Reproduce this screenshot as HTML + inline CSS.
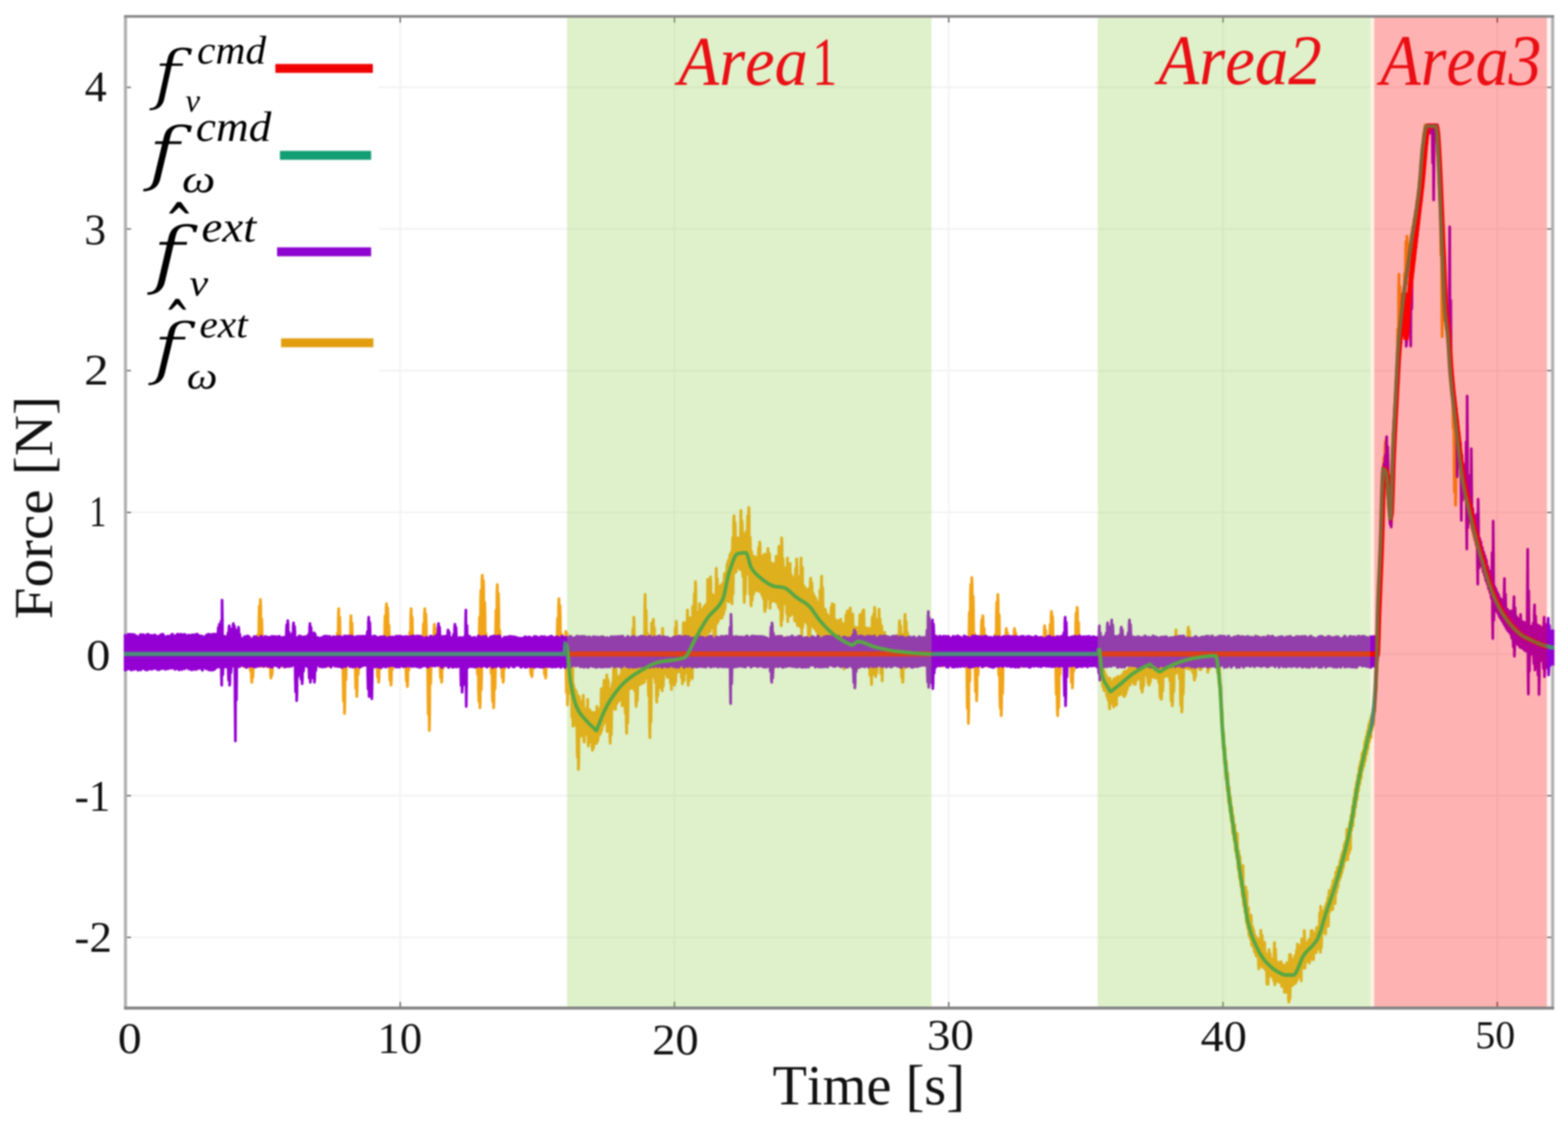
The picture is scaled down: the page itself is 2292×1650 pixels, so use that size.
<!DOCTYPE html>
<html lang="en">
<head>
<meta charset="utf-8">
<title>Force vs Time</title>
<style>
html,body{margin:0;padding:0;background:#fff;}
body{width:2292px;height:1650px;overflow:hidden;}
svg{display:block;filter:blur(0.8px);}
</style>
</head>
<body>
<svg width="2292" height="1650" viewBox="0 0 2292 1650">
<rect width="2292" height="1650" fill="#fff"/>
<path d="M585.0,24.0 V1473.2 M985.9,24.0 V1473.2 M1386.8,24.0 V1473.2 M1787.7,24.0 V1473.2 M2188.6,24.0 V1473.2 M183.4,1369.9 H2269.6 M183.4,1162.8 H2269.6 M183.4,955.8 H2269.6 M183.4,748.8 H2269.6 M183.4,541.7 H2269.6 M183.4,334.6 H2269.6 M183.4,127.6 H2269.6" stroke="#f3f3f3" stroke-width="2.5" fill="none"/>
<rect x="188" y="40" width="366" height="560" fill="#fff"/>
<rect x="2003" y="25.5" width="5.8" height="1447.7" fill="#FCF3E2"/>
<rect x="2261.2" y="25.5" width="6.4" height="1447.7" fill="#FFF4F4"/>
<path d="M585.0,1473.2 v-9 M585.0,24.0 v9 M985.9,1473.2 v-9 M985.9,24.0 v9 M1386.8,1473.2 v-9 M1386.8,24.0 v9 M1787.7,1473.2 v-9 M1787.7,24.0 v9 M2188.6,1473.2 v-9 M2188.6,24.0 v9 M183.4,1369.9 h8 M2269.6,1369.9 h-8 M183.4,1162.8 h8 M2269.6,1162.8 h-8 M183.4,955.8 h8 M2269.6,955.8 h-8 M183.4,748.8 h8 M2269.6,748.8 h-8 M183.4,541.7 h8 M2269.6,541.7 h-8 M183.4,334.6 h8 M2269.6,334.6 h-8 M183.4,127.6 h8 M2269.6,127.6 h-8" stroke="#555" stroke-width="1.8" fill="none"/>
<clipPath id="c"><rect x="180.9" y="24.0" width="2091.2" height="1449.2"/></clipPath>
<path d="M183.4,22.0 V1475.2 M2269.6,22.0 V1475.2" stroke="#b0b0b0" stroke-width="4.5" fill="none"/>
<defs>
<path id="po" d="M181.1,940.5 181.6,972.0 182.1,972.0 182.6,940.5 183.1,942.7 183.6,971.4 184.1,971.4 184.6,942.7 185.1,939.4 185.6,971.6 186.1,971.6 186.6,939.4 187.1,937.9 187.6,970.2 188.1,970.2 188.6,937.9 189.1,941.0 189.6,973.9 190.1,973.9 190.6,941.0 191.1,941.9 191.6,970.3 192.1,970.3 192.6,941.9 193.1,941.4 193.6,974.3 194.1,974.3 194.6,941.4 195.1,941.2 195.6,973.6 196.1,973.6 196.6,941.2 197.1,937.2 197.6,970.5 198.1,970.5 198.6,937.2 199.1,941.0 199.6,970.1 200.1,970.1 200.6,941.0 201.1,938.5 201.6,973.4 202.1,973.4 202.6,938.5 203.1,942.1 203.6,974.1 204.1,974.1 204.6,942.1 205.1,942.3 205.6,969.9 206.1,969.9 206.6,942.3 207.1,941.4 207.6,973.4 208.1,973.4 208.6,941.4 209.1,941.2 209.6,973.9 210.1,973.9 210.6,941.2 211.1,938.8 211.6,969.9 212.1,969.9 212.6,938.8 213.1,939.4 213.6,972.4 214.1,972.4 214.6,939.4 215.1,941.9 215.6,971.8 216.1,971.8 216.6,941.9 217.1,940.7 217.6,970.9 218.1,970.9 218.6,940.7 219.1,942.0 219.6,969.2 220.1,969.2 220.6,942.0 221.1,938.2 221.6,972.4 222.1,972.4 222.6,938.2 223.1,941.6 223.6,970.6 224.1,970.6 224.6,941.6 225.1,942.2 225.6,974.3 226.1,974.3 226.6,942.2 227.1,941.1 227.6,971.8 228.1,971.8 228.6,941.1 229.1,942.8 229.6,972.2 230.1,972.2 230.6,942.8 231.1,942.2 231.6,973.9 232.1,973.9 232.6,942.2 233.1,938.8 233.6,972.9 234.1,972.9 234.6,938.8 235.1,940.6 235.6,973.2 236.1,973.2 236.6,940.6 237.1,941.0 237.6,972.2 238.1,972.2 238.6,941.0 239.1,940.6 239.6,972.0 240.1,972.0 240.6,940.6 241.1,941.4 241.6,973.6 242.1,973.6 242.6,941.4 243.1,941.3 243.6,971.3 244.1,971.3 244.6,941.3 245.1,940.7 245.6,969.2 246.1,969.2 246.6,940.7 247.1,940.3 247.6,973.2 248.1,973.2 248.6,940.3 249.1,939.9 249.6,971.5 250.1,971.5 250.6,939.9 251.1,942.3 251.6,970.7 252.1,970.7 252.6,942.3 253.1,940.4 253.6,969.2 254.1,969.2 254.6,940.4 255.1,937.8 255.6,970.2 256.1,970.2 256.6,937.8 257.1,940.8 257.6,969.4 258.1,969.4 258.6,940.8 259.1,942.1 259.6,971.2 260.1,971.2 260.6,942.1 261.1,941.1 261.6,969.0 262.1,969.0 262.6,941.1 263.1,941.0 263.6,974.2 264.1,974.2 264.6,941.0 265.1,938.9 265.6,970.1 266.1,970.1 266.6,938.9 267.1,939.1 267.6,969.3 268.1,969.3 268.6,939.1 269.1,939.5 269.6,970.3 270.1,970.3 270.6,939.5 271.1,942.7 271.6,971.0 272.1,971.0 272.6,942.7 273.1,938.4 273.6,971.5 274.1,971.5 274.6,938.4 275.1,939.1 275.6,969.1 276.1,969.1 276.6,939.1 277.1,939.6 277.6,972.5 278.1,972.5 278.6,939.6 279.1,940.0 279.6,970.6 280.1,970.6 280.6,940.0 281.1,941.9 281.6,970.9 282.1,970.9 282.6,941.9 283.1,940.0 283.6,970.7 284.1,970.7 284.6,940.0 285.1,938.3 285.6,970.7 286.1,970.7 286.6,938.3 287.1,941.9 287.6,970.1 288.1,970.1 288.6,941.9 289.1,939.9 289.6,973.4 290.1,973.4 290.6,939.9 291.1,942.5 291.6,969.8 292.1,969.8 292.6,942.5 293.1,940.3 293.6,973.5 294.1,973.5 294.6,940.3 295.1,938.1 295.6,970.1 296.1,970.1 296.6,938.1 297.1,938.5 297.6,973.0 298.1,973.0 298.6,938.5 299.1,942.6 299.6,973.5 300.1,973.5 300.6,942.6 301.1,939.1 301.6,973.9 302.1,973.9 302.6,939.1 303.1,940.7 303.6,973.7 304.1,973.7 304.6,940.7 305.1,941.0 305.6,971.7 306.1,971.7 306.6,941.0 307.1,939.9 307.6,970.5 308.1,970.5 308.6,939.9 309.1,937.2 309.6,970.6 310.1,970.6 310.6,937.2 311.1,937.9 311.6,970.9 312.1,970.9 312.6,937.9 313.1,941.1 313.6,973.7 314.1,973.7 314.6,941.1 315.1,941.1 315.6,971.1 316.1,971.1 316.6,941.1 317.1,938.5 317.6,970.9 318.1,970.9 318.6,938.5 319.1,937.8 319.6,972.1 320.1,972.1 320.6,937.8 321.1,942.4 321.6,970.6 322.1,970.6 322.6,942.4 323.1,938.0 323.6,969.0 324.1,969.0 324.6,938.0 325.1,941.9 325.6,972.2 326.1,972.2 326.6,941.9 327.1,938.3 327.6,970.6 328.1,970.6 328.6,938.3 329.1,937.2 329.6,971.7 330.1,971.7 330.6,937.2 331.1,937.4 331.6,969.4 332.1,969.4 332.6,937.4 333.1,938.9 333.6,973.8 334.1,973.8 334.6,938.9 335.1,938.9 335.6,969.1 336.1,969.1 336.6,938.9 337.1,938.1 337.6,971.9 338.1,971.9 338.6,938.1 339.1,940.3 339.6,972.8 340.1,972.8 340.6,940.3 341.1,940.3 341.6,974.2 342.1,974.2 342.6,940.3 343.1,939.8 343.6,969.0 344.1,969.0 344.6,939.8 345.1,939.9 345.6,970.3 346.1,970.3 346.6,939.9 347.1,939.0 347.6,970.3 348.1,970.3 348.6,939.0 349.1,938.6 349.6,970.8 350.1,970.8 350.6,938.6 351.1,942.5 351.6,971.7 352.1,971.7 352.6,942.5 353.1,941.5 353.6,972.6 354.1,972.6 354.6,941.5 355.1,939.2 355.6,973.9 356.1,973.9 356.6,939.2 357.1,938.8 357.6,971.0 358.1,971.0 358.6,938.8 359.1,941.3 359.6,970.5 360.1,970.5 360.6,941.3 361.1,940.8 361.6,974.0 362.1,974.0 362.6,940.8 363.1,941.3 363.6,974.3 364.1,974.3 364.6,941.3 365.1,939.4 365.6,973.6 366.1,980.3 366.6,939.4 367.1,939.2 367.6,990.1 368.1,997.2 368.6,939.2 369.1,940.1 369.6,990.2 370.1,977.3 370.6,940.1 371.1,941.0 371.6,973.9 372.1,973.9 372.6,941.0 373.1,941.2 373.6,972.7 374.1,972.7 374.6,941.2 375.1,940.6 375.6,972.3 376.1,972.3 376.6,940.6 377.1,927.4 377.6,972.4 378.1,972.4 378.6,904.0 379.1,885.6 379.6,973.7 380.1,973.7 380.6,876.1 381.1,886.2 381.6,969.8 382.1,969.8 382.6,904.7 383.1,925.7 383.6,974.1 384.1,974.1 384.6,938.6 385.1,937.8 385.6,969.9 386.1,969.9 386.6,937.8 387.1,942.3 387.6,968.8 388.1,968.8 388.6,942.3 389.1,939.4 389.6,974.2 390.1,974.2 390.6,939.4 391.1,938.4 391.6,972.1 392.1,972.1 392.6,938.4 393.1,941.3 393.6,968.9 394.1,975.2 394.6,941.3 395.1,940.5 395.6,985.9 396.1,991.0 396.6,940.5 397.1,938.0 397.6,986.5 398.1,978.2 398.6,938.0 399.1,937.9 399.6,970.9 400.1,970.9 400.6,937.9 401.1,939.4 401.6,969.0 402.1,969.0 402.6,939.4 403.1,941.9 403.6,971.8 404.1,971.8 404.6,941.9 405.1,938.4 405.6,972.4 406.1,972.4 406.6,938.4 407.1,937.3 407.6,971.0 408.1,971.0 408.6,937.3 409.1,941.8 409.6,971.6 410.1,971.6 410.6,941.8 411.1,938.0 411.6,974.0 412.1,974.0 412.6,938.0 413.1,937.5 413.6,970.5 414.1,970.5 414.6,937.5 415.1,942.1 415.6,974.1 416.1,974.1 416.6,942.1 417.1,937.2 417.6,969.1 418.1,969.1 418.6,937.2 419.1,938.2 419.6,970.4 420.1,970.4 420.6,938.2 421.1,939.3 421.6,974.4 422.1,974.4 422.6,939.3 423.1,941.7 423.6,970.7 424.1,970.7 424.6,941.7 425.1,940.3 425.6,971.8 426.1,971.8 426.6,940.3 427.1,940.2 427.6,971.5 428.1,971.5 428.6,940.2 429.1,939.6 429.6,971.4 430.1,971.4 430.6,939.6 431.1,940.7 431.6,973.6 432.1,973.6 432.6,940.7 433.1,939.4 433.6,971.0 434.1,971.0 434.6,939.4 435.1,937.6 435.6,969.9 436.1,969.9 436.6,937.6 437.1,941.2 437.6,972.6 438.1,972.6 438.6,941.2 439.1,940.8 439.6,971.3 440.1,971.3 440.6,940.8 441.1,939.5 441.6,972.4 442.1,972.4 442.6,939.5 443.1,940.8 443.6,973.7 444.1,973.7 444.6,940.8 445.1,942.0 445.6,971.5 446.1,971.5 446.6,942.0 447.1,940.7 447.6,969.7 448.1,969.7 448.6,940.7 449.1,938.4 449.6,970.3 450.1,970.3 450.6,938.4 451.1,941.0 451.6,973.6 452.1,973.6 452.6,941.0 453.1,940.4 453.6,971.3 454.1,971.3 454.6,940.4 455.1,942.4 455.6,972.4 456.1,972.4 456.6,942.4 457.1,938.5 457.6,972.0 458.1,972.0 458.6,938.5 459.1,938.6 459.6,973.2 460.1,973.2 460.6,938.6 461.1,942.6 461.6,973.3 462.1,973.3 462.6,942.6 463.1,941.4 463.6,973.2 464.1,973.2 464.6,941.4 465.1,941.8 465.6,970.8 466.1,970.8 466.6,941.8 467.1,938.2 467.6,970.7 468.1,970.7 468.6,938.2 469.1,941.1 469.6,973.2 470.1,973.2 470.6,941.1 471.1,939.7 471.6,971.4 472.1,971.4 472.6,939.7 473.1,941.1 473.6,970.3 474.1,970.3 474.6,941.1 475.1,942.2 475.6,971.3 476.1,971.3 476.6,942.2 477.1,941.9 477.6,970.6 478.1,970.6 478.6,941.9 479.1,941.6 479.6,973.7 480.1,973.7 480.6,941.6 481.1,940.0 481.6,971.6 482.1,971.6 482.6,940.0 483.1,941.9 483.6,969.1 484.1,969.1 484.6,941.9 485.1,940.7 485.6,969.1 486.1,969.1 486.6,940.7 487.1,940.0 487.6,971.9 488.1,971.9 488.6,940.0 489.1,941.0 489.6,971.4 490.1,971.4 490.6,941.0 491.1,942.6 491.6,973.4 492.1,973.4 492.6,942.6 493.1,925.5 493.6,973.9 494.1,973.9 494.6,902.3 495.1,889.5 495.6,971.0 496.1,971.0 496.6,902.1 497.1,925.2 497.6,974.2 498.1,974.2 498.6,939.4 499.1,937.4 499.6,970.5 500.1,970.5 500.6,937.4 501.1,942.5 501.6,992.0 502.1,1024.8 502.6,942.5 503.1,937.8 503.6,1042.8 504.1,1025.3 504.6,937.8 505.1,942.2 505.6,993.5 506.1,973.9 506.6,942.2 507.1,942.7 507.6,973.3 508.1,973.3 508.6,942.7 509.1,937.8 509.6,970.4 510.1,970.4 510.6,937.8 511.1,928.0 511.6,972.4 512.0,972.4 512.5,909.8 513.0,899.9 513.5,969.9 514.0,969.9 514.5,910.5 515.0,929.5 515.5,974.4 516.0,974.4 516.5,941.3 517.0,938.6 517.5,973.1 518.0,973.1 518.5,938.6 519.0,940.0 519.5,984.7 520.0,1006.2 520.5,940.0 521.0,939.2 521.5,1017.9 522.0,1006.2 522.5,939.2 523.0,941.7 523.5,985.4 524.0,972.5 524.5,941.7 525.0,939.2 525.5,972.6 526.0,972.6 526.5,939.2 527.0,940.5 527.5,974.2 528.0,974.2 528.5,940.5 529.0,942.3 529.5,973.1 530.0,973.1 530.5,942.3 531.0,939.1 531.5,970.6 532.0,970.6 532.5,939.1 533.0,937.3 533.5,968.9 534.0,968.9 534.5,937.3 535.0,939.6 535.5,970.0 536.0,970.0 536.5,939.6 537.0,939.9 537.5,974.0 538.0,974.0 538.5,939.9 539.0,938.6 539.5,973.6 540.0,973.6 540.5,938.6 541.0,942.4 541.5,969.5 542.0,969.5 542.5,942.4 543.0,940.9 543.5,969.8 544.0,969.8 544.5,940.9 545.0,940.5 545.5,973.0 546.0,973.0 546.5,940.5 547.0,942.7 547.5,970.2 548.0,970.2 548.5,942.7 549.0,938.7 549.5,972.0 550.0,972.0 550.5,938.7 551.0,937.3 551.5,976.9 552.0,990.0 552.5,937.3 553.0,939.9 553.5,997.2 554.0,990.8 554.5,939.9 555.0,937.3 555.5,977.6 556.0,969.8 556.5,937.3 557.0,937.6 557.5,971.0 558.0,971.0 558.5,937.6 559.0,940.8 559.5,971.1 560.0,971.1 560.5,940.8 561.0,932.2 561.5,969.0 562.0,969.0 562.5,914.7 563.0,899.7 563.5,971.9 564.0,971.9 564.5,888.5 565.0,882.3 565.5,969.1 566.0,969.1 566.5,888.2 567.0,899.4 567.5,972.4 568.0,972.4 568.5,913.7 569.0,930.8 569.5,980.8 570.0,994.1 570.5,940.1 571.0,937.9 571.5,1001.4 572.0,993.7 572.5,937.9 573.0,938.3 573.5,978.8 574.0,969.9 574.5,938.3 575.0,941.2 575.5,972.6 576.0,972.6 576.5,941.2 577.0,939.8 577.5,969.2 578.0,969.2 578.5,939.8 579.0,938.9 579.5,972.6 580.0,972.6 580.5,938.9 581.0,939.9 581.5,973.2 582.0,973.2 582.5,939.9 583.0,938.6 583.5,969.5 584.0,969.5 584.5,938.6 585.0,940.6 585.5,970.9 586.0,970.9 586.5,940.6 587.0,941.2 587.5,973.6 588.0,973.6 588.5,941.2 589.0,939.3 589.5,974.1 590.0,974.1 590.5,939.3 591.0,942.7 591.5,972.4 592.0,972.4 592.5,942.7 593.0,940.4 593.5,980.3 594.0,995.3 594.5,940.4 595.0,937.9 595.5,1003.4 596.0,995.1 596.5,937.9 597.0,942.3 597.5,979.1 598.0,969.4 598.5,942.3 599.0,924.0 599.5,973.3 600.0,973.3 600.5,901.7 601.0,889.5 601.5,971.2 602.0,971.2 602.5,902.2 603.0,924.0 603.5,970.0 604.0,970.0 604.5,937.7 605.0,941.6 605.5,973.1 606.0,973.1 606.5,941.6 607.0,941.6 607.5,973.6 608.0,973.6 608.5,941.6 609.0,937.6 609.5,969.1 610.0,969.1 610.5,937.6 611.0,939.1 611.5,972.4 612.0,972.4 612.5,939.1 613.0,941.9 613.5,973.1 614.0,973.1 614.5,941.9 615.0,942.0 615.5,970.4 616.0,970.4 616.5,942.0 617.0,939.0 617.5,970.5 618.0,970.5 618.5,928.8 619.0,911.7 619.5,969.5 620.0,969.5 620.5,897.4 621.0,889.5 621.5,971.6 622.0,971.6 622.5,897.5 623.0,912.3 623.5,969.9 624.0,969.9 624.5,931.3 625.0,942.7 625.5,1000.3 626.0,1043.8 626.5,942.7 627.0,938.3 627.5,1067.6 628.0,1042.8 628.5,938.3 629.0,940.9 629.5,999.3 630.0,972.2 630.5,940.9 631.0,939.4 631.5,970.1 632.0,970.1 632.5,939.4 633.0,933.8 633.5,971.2 634.0,971.2 634.5,919.9 635.0,912.3 635.5,970.4 636.0,970.4 636.5,918.8 637.0,931.1 637.5,971.2 638.0,971.2 638.5,938.6 639.0,940.8 639.5,969.0 640.0,969.0 640.5,940.8 641.0,937.6 641.5,973.4 642.0,973.4 642.5,937.6 643.0,942.3 643.5,978.6 644.0,990.6 644.5,942.3 645.0,938.9 645.5,997.2 646.0,990.9 646.5,938.9 647.0,939.8 647.5,977.0 648.0,969.0 648.5,939.8 649.0,941.0 649.5,970.4 650.0,970.4 650.5,941.0 651.0,942.3 651.5,969.7 652.0,969.7 652.5,942.3 653.0,939.0 653.5,973.5 654.0,973.5 654.5,939.0 655.0,942.2 655.5,971.4 656.0,971.4 656.5,942.2 657.0,941.4 657.5,970.9 658.0,970.9 658.5,941.4 659.0,938.5 659.5,974.3 660.0,974.3 660.5,938.5 661.0,937.4 661.5,971.9 662.0,971.9 662.5,937.4 663.0,942.2 663.5,972.9 664.0,972.9 664.5,942.2 665.0,940.0 665.5,973.9 666.0,973.9 666.5,940.0 667.0,938.5 667.5,974.1 668.0,974.1 668.5,938.5 669.0,937.9 669.5,974.2 670.0,974.2 670.5,937.9 671.0,937.6 671.5,969.9 672.0,969.9 672.5,937.6 673.0,940.4 673.5,970.4 674.0,970.4 674.5,940.4 675.0,937.2 675.5,972.9 676.0,972.9 676.5,937.2 677.0,940.8 677.5,974.4 678.0,974.4 678.5,940.8 679.0,939.0 679.5,974.3 680.0,974.3 680.5,939.0 681.0,939.0 681.5,969.6 682.0,969.6 682.5,939.0 683.0,937.3 683.5,971.7 684.0,971.7 684.5,937.3 685.0,940.6 685.5,970.0 686.0,970.0 686.5,940.6 687.0,938.1 687.5,969.6 688.0,969.6 688.5,938.1 689.0,941.6 689.5,973.9 690.0,973.9 690.5,941.6 691.0,940.6 691.5,970.1 692.0,970.1 692.5,940.6 693.0,942.7 693.5,972.2 694.0,972.2 694.5,942.7 695.0,942.4 695.5,969.6 696.0,969.6 696.5,942.4 697.0,937.3 697.5,972.7 698.0,985.4 698.5,937.3 699.0,940.8 699.5,1007.8 700.0,1025.0 700.5,927.5 701.0,901.9 701.5,1034.5 702.0,1024.7 702.5,880.4 703.0,862.7 703.5,1008.2 704.0,986.1 704.5,848.3 705.0,840.5 705.5,973.3 706.0,973.3 706.5,848.0 707.0,862.3 707.5,969.7 708.0,969.7 708.5,880.6 709.0,901.7 709.5,972.4 710.0,972.4 710.5,926.0 711.0,939.1 711.5,970.6 712.0,970.6 712.5,939.1 713.0,942.0 713.5,973.6 714.0,973.6 714.5,942.0 715.0,942.7 715.5,971.2 716.0,971.2 716.5,942.7 717.0,938.5 717.5,971.0 718.0,984.1 718.5,938.5 719.0,941.7 719.5,1007.4 720.0,1024.9 720.5,941.7 721.0,937.3 721.5,1034.5 722.0,1024.8 722.5,937.3 723.0,940.8 723.5,1007.2 724.0,984.4 724.5,923.0 725.0,891.8 725.5,971.3 726.0,971.3 726.5,867.6 727.0,854.3 727.5,971.5 728.0,971.5 728.5,867.3 729.0,890.8 729.5,973.0 730.0,973.0 730.5,921.3 731.0,940.3 731.5,973.9 732.0,973.9 732.5,940.3 733.0,941.7 733.5,977.0 734.0,990.1 734.5,941.7 735.0,938.0 735.5,997.2 736.0,990.6 736.5,938.0 737.0,939.4 737.5,977.0 738.0,969.0 738.5,939.4 739.0,942.4 739.5,970.9 740.0,970.9 740.5,942.4 741.0,937.8 741.5,971.4 742.0,971.4 742.5,937.8 743.0,938.3 743.5,970.1 744.0,970.1 744.5,938.3 745.0,938.6 745.5,971.0 746.0,971.0 746.5,938.6 747.0,941.3 747.5,969.4 748.0,969.4 748.5,941.3 749.0,942.0 749.5,969.7 750.0,969.7 750.5,942.0 751.0,941.5 751.5,971.5 752.0,971.5 752.5,941.5 753.0,939.1 753.5,970.5 754.0,970.5 754.5,939.1 755.0,939.6 755.5,969.6 756.0,969.6 756.5,939.6 757.0,938.4 757.5,969.3 758.0,969.3 758.5,938.4 759.0,942.2 759.5,972.3 760.0,972.3 760.5,942.2 761.0,938.4 761.5,970.0 762.0,970.0 762.5,938.4 763.0,937.3 763.5,970.7 764.0,970.7 764.5,937.3 765.0,937.3 765.5,969.9 766.0,969.9 766.5,937.3 767.0,942.3 767.5,970.7 768.0,970.7 768.5,942.3 769.0,939.1 769.5,973.2 770.0,973.2 770.5,939.1 771.0,939.3 771.5,969.4 772.0,969.4 772.5,939.3 773.0,939.3 773.5,970.8 774.0,970.8 774.5,939.3 775.0,942.0 775.5,978.4 776.0,985.2 776.5,942.0 777.0,937.3 777.5,988.9 778.0,984.3 778.5,937.3 779.0,938.5 779.5,977.1 780.0,972.5 780.5,938.5 781.0,939.0 781.5,972.1 782.0,972.1 782.5,939.0 783.0,938.7 783.5,969.5 784.0,969.5 784.5,938.7 785.0,940.0 785.5,968.9 786.0,968.9 786.5,940.0 787.0,941.6 787.5,971.8 788.0,971.8 788.5,941.6 789.0,942.4 789.5,970.1 790.0,970.1 790.5,942.4 791.0,942.5 791.5,973.7 792.0,973.7 792.5,942.5 793.0,938.8 793.5,973.9 794.0,973.9 794.5,938.8 795.0,937.2 795.5,975.7 796.0,985.6 796.5,937.2 797.0,938.6 797.5,991.0 798.0,986.4 798.5,938.6 799.0,940.6 799.5,975.3 800.0,969.1 800.5,940.6 801.0,938.4 801.5,974.1 802.0,974.1 802.5,938.4 803.0,941.5 803.5,969.7 804.0,969.7 804.5,941.5 805.0,941.3 805.5,974.2 806.0,974.2 806.5,941.3 807.0,941.5 807.5,972.0 808.0,972.0 808.5,941.5 809.0,939.6 809.5,973.7 810.0,973.7 810.5,939.6 811.0,942.4 811.5,970.6 812.0,970.6 812.5,942.4 813.0,941.7 813.5,973.6 814.0,973.6 814.5,927.9 815.0,904.1 815.5,973.7 816.0,973.7 816.5,885.3 817.0,875.1 817.5,971.6 818.0,971.6 818.5,884.8 819.0,902.7 819.5,970.2 820.0,970.2 820.5,925.9 821.0,939.8 821.5,972.2 822.0,972.2 822.5,939.8 823.0,939.5 823.5,970.8 824.0,970.8 824.5,939.5 825.0,940.9 825.5,972.2 826.0,967.5 826.5,932.7 827.0,922.9 827.5,977.6 828.0,1012.2 828.5,924.9 829.0,929.9 829.5,1030.3 830.0,1016.2 830.5,938.1 831.0,950.0 831.5,999.6 832.0,1013.2 832.5,962.4 833.0,969.8 833.5,1006.7 834.0,1013.4 834.5,976.5 835.0,985.0 835.5,1018.5 836.0,1048.0 836.5,961.1 837.0,945.7 837.5,1061.5 838.0,1037.3 838.5,1000.7 839.0,1005.9 839.5,1041.3 840.0,1045.0 840.5,1009.6 841.0,1008.0 841.5,1052.5 842.0,1060.6 842.5,1010.8 843.0,1018.6 843.5,1071.7 844.0,1106.4 844.5,1020.7 845.0,1016.6 845.5,1124.5 846.0,1110.6 846.5,1018.4 847.0,1023.5 847.5,1076.6 848.0,1059.1 848.5,1025.0 849.0,1026.5 849.5,1074.5 850.0,1059.7 850.5,1027.9 851.0,1029.1 851.5,1062.0 852.0,1076.3 852.5,1016.2 853.0,1034.1 853.5,1084.5 854.0,1084.5 854.5,1035.3 855.0,1036.4 855.5,1066.5 856.0,1067.6 856.5,1037.5 857.0,1038.6 857.5,1072.6 858.0,1073.7 858.5,1039.7 859.0,1022.0 859.5,1071.8 860.0,1090.3 860.5,1036.3 861.0,1037.0 861.5,1076.7 862.0,1077.6 862.5,1038.0 863.0,1044.9 863.5,1079.1 864.0,1084.7 864.5,1045.8 865.0,1041.0 865.5,1091.7 866.0,1096.6 866.5,1041.9 867.0,1048.5 867.5,1093.0 868.0,1087.1 868.5,1049.4 869.0,1041.0 869.5,1085.6 870.0,1086.9 870.5,1047.7 871.0,1041.0 871.5,1086.4 872.0,1086.2 872.5,1032.3 873.0,1046.3 873.5,1083.1 874.0,1080.1 874.5,1043.3 875.0,1044.9 875.5,1075.5 876.0,1073.0 876.5,1042.4 877.0,1035.4 877.5,1072.5 878.0,1070.0 878.5,1032.8 879.0,1006.6 879.5,1067.7 880.0,1065.2 880.5,1029.5 881.0,1024.7 881.5,1060.4 882.0,1058.1 882.5,1006.2 883.0,994.3 883.5,1055.7 884.0,1053.7 884.5,1006.2 885.0,1020.9 885.5,1052.7 886.0,1050.8 886.5,998.2 887.0,986.3 887.5,1069.1 888.0,1060.3 888.5,998.2 889.0,993.9 889.5,1044.9 890.0,1055.4 890.5,1012.2 891.0,1008.9 891.5,1074.4 892.0,1086.2 892.5,1007.2 893.0,1006.2 893.5,1074.1 894.0,1050.9 894.5,1004.7 895.0,998.6 895.5,1035.6 896.0,1034.2 896.5,997.2 897.0,975.5 897.5,1032.2 898.0,1030.8 898.5,994.0 899.0,963.9 899.5,1036.9 900.0,1029.0 900.5,975.5 901.0,994.0 901.5,1028.5 902.0,1027.2 902.5,992.7 903.0,991.4 903.5,1025.8 904.0,1024.6 904.5,990.1 905.0,988.4 905.5,1023.2 906.0,1022.1 906.5,987.2 907.0,986.5 907.5,1020.9 908.0,1019.8 908.5,985.4 909.0,957.1 909.5,1031.4 910.0,1017.2 910.5,957.1 911.0,980.5 911.5,1014.5 912.0,1022.8 912.5,979.0 913.0,981.2 913.5,1022.8 914.0,1042.3 914.5,980.3 915.0,976.7 915.5,1057.5 916.0,1071.7 916.5,975.8 917.0,978.8 917.5,1056.8 918.0,1028.8 918.5,978.0 919.0,975.3 919.5,1007.5 920.0,1006.7 920.5,974.5 921.0,970.1 921.5,1006.1 922.0,1005.4 922.5,969.4 923.0,972.3 923.5,1003.9 924.0,1003.2 924.5,951.8 925.0,919.6 925.5,1006.6 926.0,1005.9 926.5,902.0 927.0,919.4 927.5,1001.6 928.0,1009.9 928.5,950.7 929.0,966.4 929.5,1024.7 930.0,1032.4 930.5,965.7 931.0,966.5 931.5,1023.7 932.0,1007.5 932.5,965.9 933.0,962.1 933.5,998.4 934.0,1000.8 934.5,940.4 935.0,940.4 935.5,1000.8 936.0,1000.1 936.5,949.7 937.0,948.1 937.5,998.4 938.0,997.8 938.5,937.4 939.0,962.3 939.5,998.6 940.0,998.0 940.5,961.7 941.0,934.8 941.5,997.2 942.0,996.6 942.5,892.0 943.0,868.8 943.5,991.8 944.0,991.3 944.5,892.2 945.0,933.1 945.5,990.4 946.0,989.8 946.5,924.8 947.0,955.5 947.5,992.7 948.0,1016.6 948.5,936.0 949.0,957.8 949.5,1056.0 950.0,1078.0 950.5,957.3 951.0,954.0 951.5,1055.3 952.0,1013.6 952.5,910.3 953.0,939.3 953.5,989.7 954.0,989.2 954.5,917.1 955.0,905.1 955.5,987.8 956.0,987.4 956.5,917.3 957.0,937.8 957.5,986.2 958.0,997.3 958.5,950.3 959.0,944.0 959.5,1016.5 960.0,1026.2 960.5,949.6 961.0,950.4 961.5,1016.6 962.0,998.9 962.5,950.1 963.0,951.0 963.5,984.0 964.0,1005.3 964.5,950.8 965.0,947.7 965.5,984.8 966.0,991.7 966.5,947.5 967.0,946.3 967.5,1003.9 968.0,1009.6 968.5,918.4 969.0,948.9 969.5,1002.9 970.0,990.6 970.5,948.8 971.0,944.9 971.5,983.7 972.0,983.6 972.5,949.3 973.0,944.9 973.5,985.2 974.0,985.0 974.5,950.2 975.0,948.5 975.5,989.9 976.0,989.9 976.5,948.4 977.0,946.4 977.5,982.6 978.0,982.5 978.5,946.3 979.0,946.5 979.5,982.6 980.0,998.3 980.5,946.4 981.0,950.1 981.5,1007.7 982.0,984.1 982.5,949.9 983.0,945.8 983.5,998.3 984.0,988.0 984.5,945.6 985.0,947.1 985.5,996.5 986.0,1001.4 986.5,935.9 987.0,917.3 987.5,997.0 988.0,988.9 988.5,908.2 989.0,918.6 989.5,982.8 990.0,982.7 990.5,933.1 991.0,947.7 991.5,978.5 992.0,978.3 992.5,947.5 993.0,946.9 993.5,981.5 994.0,981.2 994.5,946.6 995.0,942.2 995.5,978.6 996.0,990.1 996.5,941.9 997.0,947.4 997.5,999.4 998.0,990.1 998.5,937.9 999.0,910.0 999.5,994.3 1000.0,994.3 1000.5,910.0 1001.0,941.4 1001.5,976.0 1002.0,983.6 1002.5,940.7 1003.0,913.5 1003.5,983.6 1004.0,982.2 1004.5,903.3 1005.0,891.6 1005.5,993.8 1006.0,1001.4 1006.5,903.8 1007.0,902.3 1007.5,995.2 1008.0,979.6 1008.5,906.5 1009.0,929.1 1009.5,963.9 1010.0,964.9 1010.5,902.9 1011.0,920.0 1011.5,981.1 1012.0,991.7 1012.5,886.3 1013.0,918.1 1013.5,961.7 1014.0,959.7 1014.5,897.3 1015.0,867.4 1015.5,956.1 1016.0,954.3 1016.5,850.2 1017.0,861.3 1017.5,956.6 1018.0,954.8 1018.5,894.3 1019.0,908.3 1019.5,946.9 1020.0,945.1 1020.5,906.5 1021.0,905.8 1021.5,947.0 1022.0,945.2 1022.5,882.3 1023.0,882.3 1023.5,945.3 1024.0,945.1 1024.5,891.9 1025.0,893.9 1025.5,940.1 1026.0,952.7 1026.5,892.1 1027.0,890.9 1027.5,934.0 1028.0,932.2 1028.5,889.2 1029.0,886.5 1029.5,934.4 1030.0,932.8 1030.5,884.9 1031.0,884.7 1031.5,929.3 1032.0,927.3 1032.5,883.1 1033.0,887.0 1033.5,927.6 1034.0,926.1 1034.5,846.8 1035.0,879.7 1035.5,924.1 1036.0,922.8 1036.5,868.3 1037.0,851.9 1037.5,923.8 1038.0,922.7 1038.5,843.0 1039.0,851.7 1039.5,918.0 1040.0,917.0 1040.5,868.0 1041.0,870.7 1041.5,916.6 1042.0,915.6 1042.5,869.7 1043.0,875.0 1043.5,933.2 1044.0,946.5 1044.5,874.0 1045.0,870.1 1045.5,933.2 1046.0,909.3 1046.5,869.2 1047.0,830.5 1047.5,911.9 1048.0,910.8 1048.5,845.5 1049.0,869.0 1049.5,908.7 1050.0,906.9 1050.5,856.1 1051.0,865.6 1051.5,903.4 1052.0,902.0 1052.5,864.2 1053.0,858.1 1053.5,903.7 1054.0,902.1 1054.5,856.5 1055.0,854.1 1055.5,903.2 1056.0,896.8 1056.5,852.1 1057.0,851.9 1057.5,897.8 1058.0,894.6 1058.5,846.8 1059.0,838.7 1059.5,890.6 1060.0,886.0 1060.5,845.0 1061.0,836.8 1061.5,878.6 1062.0,873.6 1062.5,830.0 1063.0,823.5 1063.5,869.7 1064.0,865.1 1064.5,818.9 1065.0,819.1 1065.5,879.6 1066.0,858.3 1066.5,815.8 1067.0,810.8 1067.5,851.0 1068.0,848.0 1068.5,807.8 1069.0,807.0 1069.5,849.4 1070.0,882.5 1070.5,804.2 1071.0,785.6 1071.5,868.5 1072.0,840.6 1072.5,760.3 1073.0,753.9 1073.5,837.0 1074.0,834.9 1074.5,763.7 1075.0,779.6 1075.5,836.2 1076.0,834.8 1076.5,788.3 1077.0,786.6 1077.5,829.9 1078.0,829.4 1078.5,786.1 1079.0,791.3 1079.5,829.1 1080.0,828.9 1080.5,791.0 1081.0,789.2 1081.5,832.5 1082.0,832.3 1082.5,781.1 1083.0,746.2 1083.5,830.7 1084.0,830.5 1084.5,761.2 1085.0,767.6 1085.5,835.8 1086.0,842.6 1086.5,779.3 1087.0,788.0 1087.5,867.0 1088.0,880.4 1088.5,787.9 1089.0,783.0 1089.5,868.2 1090.0,845.8 1090.5,783.0 1091.0,776.3 1091.5,827.2 1092.0,829.1 1092.5,772.0 1093.0,753.5 1093.5,836.5 1094.0,840.0 1094.5,741.5 1095.0,753.8 1095.5,843.8 1096.0,868.4 1096.5,785.1 1097.0,803.9 1097.5,879.4 1098.0,885.4 1098.5,806.1 1099.0,810.7 1099.5,877.2 1100.0,863.2 1100.5,812.3 1101.0,814.5 1101.5,868.6 1102.0,858.6 1102.5,815.9 1103.0,813.2 1103.5,860.0 1104.0,861.1 1104.5,814.3 1105.0,820.2 1105.5,862.6 1106.0,863.6 1106.5,821.2 1107.0,816.8 1107.5,858.9 1108.0,859.8 1108.5,810.4 1109.0,800.2 1109.5,863.5 1110.0,864.4 1110.5,792.2 1111.0,799.1 1111.5,863.5 1112.0,864.3 1112.5,812.2 1113.0,813.6 1113.5,869.3 1114.0,870.1 1114.5,821.2 1115.0,824.1 1115.5,866.8 1116.0,875.0 1116.5,818.6 1117.0,810.2 1117.5,887.1 1118.0,893.7 1118.5,830.3 1119.0,818.6 1119.5,888.7 1120.0,880.1 1120.5,820.7 1121.0,809.4 1121.5,871.2 1122.0,871.8 1122.5,801.5 1123.0,809.2 1123.5,874.3 1124.0,874.9 1124.5,808.8 1125.0,811.6 1125.5,889.1 1126.0,878.7 1126.5,831.2 1127.0,830.6 1127.5,878.2 1128.0,878.7 1128.5,831.1 1129.0,823.1 1129.5,875.5 1130.0,875.9 1130.5,837.7 1131.0,835.1 1131.5,878.3 1132.0,878.6 1132.5,835.4 1133.0,823.9 1133.5,875.1 1134.0,875.3 1134.5,812.8 1135.0,823.9 1135.5,881.2 1136.0,881.3 1136.5,833.8 1137.0,836.3 1137.5,880.7 1138.0,887.3 1138.5,798.7 1139.0,798.7 1139.5,887.3 1140.0,890.3 1140.5,804.5 1141.0,799.3 1141.5,905.1 1142.0,914.4 1142.5,786.0 1143.0,794.2 1143.5,906.0 1144.0,890.9 1144.5,816.4 1145.0,838.0 1145.5,882.0 1146.0,882.2 1146.5,838.2 1147.0,829.9 1147.5,879.1 1148.0,879.6 1148.5,837.2 1149.0,837.1 1149.5,877.8 1150.0,896.6 1150.5,837.7 1151.0,815.5 1151.5,908.6 1152.0,885.9 1152.5,835.1 1153.0,827.6 1153.5,883.0 1154.0,890.9 1154.5,823.3 1155.0,824.0 1155.5,899.9 1156.0,890.9 1156.5,839.6 1157.0,842.9 1157.5,890.1 1158.0,891.1 1158.5,843.9 1159.0,846.2 1159.5,890.4 1160.0,897.8 1160.5,847.1 1161.0,843.7 1161.5,907.3 1162.0,897.8 1162.5,846.7 1163.0,830.7 1163.5,908.2 1164.0,901.3 1164.5,816.8 1165.0,830.7 1165.5,912.8 1166.0,914.4 1166.5,854.3 1167.0,850.6 1167.5,909.8 1168.0,910.9 1168.5,847.7 1169.0,842.0 1169.5,895.2 1170.0,916.8 1170.5,838.8 1171.0,815.7 1171.5,895.4 1172.0,928.2 1172.5,853.8 1173.0,829.3 1173.5,916.8 1174.0,902.0 1174.5,855.9 1175.0,857.3 1175.5,900.4 1176.0,901.0 1176.5,858.0 1177.0,862.0 1177.5,904.6 1178.0,909.3 1178.5,862.7 1179.0,861.4 1179.5,902.3 1180.0,911.8 1180.5,862.1 1181.0,865.2 1181.5,926.8 1182.0,935.1 1182.5,866.0 1183.0,859.7 1183.5,942.1 1184.0,929.9 1184.5,850.5 1185.0,845.0 1185.5,912.4 1186.0,913.7 1186.5,851.1 1187.0,860.1 1187.5,914.3 1188.0,915.7 1188.5,867.5 1189.0,868.0 1189.5,916.3 1190.0,917.8 1190.5,871.5 1191.0,873.1 1191.5,918.9 1192.0,920.4 1192.5,874.6 1193.0,878.4 1193.5,922.0 1194.0,923.5 1194.5,879.8 1195.0,880.4 1195.5,926.5 1196.0,927.9 1196.5,881.7 1197.0,886.5 1197.5,924.0 1198.0,925.2 1198.5,862.7 1199.0,873.3 1199.5,929.0 1200.0,930.2 1200.5,858.7 1201.0,842.0 1201.5,933.9 1202.0,935.0 1202.5,858.7 1203.0,885.7 1203.5,934.1 1204.0,935.2 1204.5,889.6 1205.0,889.8 1205.5,938.9 1206.0,940.0 1206.5,890.9 1207.0,896.0 1207.5,938.3 1208.0,939.3 1208.5,897.0 1209.0,898.9 1209.5,940.3 1210.0,941.3 1210.5,899.9 1211.0,902.0 1211.5,944.9 1212.0,945.8 1212.5,902.9 1213.0,903.0 1213.5,941.8 1214.0,942.7 1214.5,897.8 1215.0,887.3 1215.5,944.2 1216.0,945.0 1216.5,882.3 1217.0,887.2 1217.5,950.7 1218.0,951.5 1218.5,896.8 1219.0,883.6 1219.5,968.0 1220.0,946.9 1220.5,908.2 1221.0,906.5 1221.5,951.9 1222.0,964.1 1222.5,907.2 1223.0,906.5 1223.5,955.3 1224.0,954.3 1224.5,907.2 1225.0,908.2 1225.5,954.7 1226.0,955.4 1226.5,908.9 1227.0,911.2 1227.5,955.6 1228.0,956.3 1228.5,905.0 1229.0,905.0 1229.5,955.1 1230.0,955.7 1230.5,911.2 1231.0,911.1 1231.5,958.5 1232.0,959.1 1232.5,911.6 1233.0,918.9 1233.5,977.7 1234.0,960.0 1234.5,919.5 1235.0,911.3 1235.5,955.4 1236.0,956.0 1236.5,900.0 1237.0,898.1 1237.5,958.5 1238.0,959.1 1238.5,893.7 1239.0,892.7 1239.5,963.3 1240.0,963.8 1240.5,892.7 1241.0,917.0 1241.5,965.2 1242.0,965.6 1242.5,917.4 1243.0,888.7 1243.5,960.8 1244.0,970.1 1244.5,917.7 1245.0,907.3 1245.5,965.6 1246.0,965.6 1246.5,897.3 1247.0,922.8 1247.5,966.3 1248.0,965.9 1248.5,922.4 1249.0,917.4 1249.5,973.0 1250.0,958.7 1250.5,916.6 1251.0,921.9 1251.5,961.0 1252.0,960.2 1252.5,921.1 1253.0,917.7 1253.5,966.9 1254.0,976.6 1254.5,917.4 1255.0,917.0 1255.5,966.9 1256.0,961.6 1256.5,908.2 1257.0,898.3 1257.5,961.0 1258.0,961.2 1258.5,908.2 1259.0,909.0 1259.5,957.2 1260.0,957.5 1260.5,899.2 1261.0,893.7 1261.5,957.4 1262.0,957.8 1262.5,891.0 1263.0,913.0 1263.5,963.7 1264.0,964.1 1264.5,921.0 1265.0,917.8 1265.5,969.3 1266.0,964.7 1266.5,918.2 1267.0,917.8 1267.5,960.1 1268.0,960.5 1268.5,918.2 1269.0,918.3 1269.5,965.5 1270.0,965.5 1270.5,918.8 1271.0,918.5 1271.5,986.7 1272.0,986.7 1272.5,919.0 1273.0,923.2 1273.5,986.3 1274.0,1000.5 1274.5,923.6 1275.0,902.1 1275.5,986.3 1276.0,962.6 1276.5,912.3 1277.0,897.2 1277.5,969.6 1278.0,975.3 1278.5,887.5 1279.0,897.4 1279.5,984.0 1280.0,988.9 1280.5,915.7 1281.0,905.6 1281.5,984.1 1282.0,975.3 1282.5,925.3 1283.0,905.6 1283.5,965.7 1284.0,965.9 1284.5,927.9 1285.0,890.4 1285.5,965.0 1286.0,965.3 1286.5,904.5 1287.0,919.0 1287.5,984.5 1288.0,962.5 1288.5,914.4 1289.0,917.9 1289.5,995.1 1290.0,966.9 1290.5,925.6 1291.0,934.8 1291.5,966.9 1292.0,967.1 1292.5,929.6 1293.0,924.1 1293.5,965.7 1294.0,965.9 1294.5,933.4 1295.0,929.6 1295.5,964.6 1296.0,964.8 1296.5,931.3 1297.0,931.5 1297.5,963.5 1298.0,963.7 1298.5,931.7 1299.0,931.8 1299.5,966.7 1300.0,966.9 1300.5,932.0 1301.0,934.2 1301.5,965.5 1302.0,965.7 1302.5,934.3 1303.0,934.5 1303.5,966.2 1304.0,966.4 1304.5,934.5 1305.0,937.0 1305.5,967.0 1306.0,967.2 1306.5,937.1 1307.0,937.1 1307.5,967.3 1308.0,967.4 1308.5,937.2 1309.0,934.5 1309.5,966.4 1310.0,966.5 1310.5,934.6 1311.0,935.0 1311.5,970.2 1312.0,970.4 1312.5,935.1 1313.0,927.9 1313.5,966.4 1314.0,966.5 1314.5,914.5 1315.0,907.1 1315.5,970.1 1316.0,970.2 1316.5,914.9 1317.0,927.9 1317.5,976.1 1318.0,990.1 1318.5,936.2 1319.0,939.4 1319.5,997.2 1320.0,990.0 1320.5,939.5 1321.0,927.0 1321.5,976.6 1322.0,968.5 1322.5,908.2 1323.0,897.8 1323.5,968.4 1324.0,968.5 1324.5,908.1 1325.0,922.3 1325.5,969.7 1326.0,975.1 1326.5,924.9 1327.0,932.0 1327.5,968.1 1328.0,968.2 1328.5,939.6 1329.0,940.0 1329.5,971.2 1330.0,971.3 1330.5,940.1 1331.0,938.7 1331.5,969.6 1332.0,969.7 1332.5,938.8 1333.0,940.5 1333.5,969.7 1334.0,969.8 1334.5,940.6 1335.0,941.0 1335.5,968.1 1336.0,968.2 1336.5,941.1 1337.0,936.3 1337.5,969.5 1338.0,969.6 1338.5,936.3 1339.0,938.4 1339.5,969.9 1340.0,970.0 1340.5,938.4 1341.0,940.6 1341.5,971.7 1342.0,971.7 1342.5,940.7 1343.0,938.6 1343.5,968.4 1344.0,968.5 1344.5,937.7 1345.0,937.8 1345.5,970.1 1346.0,970.1 1346.5,937.9 1347.0,941.1 1347.5,970.3 1348.0,970.3 1348.5,941.2 1349.0,941.9 1349.5,971.7 1350.0,971.7 1350.5,941.9 1351.0,938.6 1351.5,972.5 1352.0,972.5 1352.5,938.6 1353.0,940.4 1353.5,968.9 1354.0,969.0 1354.5,940.4 1355.0,942.0 1355.5,971.7 1356.0,971.7 1356.5,942.0 1357.0,939.4 1357.5,972.7 1358.0,972.7 1358.5,939.4 1359.0,938.0 1359.5,971.4 1360.0,971.4 1360.5,938.0 1361.0,937.6 1361.5,972.2 1362.0,972.2 1362.5,937.6 1363.0,939.8 1363.5,974.3 1364.0,974.3 1364.5,939.8 1365.0,939.0 1365.5,968.9 1366.0,968.9 1366.5,939.0 1367.0,938.2 1367.5,969.5 1368.0,969.5 1368.5,938.2 1369.0,939.4 1369.5,971.4 1370.0,971.4 1370.5,939.4 1371.0,938.5 1371.5,973.2 1372.0,973.2 1372.5,938.5 1373.0,940.7 1373.5,972.3 1374.0,972.3 1374.5,940.7 1375.0,942.2 1375.5,972.3 1376.0,972.3 1376.5,942.2 1377.0,939.0 1377.5,973.6 1378.0,973.6 1378.5,939.0 1379.0,938.1 1379.5,972.5 1380.0,972.5 1380.5,938.1 1381.0,941.7 1381.5,969.5 1382.0,969.5 1382.5,941.7 1383.0,942.5 1383.5,972.7 1384.0,972.7 1384.5,942.5 1385.0,938.9 1385.5,969.5 1386.0,969.5 1386.5,938.9 1387.0,941.6 1387.5,971.0 1388.0,971.0 1388.5,941.6 1389.0,942.0 1389.5,969.0 1390.0,969.0 1390.5,942.0 1391.0,939.4 1391.5,974.4 1392.0,974.4 1392.5,939.4 1393.0,941.9 1393.5,973.9 1394.0,973.9 1394.5,941.9 1395.0,938.5 1395.5,971.3 1396.0,971.3 1396.5,938.5 1397.0,940.8 1397.5,970.3 1398.0,970.3 1398.5,940.8 1399.0,940.9 1399.5,968.9 1400.0,968.9 1400.5,940.9 1401.0,941.3 1401.5,970.2 1402.0,970.2 1402.5,941.3 1403.0,940.9 1403.5,973.7 1404.0,973.7 1404.5,940.9 1405.0,941.4 1405.5,973.0 1406.0,973.0 1406.5,941.4 1407.0,939.5 1407.5,971.6 1408.0,971.6 1408.5,939.5 1409.0,939.0 1409.5,972.9 1410.0,972.9 1410.5,939.0 1411.0,938.8 1411.5,972.7 1412.0,972.7 1412.5,938.8 1413.0,941.1 1413.5,995.2 1414.0,1035.3 1414.5,941.1 1415.0,942.4 1415.5,1057.3 1416.0,1035.2 1416.5,926.5 1417.0,894.9 1417.5,995.4 1418.0,970.8 1418.5,871.7 1419.0,854.0 1419.5,970.6 1420.0,970.6 1420.5,844.0 1421.0,853.8 1421.5,969.5 1422.0,969.5 1422.5,871.6 1423.0,897.4 1423.5,973.8 1424.0,973.8 1424.5,926.2 1425.0,939.3 1425.5,987.3 1426.0,1011.1 1426.5,939.3 1427.0,940.0 1427.5,1024.1 1428.0,1011.3 1428.5,940.0 1429.0,940.6 1429.5,986.7 1430.0,971.9 1430.5,940.6 1431.0,942.5 1431.5,971.7 1432.0,971.7 1432.5,942.5 1433.0,929.5 1433.5,969.2 1434.0,969.2 1434.5,916.0 1435.0,905.8 1435.5,973.4 1436.0,973.4 1436.5,899.9 1437.0,906.4 1437.5,971.6 1438.0,971.6 1438.5,918.2 1439.0,933.9 1439.5,973.5 1440.0,973.5 1440.5,942.7 1441.0,940.5 1441.5,968.9 1442.0,968.9 1442.5,940.5 1443.0,940.7 1443.5,973.1 1444.0,973.1 1444.5,940.7 1445.0,941.5 1445.5,974.3 1446.0,974.3 1446.5,941.5 1447.0,940.2 1447.5,972.2 1448.0,972.2 1448.5,940.2 1449.0,937.6 1449.5,969.1 1450.0,969.1 1450.5,937.6 1451.0,940.7 1451.5,971.7 1452.0,971.7 1452.5,940.7 1453.0,942.6 1453.5,972.4 1454.0,972.4 1454.5,942.6 1455.0,927.1 1455.5,972.6 1456.0,972.6 1456.5,900.5 1457.0,880.0 1457.5,971.7 1458.0,971.7 1458.5,868.8 1459.0,879.3 1459.5,971.5 1460.0,986.8 1460.5,898.5 1461.0,927.0 1461.5,1014.5 1462.0,1034.8 1462.5,942.2 1463.0,941.7 1463.5,1045.9 1464.0,1034.9 1464.5,941.7 1465.0,938.9 1465.5,1013.8 1466.0,986.9 1466.5,938.9 1467.0,941.0 1467.5,969.4 1468.0,969.4 1468.5,941.0 1469.0,934.2 1469.5,969.0 1470.0,969.0 1470.5,924.1 1471.0,918.5 1471.5,972.4 1472.0,972.4 1472.5,924.3 1473.0,934.6 1473.5,972.9 1474.0,972.9 1474.5,941.0 1475.0,942.1 1475.5,971.8 1476.0,971.8 1476.5,942.1 1477.0,940.6 1477.5,969.2 1478.0,969.2 1478.5,940.6 1479.0,939.4 1479.5,970.6 1480.0,970.6 1480.5,939.4 1481.0,933.3 1481.5,972.6 1482.0,972.6 1482.5,923.8 1483.0,918.5 1483.5,971.8 1484.0,971.8 1484.5,924.4 1485.0,932.3 1485.5,969.3 1486.0,969.3 1486.5,937.8 1487.0,940.6 1487.5,971.6 1488.0,971.6 1488.5,940.6 1489.0,939.4 1489.5,973.5 1490.0,973.5 1490.5,939.4 1491.0,942.2 1491.5,974.2 1492.0,974.2 1492.5,942.2 1493.0,938.7 1493.5,971.4 1494.0,971.4 1494.5,938.7 1495.0,940.9 1495.5,969.7 1496.0,969.7 1496.5,940.9 1497.0,939.5 1497.5,974.0 1498.0,974.0 1498.5,939.5 1499.0,939.4 1499.5,970.4 1500.0,970.4 1500.5,939.4 1501.0,939.4 1501.5,969.9 1502.0,969.9 1502.5,939.4 1503.0,941.9 1503.5,973.8 1504.0,973.8 1504.5,941.9 1505.0,939.7 1505.5,974.4 1506.0,974.4 1506.5,939.7 1507.0,940.1 1507.5,970.5 1508.0,970.5 1508.5,940.1 1509.0,938.9 1509.5,971.1 1510.0,971.1 1510.5,938.9 1511.0,939.2 1511.5,969.0 1512.0,969.0 1512.5,939.2 1513.0,942.1 1513.5,969.5 1514.0,969.5 1514.5,942.1 1515.0,937.7 1515.5,971.1 1516.0,971.1 1516.5,937.7 1517.0,941.8 1517.5,969.8 1518.0,969.8 1518.5,941.8 1519.0,941.1 1519.5,969.2 1520.0,969.2 1520.5,941.1 1521.0,938.1 1521.5,973.4 1522.0,973.4 1522.5,938.1 1523.0,941.2 1523.5,970.3 1524.0,970.3 1524.5,941.2 1525.0,931.2 1525.5,972.2 1526.0,972.2 1526.5,920.3 1527.0,914.4 1527.5,970.0 1528.0,970.0 1528.5,921.3 1529.0,934.0 1529.5,972.2 1530.0,972.2 1530.5,941.9 1531.0,940.0 1531.5,972.6 1532.0,972.6 1532.5,940.0 1533.0,942.0 1533.5,970.5 1534.0,970.5 1534.5,932.0 1535.0,912.8 1535.5,970.3 1536.0,970.3 1536.5,900.4 1537.0,893.7 1537.5,969.3 1538.0,969.3 1538.5,900.7 1539.0,913.2 1539.5,973.2 1540.0,973.2 1540.5,929.5 1541.0,941.0 1541.5,969.3 1542.0,969.3 1542.5,941.0 1543.0,937.5 1543.5,989.2 1544.0,1015.0 1544.5,937.5 1545.0,940.4 1545.5,1034.8 1546.0,1045.9 1546.5,940.4 1547.0,939.6 1547.5,1034.8 1548.0,1014.5 1548.5,939.6 1549.0,941.2 1549.5,985.7 1550.0,970.0 1550.5,941.2 1551.0,941.0 1551.5,969.7 1552.0,969.7 1552.5,941.0 1553.0,937.9 1553.5,973.2 1554.0,973.2 1554.5,937.9 1555.0,941.9 1555.5,973.1 1556.0,973.1 1556.5,941.9 1557.0,937.9 1557.5,972.9 1558.0,972.9 1558.5,937.9 1559.0,937.4 1559.5,969.0 1560.0,969.0 1560.5,937.4 1561.0,942.4 1561.5,972.3 1562.0,972.3 1562.5,942.4 1563.0,938.8 1563.5,970.8 1564.0,970.8 1564.5,938.8 1565.0,942.1 1565.5,981.7 1566.0,997.1 1566.5,942.1 1567.0,942.2 1567.5,1005.5 1568.0,996.6 1568.5,942.2 1569.0,941.5 1569.5,980.8 1570.0,971.1 1570.5,941.5 1571.0,929.2 1571.5,971.0 1572.0,971.0 1572.5,910.2 1573.0,895.8 1573.5,972.7 1574.0,972.7 1574.5,887.5 1575.0,895.4 1575.5,971.3 1576.0,971.3 1576.5,909.8 1577.0,930.8 1577.5,974.0 1578.0,974.0 1578.5,942.1 1579.0,937.3 1579.5,971.5 1580.0,971.5 1580.5,937.3 1581.0,937.8 1581.5,969.1 1582.0,969.1 1582.5,937.8 1583.0,938.4 1583.5,971.9 1584.0,971.9 1584.5,938.4 1585.0,941.4 1585.5,971.9 1586.0,971.9 1586.5,941.4 1587.0,940.0 1587.5,969.0 1588.0,969.0 1588.5,940.0 1589.0,940.5 1589.5,971.1 1590.0,971.1 1590.5,940.5 1591.0,937.3 1591.5,971.4 1592.0,971.4 1592.5,937.3 1593.0,939.8 1593.5,971.7 1594.0,971.7 1594.5,939.8 1595.0,938.8 1595.5,969.2 1596.0,969.2 1596.5,938.8 1597.0,942.6 1597.5,971.5 1598.0,971.5 1598.5,942.6 1599.0,938.5 1599.5,971.3 1600.0,971.3 1600.5,938.5 1601.0,941.8 1601.5,972.9 1602.0,972.9 1602.5,941.8 1603.0,942.6 1603.5,971.2 1604.0,971.2 1604.5,942.6 1605.0,941.2 1605.5,973.2 1606.0,967.0 1606.5,934.9 1607.0,931.4 1607.5,963.1 1608.0,967.6 1608.5,942.9 1609.0,954.4 1609.5,980.6 1610.0,991.7 1610.5,965.5 1611.0,976.3 1611.5,999.9 1612.0,1003.4 1612.5,979.7 1613.0,978.8 1613.5,1006.9 1614.0,1009.2 1614.5,981.1 1615.0,984.5 1615.5,1007.6 1616.0,1009.4 1616.5,986.2 1617.0,987.9 1617.5,1013.7 1618.0,1017.5 1618.5,989.5 1619.0,993.1 1619.5,1021.7 1620.0,1023.5 1620.5,994.8 1621.0,994.6 1621.5,1028.8 1622.0,1036.0 1622.5,991.3 1623.0,999.0 1623.5,1028.8 1624.0,1025.1 1624.5,998.8 1625.0,998.0 1625.5,1024.6 1626.0,1023.8 1626.5,997.0 1627.0,995.4 1627.5,1026.9 1628.0,1033.3 1628.5,991.9 1629.0,995.8 1629.5,1019.1 1630.0,1024.8 1630.5,995.1 1631.0,991.3 1631.5,1030.3 1632.0,1030.3 1632.5,990.5 1633.0,989.4 1633.5,1017.2 1634.0,1016.4 1634.5,988.6 1635.0,990.7 1635.5,1016.0 1636.0,1015.3 1636.5,989.9 1637.0,989.7 1637.5,1014.7 1638.0,1013.9 1638.5,988.9 1639.0,987.6 1639.5,1011.1 1640.0,1013.0 1640.5,986.7 1641.0,985.7 1641.5,1015.0 1642.0,1016.8 1642.5,984.9 1643.0,981.6 1643.5,1017.9 1644.0,1016.6 1644.5,980.8 1645.0,982.7 1645.5,1014.6 1646.0,1011.3 1646.5,981.8 1647.0,980.7 1647.5,1008.1 1648.0,1005.3 1648.5,979.8 1649.0,978.8 1649.5,1001.9 1650.0,1001.0 1650.5,977.9 1651.0,973.9 1651.5,1001.3 1652.0,1000.5 1652.5,973.1 1653.0,974.1 1653.5,997.6 1654.0,996.8 1654.5,973.3 1655.0,973.5 1655.5,996.4 1656.0,995.7 1656.5,972.7 1657.0,971.6 1657.5,995.8 1658.0,999.9 1658.5,970.9 1659.0,970.6 1659.5,999.9 1660.0,993.8 1660.5,970.0 1661.0,965.3 1661.5,994.1 1662.0,993.5 1662.5,967.4 1663.0,965.9 1663.5,991.2 1664.0,990.6 1664.5,965.3 1665.0,967.3 1665.5,991.6 1666.0,991.6 1666.5,966.7 1667.0,963.3 1667.5,995.5 1668.0,1006.6 1668.5,962.7 1669.0,965.4 1669.5,1011.7 1670.0,1008.4 1670.5,964.8 1671.0,964.8 1671.5,1002.4 1672.0,987.9 1672.5,964.3 1673.0,963.9 1673.5,986.9 1674.0,986.4 1674.5,963.4 1675.0,959.4 1675.5,986.5 1676.0,986.0 1676.5,958.9 1677.0,959.4 1677.5,988.3 1678.0,998.1 1678.5,958.9 1679.0,961.2 1679.5,1001.4 1680.0,999.7 1680.5,960.2 1681.0,958.8 1681.5,996.7 1682.0,985.1 1682.5,959.5 1683.0,959.9 1683.5,985.6 1684.0,986.6 1684.5,960.9 1685.0,962.9 1685.5,989.5 1686.0,985.8 1686.5,962.4 1687.0,962.6 1687.5,989.5 1688.0,990.4 1688.5,963.5 1689.0,967.0 1689.5,990.2 1690.0,991.0 1690.5,967.8 1691.0,968.4 1691.5,990.8 1692.0,991.5 1692.5,969.0 1693.0,966.9 1693.5,991.3 1694.0,998.1 1694.5,967.5 1695.0,969.0 1695.5,1011.4 1696.0,1019.1 1696.5,968.9 1697.0,966.9 1697.5,1022.1 1698.0,1017.4 1698.5,966.0 1699.0,967.2 1699.5,1009.8 1700.0,999.1 1700.5,966.6 1701.0,967.3 1701.5,988.5 1702.0,987.9 1702.5,966.7 1703.0,963.0 1703.5,988.2 1704.0,988.2 1704.5,962.4 1705.0,962.4 1705.5,988.2 1706.0,987.5 1706.5,961.9 1707.0,964.4 1707.5,985.7 1708.0,985.2 1708.5,963.9 1709.0,960.9 1709.5,986.0 1710.0,995.0 1710.5,960.5 1711.0,960.5 1711.5,1011.1 1712.0,1024.3 1712.5,960.1 1713.0,961.6 1713.5,1031.6 1714.0,1024.6 1714.5,961.1 1715.0,957.7 1715.5,1011.1 1716.0,1003.6 1716.5,957.3 1717.0,948.7 1717.5,984.5 1718.0,984.1 1718.5,930.4 1719.0,920.6 1719.5,980.1 1720.0,979.7 1720.5,930.0 1721.0,946.2 1721.5,983.4 1722.0,980.5 1722.5,956.0 1723.0,957.7 1723.5,979.7 1724.0,992.0 1724.5,957.3 1725.0,956.9 1725.5,1013.9 1726.0,1031.2 1726.5,956.6 1727.0,954.8 1727.5,1040.7 1728.0,1031.1 1728.5,954.4 1729.0,955.4 1729.5,1014.4 1730.0,992.2 1730.5,955.1 1731.0,953.9 1731.5,976.3 1732.0,976.0 1732.5,953.6 1733.0,954.8 1733.5,976.3 1734.0,976.1 1734.5,946.6 1735.0,931.8 1735.5,975.1 1736.0,974.8 1736.5,921.8 1737.0,916.5 1737.5,977.9 1738.0,977.6 1738.5,921.9 1739.0,931.4 1739.5,976.3 1740.0,976.0 1740.5,943.8 1741.0,951.5 1741.5,978.6 1742.0,973.7 1742.5,951.3 1743.0,951.9 1743.5,983.1 1744.0,981.7 1744.5,951.6 1745.0,950.0 1745.5,988.8 1746.0,994.1 1746.5,949.8 1747.0,948.1 1747.5,988.7 1748.0,978.8 1748.5,947.9 1749.0,949.6 1749.5,974.7 1750.0,974.5 1750.5,949.4 1751.0,950.4 1751.5,974.5 1752.0,974.4 1752.5,950.2 1753.0,946.1 1753.5,973.0 1754.0,978.5 1754.5,945.9 1755.0,947.5 1755.5,978.5 1756.0,970.5 1756.5,947.4 1757.0,949.7 1757.5,972.5 1758.0,971.0 1758.5,949.6 1759.0,945.5 1759.5,971.8 1760.0,971.7 1760.5,945.3 1761.0,947.5 1761.5,972.2 1762.0,972.1 1762.5,947.4 1763.0,945.0 1763.5,971.7 1764.0,971.6 1764.5,944.9 1765.0,946.6 1765.5,982.5 1766.0,969.3 1766.5,946.5 1767.0,947.7 1767.5,977.3 1768.0,969.4 1768.5,947.6 1769.0,944.6 1769.5,972.5 1770.0,972.4 1770.5,944.5 1771.0,946.3 1771.5,970.3 1772.0,970.2 1772.5,946.2 1773.0,945.3 1773.5,970.7 1774.0,970.6 1774.5,945.2 1775.0,948.0 1775.5,971.1 1776.0,971.1 1776.5,948.0 1777.0,947.7 1777.5,972.5 1778.0,974.7 1778.5,949.9 1779.0,950.9 1779.5,977.0 1780.0,983.6 1780.5,957.6 1781.0,965.8 1781.5,992.0 1782.0,1000.7 1782.5,974.5 1783.0,986.8 1783.5,1009.7 1784.0,1024.8 1784.5,1001.9 1785.0,1019.7 1785.5,1043.3 1786.0,1062.2 1786.5,1038.7 1787.0,1056.4 1787.5,1079.8 1788.0,1093.3 1788.5,1069.9 1789.0,1080.9 1789.5,1105.0 1790.0,1116.1 1790.5,1092.0 1791.0,1103.0 1791.5,1128.6 1792.0,1138.6 1792.5,1112.9 1793.0,1120.7 1793.5,1146.7 1794.0,1155.7 1794.5,1129.7 1795.0,1141.2 1795.5,1165.6 1796.0,1174.0 1796.5,1149.6 1797.0,1157.0 1797.5,1179.7 1798.0,1187.4 1798.5,1164.6 1799.0,1171.8 1799.5,1193.6 1800.0,1200.7 1800.5,1178.9 1801.0,1185.5 1801.5,1211.4 1802.0,1218.2 1802.5,1192.2 1803.0,1198.5 1803.5,1222.2 1804.0,1228.9 1804.5,1205.0 1805.0,1205.0 1805.5,1237.4 1806.0,1244.1 1806.5,1216.6 1807.0,1226.8 1807.5,1247.7 1808.0,1254.4 1808.5,1218.2 1809.0,1236.8 1809.5,1264.2 1810.0,1270.8 1810.5,1243.4 1811.0,1251.0 1811.5,1277.3 1812.0,1283.9 1812.5,1251.7 1813.0,1264.8 1813.5,1289.2 1814.0,1295.6 1814.5,1265.2 1815.0,1277.0 1815.5,1303.7 1816.0,1310.1 1816.5,1283.4 1817.0,1265.2 1817.5,1317.1 1818.0,1323.5 1818.5,1295.1 1819.0,1304.4 1819.5,1327.1 1820.0,1333.8 1820.5,1303.2 1821.0,1296.7 1821.5,1342.2 1822.0,1348.5 1822.5,1303.2 1823.0,1331.2 1823.5,1351.9 1824.0,1357.0 1824.5,1326.5 1825.0,1326.5 1825.5,1364.2 1826.0,1368.1 1826.5,1342.5 1827.0,1342.6 1827.5,1369.3 1828.0,1372.7 1828.5,1337.4 1829.0,1342.6 1829.5,1379.0 1830.0,1382.0 1830.5,1353.4 1831.0,1356.2 1831.5,1381.7 1832.0,1384.4 1832.5,1358.8 1833.0,1364.0 1833.5,1389.4 1834.0,1391.8 1834.5,1366.3 1835.0,1369.6 1835.5,1391.2 1836.0,1396.6 1836.5,1371.8 1837.0,1370.2 1837.5,1396.2 1838.0,1398.2 1838.5,1372.2 1839.0,1375.2 1839.5,1401.8 1840.0,1416.0 1840.5,1377.1 1841.0,1378.2 1841.5,1409.1 1842.0,1405.0 1842.5,1380.0 1843.0,1359.6 1843.5,1409.9 1844.0,1411.6 1844.5,1386.4 1845.0,1367.2 1845.5,1412.5 1846.0,1414.0 1846.5,1377.1 1847.0,1387.8 1847.5,1412.0 1848.0,1413.3 1848.5,1377.1 1849.0,1392.5 1849.5,1416.6 1850.0,1417.8 1850.5,1393.7 1851.0,1394.7 1851.5,1417.7 1852.0,1438.4 1852.5,1395.8 1853.0,1397.4 1853.5,1438.4 1854.0,1422.7 1854.5,1398.4 1855.0,1387.9 1855.5,1425.0 1856.0,1426.0 1856.5,1393.3 1857.0,1400.3 1857.5,1425.5 1858.0,1426.4 1858.5,1401.2 1859.0,1402.1 1859.5,1427.1 1860.0,1428.0 1860.5,1402.9 1861.0,1404.9 1861.5,1430.3 1862.0,1433.6 1862.5,1387.4 1863.0,1377.6 1863.5,1439.3 1864.0,1433.6 1864.5,1387.4 1865.0,1405.6 1865.5,1432.8 1866.0,1433.4 1866.5,1406.2 1867.0,1406.0 1867.5,1434.1 1868.0,1434.7 1868.5,1406.5 1869.0,1410.1 1869.5,1433.5 1870.0,1434.1 1870.5,1410.6 1871.0,1408.9 1871.5,1436.2 1872.0,1436.7 1872.5,1405.4 1873.0,1409.0 1873.5,1441.7 1874.0,1441.7 1874.5,1409.5 1875.0,1410.3 1875.5,1438.2 1876.0,1438.5 1876.5,1410.7 1877.0,1413.0 1877.5,1450.1 1878.0,1438.2 1878.5,1413.2 1879.0,1414.4 1879.5,1450.1 1880.0,1435.4 1880.5,1414.5 1881.0,1407.0 1881.5,1436.1 1882.0,1448.0 1882.5,1412.7 1883.0,1413.2 1883.5,1458.7 1884.0,1464.5 1884.5,1413.2 1885.0,1395.0 1885.5,1459.7 1886.0,1444.2 1886.5,1395.0 1887.0,1414.3 1887.5,1436.9 1888.0,1436.4 1888.5,1401.6 1889.0,1412.4 1889.5,1440.3 1890.0,1439.0 1890.5,1406.8 1891.0,1414.6 1891.5,1436.8 1892.0,1436.3 1892.5,1397.0 1893.0,1397.0 1893.5,1437.3 1894.0,1435.9 1894.5,1403.2 1895.0,1389.7 1895.5,1433.6 1896.0,1431.6 1896.5,1379.5 1897.0,1389.7 1897.5,1429.0 1898.0,1426.6 1898.5,1400.8 1899.0,1400.7 1899.5,1425.1 1900.0,1422.5 1900.5,1382.1 1901.0,1395.1 1901.5,1417.6 1902.0,1433.5 1902.5,1380.0 1903.0,1372.2 1903.5,1412.7 1904.0,1410.6 1904.5,1387.1 1905.0,1385.9 1905.5,1414.8 1906.0,1409.5 1906.5,1359.9 1907.0,1369.2 1907.5,1414.8 1908.0,1407.2 1908.5,1378.8 1909.0,1379.0 1909.5,1405.9 1910.0,1404.8 1910.5,1377.9 1911.0,1378.3 1911.5,1401.8 1912.0,1403.2 1912.5,1377.3 1913.0,1373.4 1913.5,1401.8 1914.0,1407.4 1914.5,1372.4 1915.0,1373.6 1915.5,1403.2 1916.0,1396.0 1916.5,1360.1 1917.0,1372.0 1917.5,1396.0 1918.0,1394.9 1918.5,1360.1 1919.0,1370.9 1919.5,1392.1 1920.0,1402.6 1920.5,1369.8 1921.0,1366.7 1921.5,1389.8 1922.0,1388.6 1922.5,1365.4 1923.0,1363.2 1923.5,1392.1 1924.0,1392.1 1924.5,1356.0 1925.0,1360.9 1925.5,1387.2 1926.0,1385.4 1926.5,1354.4 1927.0,1354.4 1927.5,1380.2 1928.0,1377.8 1928.5,1356.9 1929.0,1334.6 1929.5,1376.9 1930.0,1391.7 1930.5,1324.7 1931.0,1345.2 1931.5,1384.9 1932.0,1368.6 1932.5,1341.9 1933.0,1338.8 1933.5,1362.9 1934.0,1359.2 1934.5,1335.3 1935.0,1330.7 1935.5,1358.3 1936.0,1354.9 1936.5,1327.3 1937.0,1325.1 1937.5,1365.2 1938.0,1347.9 1938.5,1321.9 1939.0,1320.1 1939.5,1353.6 1940.0,1339.8 1940.5,1317.2 1941.0,1311.9 1941.5,1353.6 1942.0,1337.3 1942.5,1309.0 1943.0,1301.4 1943.5,1331.9 1944.0,1332.1 1944.5,1306.4 1945.0,1301.4 1945.5,1329.2 1946.0,1325.1 1946.5,1298.6 1947.0,1294.5 1947.5,1321.2 1948.0,1329.2 1948.5,1287.1 1949.0,1287.1 1949.5,1317.1 1950.0,1320.5 1950.5,1289.0 1951.0,1283.4 1951.5,1320.5 1952.0,1307.7 1952.5,1274.9 1953.0,1278.4 1953.5,1304.6 1954.0,1301.2 1954.5,1275.1 1955.0,1267.5 1955.5,1297.0 1956.0,1293.6 1956.5,1267.1 1957.0,1266.5 1957.5,1287.3 1958.0,1283.9 1958.5,1263.0 1959.0,1257.0 1959.5,1282.1 1960.0,1278.6 1960.5,1253.5 1961.0,1249.1 1961.5,1275.7 1962.0,1272.1 1962.5,1245.5 1963.0,1244.2 1963.5,1268.4 1964.0,1264.6 1964.5,1240.4 1965.0,1234.1 1965.5,1259.4 1966.0,1255.5 1966.5,1230.1 1967.0,1229.2 1967.5,1250.4 1968.0,1256.4 1968.5,1217.7 1969.0,1211.7 1969.5,1242.7 1970.0,1256.4 1970.5,1213.4 1971.0,1212.3 1971.5,1241.8 1972.0,1247.2 1972.5,1207.8 1973.0,1201.7 1973.5,1224.0 1974.0,1241.8 1974.5,1196.5 1975.0,1191.5 1975.5,1213.5 1976.0,1207.8 1976.5,1185.9 1977.0,1177.8 1977.5,1207.1 1978.0,1195.9 1978.5,1171.8 1979.0,1165.9 1979.5,1193.7 1980.0,1187.7 1980.5,1159.9 1981.0,1153.1 1981.5,1180.1 1982.0,1174.1 1982.5,1147.2 1983.0,1142.6 1983.5,1168.7 1984.0,1163.1 1984.5,1136.9 1985.0,1132.0 1985.5,1156.8 1986.0,1151.6 1986.5,1126.8 1987.0,1120.3 1987.5,1146.4 1988.0,1141.7 1988.5,1115.6 1989.0,1112.6 1989.5,1137.6 1990.0,1133.1 1990.5,1108.0 1991.0,1101.0 1991.5,1126.3 1992.0,1121.9 1992.5,1099.1 1993.0,1096.6 1993.5,1119.7 1994.0,1115.4 1994.5,1092.2 1995.0,1084.2 1995.5,1112.1 1996.0,1107.8 1996.5,1079.9 1997.0,1076.5 1997.5,1102.4 1998.0,1098.1 1998.5,1072.2 1999.0,1067.7 1999.5,1094.2 2000.0,1089.8 2000.5,1063.3 2001.0,1058.0 2001.5,1084.5 2002.0,1080.4 2002.5,1053.9 2003.0,1052.0 2003.5,1078.0 2004.0,1078.0 2004.5,1048.4 2005.0,1045.1 2005.5,1067.1 2006.0,1062.6 2006.5,1040.6 2007.0,1036.6 2007.5,1059.9 2008.0,1053.2 2008.5,1029.9 2009.0,1020.9 2009.5,1040.1 2010.0,1026.4 2010.5,1007.2 2011.0,989.0 2011.5,1007.9 2012.0,984.8 2012.5,965.9 2013.0,924.3 2013.5,942.5 2014.0,899.8 2014.5,881.7 2015.0,852.9 2015.5,871.8 2016.0,848.8 2016.5,829.9 2017.0,808.8 2017.5,825.1 2018.0,799.2 2018.5,782.8 2019.0,748.5 2019.5,766.3 2020.0,729.4 2020.5,711.6 2021.0,684.6 2021.5,700.8 2022.0,693.8 2022.5,677.6 2023.0,668.3 2023.5,695.4 2024.0,696.5 2024.5,655.4 2025.0,645.4 2025.5,698.7 2026.0,700.6 2026.5,639.0 2027.0,646.4 2027.5,704.4 2028.0,715.6 2028.5,664.7 2029.0,696.7 2029.5,730.1 2030.0,745.3 2030.5,727.0 2031.0,741.3 2031.5,757.5 2032.0,765.6 2032.5,749.4 2033.0,747.7 2033.5,763.6 2034.0,735.2 2034.5,719.3 2035.0,679.6 2035.5,698.0 2036.0,668.5 2036.5,650.0 2037.0,628.7 2037.5,645.0 2038.0,626.1 2038.5,609.8 2039.0,591.8 2039.5,610.0 2040.0,591.3 2040.5,573.1 2041.0,551.6 2041.5,570.0 2042.0,548.6 2042.5,530.2 2043.0,480.7 2043.5,529.3 2044.0,513.8 2044.5,425.2 2045.0,400.9 2045.5,499.9 2046.0,489.6 2046.5,418.8 2047.0,445.9 2047.5,480.5 2048.1,471.2 2048.6,454.5 2049.1,445.9 2049.6,464.4 2050.1,456.0 2050.6,437.5 2051.1,428.7 2051.6,445.7 2052.1,438.0 2052.6,421.0 2053.1,399.4 2053.6,430.2 2054.1,422.9 2054.6,371.5 2055.1,353.2 2055.6,415.5 2056.1,408.5 2056.6,345.0 2057.1,351.4 2057.6,403.7 2058.1,396.9 2058.6,360.0 2059.1,365.8 2059.6,390.3 2060.1,383.4 2060.6,364.3 2061.1,356.5 2061.6,376.9 2062.1,369.8 2062.6,349.4 2063.1,342.9 2063.6,362.0 2064.1,355.6 2064.6,336.5 2065.1,331.3 2065.6,350.3 2066.1,344.3 2066.6,325.3 2067.1,319.0 2067.6,335.9 2068.1,329.8 2068.6,312.9 2069.1,307.9 2069.6,324.2 2070.1,317.8 2070.6,301.5 2071.1,293.2 2071.6,310.4 2072.1,303.3 2072.6,286.0 2073.1,278.3 2073.6,297.0 2074.1,288.7 2074.6,270.1 2075.1,260.8 2075.6,278.1 2076.1,266.2 2076.6,248.9 2077.1,235.7 2077.6,252.6 2078.1,239.7 2078.6,222.9 2079.1,212.9 2079.6,231.2 2080.1,222.5 2080.6,204.2 2081.1,194.8 2081.6,213.7 2082.1,206.3 2082.6,187.4 2083.1,182.7 2083.6,199.4 2084.1,195.0 2084.6,182.5 2085.1,182.5 2085.6,194.2 2086.1,194.2 2086.6,182.5 2087.1,182.5 2087.6,194.4 2088.1,194.4 2088.6,182.5 2089.1,182.5 2089.6,193.0 2090.1,193.0 2090.6,182.5 2091.1,182.5 2091.6,193.2 2092.1,193.2 2092.6,182.5 2093.1,182.5 2093.6,194.1 2094.1,194.1 2094.6,182.5 2095.1,182.5 2095.6,194.0 2096.1,194.0 2096.6,182.5 2097.1,182.5 2097.6,192.1 2098.1,192.1 2098.6,182.5 2099.1,182.5 2099.6,194.8 2100.1,200.7 2100.6,183.6 2101.1,193.7 2101.6,211.1 2102.1,228.5 2102.6,211.2 2103.1,232.1 2103.6,250.9 2104.1,275.0 2104.6,256.1 2105.1,281.5 2105.6,299.4 2106.1,372.7 2106.6,307.4 2107.1,334.6 2107.6,456.6 2108.1,492.0 2108.6,357.5 2109.1,382.0 2109.6,468.8 2110.1,445.7 2110.6,409.0 2111.1,430.8 2111.6,448.8 2112.1,463.2 2112.6,445.3 2113.1,457.5 2113.6,473.0 2114.1,480.6 2114.6,465.1 2115.1,469.8 2115.6,488.8 2116.1,497.7 2116.6,478.7 2117.1,493.5 2117.6,508.7 2118.1,525.2 2118.6,510.0 2119.1,526.7 2119.6,544.4 2120.1,557.2 2120.6,539.5 2121.1,550.1 2121.6,567.9 2122.1,578.1 2122.6,560.3 2123.1,567.8 2123.6,587.8 2124.1,626.0 2124.6,576.7 2125.1,586.0 2125.6,680.6 2126.1,719.3 2126.6,594.4 2127.1,603.8 2127.6,738.4 2128.1,721.7 2128.6,612.4 2129.1,621.1 2129.6,695.3 2130.1,666.4 2130.6,630.1 2131.1,639.0 2131.6,656.5 2132.1,665.5 2132.6,648.0 2133.1,657.4 2133.6,674.9 2134.1,683.4 2134.6,666.0 2135.1,673.7 2135.6,691.0 2136.1,698.6 2136.6,681.3 2137.1,688.0 2137.6,705.5 2138.1,711.8 2138.6,694.3 2139.1,699.3 2139.6,718.0 2140.1,723.1 2140.6,704.4 2141.1,711.0 2141.6,726.0 2142.1,730.5 2142.6,715.4 2143.1,719.0 2143.6,736.4 2144.1,740.6 2144.6,723.2 2145.1,728.4 2145.6,745.3 2146.1,749.7 2146.6,732.8 2147.1,736.7 2147.6,752.7 2148.1,757.0 2148.6,741.1 2149.1,743.0 2149.6,761.4 2150.1,765.7 2150.6,747.3 2151.1,752.0 2151.6,771.1 2152.1,775.3 2152.6,756.3 2153.1,762.6 2153.6,779.1 2154.1,783.2 2154.6,766.7 2155.1,769.0 2155.6,786.3 2156.1,790.2 2156.6,773.0 2157.1,778.8 2157.6,793.8 2158.1,797.6 2158.6,782.7 2159.1,784.9 2159.6,803.2 2160.1,806.9 2160.6,788.7 2161.1,794.0 2161.6,808.6 2162.1,812.3 2162.6,797.6 2163.1,798.5 2163.6,815.9 2164.1,819.5 2164.6,802.1 2165.1,807.0 2165.6,824.8 2166.1,828.2 2166.6,810.4 2167.1,812.6 2167.6,830.5 2168.1,833.9 2168.6,815.9 2169.1,820.0 2169.6,837.3 2170.1,840.6 2170.6,823.2 2171.1,826.5 2171.6,844.4 2172.1,847.7 2172.6,829.7 2173.1,832.8 2173.6,849.3 2174.1,852.4 2174.6,836.0 2175.1,839.9 2175.6,855.9 2176.1,859.0 2176.6,843.0 2177.1,844.3 2177.6,863.1 2178.1,866.0 2178.6,847.3 2179.1,852.5 2179.6,868.6 2180.1,871.3 2180.6,855.3 2181.1,857.2 2181.6,874.4 2182.1,877.0 2182.6,859.7 2183.1,861.5 2183.6,879.8 2184.1,882.2 2184.6,863.9 2185.1,866.5 2185.6,884.4 2186.1,886.7 2186.6,868.7 2187.1,871.6 2187.6,888.9 2188.1,891.0 2188.6,873.7 2189.1,875.9 2189.6,891.9 2190.1,893.9 2190.6,877.9 2191.1,879.4 2191.6,895.6 2192.1,897.4 2192.6,881.3 2193.1,882.2 2193.6,901.3 2194.1,903.0 2194.6,883.9 2195.1,886.3 2195.6,904.1 2196.1,905.8 2196.6,887.9 2197.1,889.3 2197.6,907.6 2198.1,909.2 2198.6,890.8 2199.1,891.4 2199.6,909.5 2200.1,911.0 2200.6,892.9 2201.1,896.0 2201.6,913.1 2202.1,914.5 2202.6,897.4 2203.1,899.0 2203.6,915.0 2204.1,916.4 2204.6,900.3 2205.1,899.5 2205.6,919.5 2206.1,920.7 2206.6,900.7 2207.1,902.9 2207.6,920.1 2208.1,921.3 2208.6,904.1 2209.1,906.2 2209.6,924.4 2210.1,925.5 2210.6,907.3 2211.1,908.8 2211.6,924.8 2212.1,925.9 2212.6,909.8 2213.1,909.4 2213.6,927.1 2214.1,928.1 2214.6,910.4 2215.1,910.2 2215.6,928.3 2216.1,929.3 2216.6,911.2 2217.1,914.6 2217.6,932.5 2218.1,933.4 2218.6,915.6 2219.1,914.6 2219.6,934.0 2220.1,934.9 2220.6,915.5 2221.1,916.1 2221.6,933.4 2222.1,934.2 2222.6,916.9 2223.1,919.5 2223.6,937.1 2224.1,937.8 2224.6,920.2 2225.1,918.6 2225.6,938.9 2226.1,939.6 2226.6,919.2 2227.1,920.0 2227.6,939.8 2228.1,940.4 2228.6,920.6 2229.1,922.3 2229.6,941.4 2230.1,941.9 2230.6,922.9 2231.1,923.0 2231.6,941.7 2232.1,942.2 2232.6,923.5 2233.1,925.3 2233.6,940.9 2234.1,941.4 2234.6,925.7 2235.1,924.9 2235.6,941.7 2236.1,942.2 2236.6,925.4 2237.1,925.6 2237.6,944.7 2238.1,945.1 2238.6,926.0 2239.1,925.9 2239.6,946.2 2240.1,946.7 2240.6,926.3 2241.1,929.6 2241.6,946.9 2242.1,947.3 2242.6,930.0 2243.1,930.2 2243.6,947.2 2244.1,947.6 2244.6,930.6 2245.1,929.9 2245.6,948.6 2246.1,949.1 2246.6,930.4 2247.1,931.1 2247.6,946.9 2248.1,947.3 2248.6,931.5 2249.1,932.6 2249.6,948.5 2250.1,948.9 2250.6,933.0 2251.1,933.5 2251.6,950.3 2252.1,950.7 2252.6,933.9 2253.1,932.6 2253.6,952.3 2254.1,952.7 2254.6,932.9 2255.1,933.3 2255.6,952.8 2256.1,953.1 2256.6,933.6 2257.1,934.4 2257.6,953.5 2258.1,953.8 2258.6,934.7 2259.1,934.0 2259.6,951.8 2260.1,952.1 2260.6,934.3 2261.1,935.5 2261.6,953.4 2262.1,953.6 2262.6,935.8 2263.1,937.2 2263.6,953.4 2264.1,953.7 2264.6,937.4 2265.1,937.7 2265.6,954.4 2266.1,954.6 2266.6,937.9 2267.1,936.9 2267.6,956.3 2268.1,956.5 2268.6,937.1 2269.1,938.8 2269.6,956.0 2270.1,956.0 2270.6,938.8 2271.1,938.5 2271.6,955.2 2272.1,955.2 2272.6,938.5"/>
<path id="pg" d="M180.8,955.8 825.5,955.8 826.3,945.1 826.7,941.3 827.1,941.5 827.9,943.1 828.7,945.4 829.5,950.0 830.3,957.8 831.1,967.4 831.9,977.4 832.7,986.5 833.5,993.1 834.3,997.9 835.1,1002.4 835.9,1006.7 836.7,1010.8 837.5,1014.6 838.3,1018.1 839.1,1021.3 839.9,1024.3 840.7,1027.0 841.5,1029.4 842.3,1031.6 843.1,1033.4 843.9,1035.1 844.7,1036.7 845.5,1038.2 846.3,1039.6 847.1,1041.0 847.9,1042.2 848.7,1043.4 849.5,1044.5 850.3,1045.6 851.1,1046.6 851.9,1047.6 852.8,1048.5 854.4,1050.3 857.6,1053.8 859.2,1055.6 860.0,1056.5 860.8,1057.3 862.4,1058.9 864.0,1060.4 867.2,1063.4 868.8,1064.9 869.6,1065.8 870.4,1066.8 871.2,1067.5 871.6,1067.6 872.0,1067.4 872.8,1065.7 873.6,1063.3 874.4,1061.0 875.2,1059.0 876.0,1057.1 878.4,1051.0 879.2,1048.9 880.0,1047.0 880.8,1045.0 881.6,1043.1 882.4,1041.4 883.2,1039.7 884.0,1038.0 884.8,1036.4 885.6,1034.9 886.4,1033.3 887.2,1031.8 888.0,1030.3 888.8,1028.9 889.6,1027.5 890.4,1026.1 891.2,1024.8 892.0,1023.4 892.8,1022.1 893.6,1020.9 894.4,1019.7 896.0,1017.3 897.7,1015.1 899.3,1012.9 900.9,1010.7 902.5,1008.7 904.1,1006.7 905.7,1004.7 907.3,1002.9 908.9,1001.1 910.5,999.5 912.1,997.9 913.7,996.4 915.3,995.0 916.9,993.6 918.5,992.3 920.1,991.1 921.7,989.9 923.3,988.7 924.9,987.6 927.3,986.0 929.7,984.5 932.1,983.0 938.5,979.1 941.8,977.2 944.2,975.8 946.6,974.5 949.0,973.2 950.6,972.4 952.2,971.6 953.8,970.9 955.4,970.2 957.0,969.6 958.6,969.1 960.6,968.4 962.6,967.9 964.2,967.5 965.8,967.2 968.2,966.7 970.6,966.4 973.8,965.9 981.8,965.0 985.0,964.6 987.5,964.2 989.9,963.8 991.5,963.5 993.1,963.1 994.7,962.7 996.3,962.3 997.9,961.8 999.5,961.2 1000.7,960.8 1001.1,960.6 1001.9,960.1 1002.7,959.3 1003.5,958.4 1004.3,957.3 1005.1,956.1 1005.9,954.8 1006.7,953.3 1007.5,951.8 1008.3,950.1 1009.1,948.5 1012.3,941.6 1013.1,939.9 1013.9,938.2 1014.7,936.7 1015.5,935.2 1017.1,932.4 1018.7,929.6 1023.5,920.9 1025.1,918.1 1026.7,915.3 1028.3,912.5 1029.9,909.8 1030.8,908.5 1031.6,907.3 1032.4,906.0 1033.2,904.8 1034.0,903.6 1034.8,902.5 1035.6,901.4 1036.4,900.4 1037.2,899.5 1038.0,898.6 1038.8,897.7 1039.6,896.9 1041.2,895.3 1044.4,892.2 1046.0,890.7 1046.8,889.9 1047.6,889.0 1048.4,888.1 1049.2,887.2 1050.0,886.2 1050.8,885.2 1051.6,884.1 1052.4,882.9 1053.2,881.7 1054.0,880.4 1054.8,879.0 1055.6,877.5 1056.4,875.9 1057.2,873.9 1058.0,871.3 1058.8,868.1 1059.6,864.6 1060.4,860.8 1061.2,856.8 1062.0,852.8 1062.8,848.8 1063.6,845.0 1064.4,841.5 1065.2,838.3 1066.0,835.7 1066.8,833.4 1068.4,828.6 1069.2,826.3 1070.0,824.0 1070.8,821.7 1071.6,819.6 1072.4,817.6 1073.2,815.8 1074.0,814.1 1074.8,812.7 1075.7,811.4 1076.5,810.5 1077.3,809.8 1078.1,809.4 1079.7,809.0 1081.3,808.7 1082.9,808.4 1084.5,808.1 1086.1,808.0 1087.7,807.8 1089.3,807.8 1090.1,807.8 1090.9,808.2 1091.7,809.6 1092.5,811.6 1093.3,814.1 1094.1,816.9 1094.9,819.9 1095.7,822.8 1096.5,825.5 1097.3,827.8 1098.1,829.5 1098.9,830.8 1099.7,832.0 1100.5,833.2 1101.3,834.3 1102.1,835.4 1102.9,836.3 1103.7,837.3 1104.5,838.1 1105.3,839.0 1106.1,839.8 1106.9,840.5 1107.7,841.2 1110.1,843.3 1112.5,845.3 1114.1,846.6 1115.7,847.8 1117.3,849.0 1118.9,850.2 1120.6,851.3 1122.2,852.4 1123.8,853.3 1125.4,854.2 1127.0,855.0 1128.6,855.7 1129.4,856.1 1130.2,856.4 1131.0,856.6 1131.8,856.9 1132.6,857.1 1133.4,857.2 1135.0,857.5 1136.6,857.7 1141.4,858.2 1143.0,858.4 1144.6,858.7 1145.8,858.9 1146.2,859.0 1147.0,859.2 1147.8,859.6 1148.6,860.0 1149.4,860.4 1150.2,860.9 1151.0,861.5 1151.8,862.1 1152.6,862.7 1153.4,863.4 1155.0,864.8 1156.6,866.3 1159.0,868.5 1160.6,870.0 1161.4,870.7 1162.2,871.4 1163.0,872.1 1164.3,873.0 1165.5,873.8 1167.1,874.9 1169.5,876.4 1173.5,878.9 1175.1,879.9 1176.7,881.0 1178.3,882.1 1179.9,883.4 1180.7,884.0 1181.5,884.7 1182.3,885.4 1183.1,886.2 1183.9,887.0 1184.7,887.9 1185.5,888.9 1186.3,889.9 1187.1,891.0 1187.9,892.1 1189.5,894.4 1192.7,899.1 1194.3,901.5 1195.1,902.6 1195.9,903.7 1196.7,904.7 1197.5,905.8 1198.3,906.7 1200.7,909.5 1203.1,912.2 1204.7,914.0 1206.3,915.8 1207.9,917.4 1209.6,919.1 1211.2,920.7 1212.8,922.2 1214.4,923.7 1216.4,925.4 1218.4,927.0 1220.0,928.2 1221.6,929.4 1223.2,930.6 1224.8,931.7 1226.4,932.8 1228.0,933.8 1229.6,934.8 1231.2,935.7 1232.8,936.6 1234.4,937.5 1236.8,938.9 1238.4,939.9 1239.2,940.3 1240.0,940.7 1240.8,941.1 1241.6,941.4 1242.4,941.7 1243.2,941.9 1244.0,942.1 1244.8,942.3 1245.6,942.3 1246.4,942.3 1247.2,942.1 1248.0,941.7 1248.8,941.1 1249.6,940.5 1251.2,939.1 1252.0,938.5 1252.8,938.0 1253.7,937.7 1254.5,937.6 1255.3,937.6 1256.1,937.7 1256.9,937.7 1257.7,937.9 1258.5,938.0 1259.3,938.2 1260.9,938.6 1262.5,939.2 1264.1,939.8 1265.7,940.4 1271.3,942.9 1272.9,943.5 1274.5,944.2 1276.1,944.7 1277.7,945.2 1282.5,946.5 1287.3,947.6 1291.3,948.5 1294.5,949.2 1297.8,949.9 1301.0,950.5 1303.4,950.9 1305.8,951.2 1308.2,951.6 1317.8,952.7 1324.2,953.4 1329.8,954.0 1334.6,954.4 1339.4,954.8 1343.5,955.1 1347.5,955.4 1351.5,955.5 1355.5,955.7 1358.7,955.8 1361.9,955.8 1605.2,955.8 1605.6,953.7 1606.4,947.5 1607.2,950.1 1608.0,956.6 1608.8,965.4 1609.7,974.6 1610.5,982.6 1611.3,987.5 1612.1,990.1 1612.9,992.4 1613.7,994.4 1614.5,996.1 1615.3,997.7 1616.1,999.1 1616.9,1000.4 1618.5,1002.9 1619.3,1004.1 1620.1,1005.5 1620.9,1007.1 1621.7,1008.8 1622.5,1010.1 1623.3,1010.7 1624.1,1010.4 1624.9,1009.8 1625.7,1009.1 1626.5,1008.4 1628.9,1006.6 1632.1,1004.2 1636.9,1000.4 1638.5,999.1 1640.9,997.1 1644.1,994.3 1648.1,990.8 1650.5,988.8 1652.1,987.5 1653.7,986.2 1655.4,985.0 1657.0,983.8 1658.6,982.7 1660.2,981.7 1661.8,980.7 1664.2,979.3 1666.6,977.9 1669.0,976.6 1671.4,975.4 1674.6,973.7 1677.4,972.4 1677.8,972.2 1678.6,971.7 1679.4,971.2 1680.2,971.0 1680.6,970.9 1681.0,971.0 1681.8,971.5 1682.6,972.2 1683.4,973.1 1684.2,973.8 1685.0,974.5 1688.2,977.3 1689.0,977.9 1689.8,978.6 1690.6,979.2 1691.4,979.7 1693.8,981.2 1694.6,981.5 1695.4,981.7 1696.2,981.4 1697.0,980.9 1697.8,980.2 1698.7,979.6 1701.1,978.2 1703.5,976.9 1705.9,975.6 1708.3,974.3 1709.9,973.6 1711.5,972.8 1713.9,971.8 1717.1,970.5 1720.3,969.2 1722.7,968.3 1725.1,967.4 1727.5,966.6 1729.9,965.9 1732.3,965.1 1734.7,964.5 1738.7,963.5 1741.9,962.7 1745.2,962.0 1748.4,961.4 1750.8,961.0 1753.2,960.6 1755.6,960.2 1762.8,959.3 1766.0,959.0 1768.4,958.7 1770.8,958.5 1773.2,958.4 1775.6,958.3 1776.8,958.3 1777.2,958.5 1778.0,960.5 1778.8,964.1 1779.6,969.0 1780.4,974.9 1781.2,981.5 1782.0,988.5 1782.4,992.0 1782.8,996.1 1783.6,1007.0 1784.4,1020.6 1785.2,1035.6 1786.0,1050.7 1786.8,1064.8 1787.7,1076.5 1788.5,1086.4 1789.3,1095.7 1790.1,1104.6 1790.9,1113.1 1791.7,1121.2 1792.5,1128.9 1793.3,1136.3 1794.1,1143.5 1794.9,1150.5 1795.7,1157.3 1796.5,1163.8 1797.3,1170.1 1798.1,1176.2 1798.9,1182.1 1799.7,1187.8 1800.5,1193.4 1801.3,1198.9 1802.1,1204.3 1804.5,1220.2 1805.3,1225.6 1806.1,1231.0 1806.9,1236.4 1807.7,1241.8 1808.5,1247.2 1809.3,1252.5 1810.1,1257.9 1810.9,1263.2 1811.7,1268.4 1812.5,1273.7 1813.3,1278.9 1814.1,1284.0 1814.9,1289.2 1815.7,1294.3 1816.5,1299.4 1817.3,1304.5 1818.1,1309.7 1818.9,1315.0 1819.7,1320.5 1820.5,1325.9 1821.3,1331.1 1822.1,1336.1 1822.9,1340.8 1823.7,1345.0 1824.5,1348.6 1825.3,1351.8 1826.1,1354.8 1826.9,1357.7 1827.7,1360.4 1828.5,1363.0 1829.3,1365.5 1830.1,1367.9 1830.9,1370.1 1831.7,1372.3 1832.6,1374.3 1833.4,1376.3 1834.2,1378.1 1835.0,1380.0 1835.8,1381.7 1836.6,1383.4 1837.4,1385.1 1838.2,1386.7 1839.0,1388.2 1839.8,1389.8 1840.6,1391.3 1841.4,1392.7 1842.2,1394.1 1843.0,1395.5 1843.8,1396.8 1844.6,1398.0 1845.4,1399.2 1846.2,1400.4 1847.0,1401.5 1847.8,1402.6 1848.6,1403.6 1849.4,1404.6 1850.2,1405.5 1851.8,1407.3 1853.4,1408.9 1855.0,1410.5 1856.6,1412.1 1858.2,1413.5 1859.8,1414.8 1861.4,1416.1 1863.0,1417.3 1864.6,1418.3 1866.2,1419.3 1867.8,1420.2 1871.8,1422.4 1873.4,1423.2 1874.2,1423.6 1875.0,1423.9 1875.8,1424.2 1876.6,1424.5 1877.5,1424.7 1878.3,1424.8 1879.1,1424.9 1879.9,1425.0 1890.7,1425.0 1891.1,1424.9 1891.9,1424.6 1892.7,1423.9 1893.5,1422.9 1894.3,1421.7 1895.1,1420.3 1895.9,1418.6 1896.7,1416.9 1897.5,1414.9 1898.3,1412.9 1900.7,1406.7 1901.5,1404.7 1902.3,1402.8 1903.1,1400.9 1903.9,1399.2 1904.7,1397.7 1905.5,1396.4 1906.3,1395.2 1907.1,1394.2 1907.9,1393.1 1908.7,1392.2 1909.5,1391.2 1910.3,1390.4 1911.1,1389.5 1912.7,1387.9 1915.9,1384.8 1917.5,1383.2 1918.3,1382.4 1919.1,1381.5 1919.9,1380.6 1920.7,1379.6 1921.6,1378.6 1922.4,1377.6 1923.2,1376.4 1924.0,1375.2 1924.8,1374.0 1925.6,1372.6 1926.4,1371.1 1927.2,1369.3 1928.0,1367.3 1928.8,1365.2 1929.6,1362.9 1930.4,1360.4 1931.2,1357.9 1932.0,1355.2 1932.8,1352.5 1935.2,1344.3 1936.0,1341.6 1936.8,1338.9 1937.6,1336.3 1938.4,1333.9 1939.2,1331.5 1940.8,1326.8 1942.4,1322.2 1945.6,1313.0 1947.2,1308.3 1948.0,1306.0 1948.8,1303.6 1949.6,1301.2 1950.4,1298.7 1951.2,1296.2 1952.0,1293.7 1953.2,1289.8 1954.4,1285.8 1956.0,1280.4 1957.6,1274.9 1958.4,1272.1 1959.2,1269.3 1960.0,1266.5 1960.8,1263.6 1961.6,1260.7 1962.4,1257.7 1963.2,1254.7 1964.0,1251.7 1964.8,1248.6 1965.6,1245.5 1966.5,1242.3 1967.3,1239.0 1968.1,1235.7 1968.9,1232.3 1969.7,1228.9 1970.5,1225.4 1971.3,1221.8 1972.1,1218.1 1972.9,1214.3 1973.7,1210.2 1974.5,1205.9 1975.3,1201.5 1976.1,1196.9 1976.9,1192.2 1977.7,1187.5 1978.5,1182.7 1980.1,1173.0 1980.9,1168.2 1981.7,1163.4 1982.5,1158.7 1983.3,1154.1 1984.1,1149.6 1984.9,1145.2 1985.7,1141.1 1986.5,1137.1 1987.3,1133.2 1988.1,1129.3 1988.9,1125.6 1989.7,1121.9 1990.5,1118.3 1991.3,1114.7 1992.1,1111.2 1992.9,1107.7 1994.5,1100.8 1996.9,1090.4 1998.5,1083.5 1999.3,1080.0 2000.1,1076.4 2000.9,1072.8 2001.7,1069.4 2002.5,1066.3 2004.1,1060.5 2004.9,1057.4 2005.7,1053.9 2006.5,1049.9 2007.3,1045.2 2008.1,1039.7 2008.9,1032.2 2009.7,1022.0 2010.6,1008.8 2011.4,992.7 2012.2,973.4 2013.0,938.2 2013.8,899.9 2014.6,875.6 2015.4,855.5 2016.2,837.5 2017.0,819.6 2017.8,799.9 2018.6,774.3 2019.4,744.2 2020.2,715.4 2021.0,693.9 2021.8,685.4 2022.6,685.6 2023.4,686.2 2024.2,687.2 2025.0,688.5 2025.8,690.0 2026.2,690.8 2026.6,692.3 2027.4,698.7 2028.2,708.6 2029.0,720.4 2029.8,732.8 2030.6,744.2 2031.4,753.2 2032.2,758.4 2032.6,759.1 2033.0,756.1 2033.8,735.7 2034.6,705.2 2035.4,675.2 2035.8,663.9 2036.2,654.6 2037.0,637.8 2037.8,622.5 2038.6,607.9 2039.4,593.4 2040.2,578.1 2041.0,561.5 2041.8,544.3 2042.6,527.9 2043.4,513.7 2044.2,502.1 2045.0,492.4 2045.8,484.1 2046.6,476.1 2047.4,468.5 2048.2,461.2 2049.0,454.2 2049.8,447.4 2050.6,440.9 2051.4,434.6 2052.2,428.4 2053.0,422.5 2053.8,416.7 2054.6,411.0 2055.5,405.3 2056.3,399.8 2058.7,383.3 2059.5,377.8 2060.3,372.2 2061.1,366.5 2061.9,360.8 2062.7,355.3 2063.5,350.0 2064.3,345.0 2065.1,340.0 2065.9,335.2 2067.5,325.6 2068.3,320.7 2069.1,315.8 2069.9,310.7 2070.7,305.4 2071.5,299.8 2072.3,293.9 2073.1,287.8 2073.9,281.2 2074.3,277.7 2074.7,273.9 2075.5,265.1 2076.3,255.1 2077.1,244.6 2077.9,234.2 2078.7,224.7 2079.5,216.6 2079.9,213.3 2080.3,210.3 2081.1,204.1 2081.9,198.2 2082.7,192.8 2083.5,188.5 2084.3,185.6 2085.1,184.5 2098.7,184.5 2099.6,187.0 2100.4,193.9 2101.2,204.7 2102.0,218.7 2102.8,235.3 2103.6,253.9 2104.4,273.8 2105.2,294.5 2106.0,315.3 2106.8,335.6 2107.6,354.7 2108.0,363.6 2108.4,372.9 2109.2,393.9 2110.0,415.6 2110.8,435.1 2111.6,449.4 2112.4,458.7 2113.2,465.9 2114.0,472.0 2114.8,477.8 2115.6,484.3 2116.4,492.4 2117.2,503.5 2118.0,516.8 2118.8,530.3 2119.6,541.7 2120.4,551.0 2121.2,559.7 2122.0,567.8 2122.8,575.4 2123.6,582.7 2124.4,589.7 2125.2,596.5 2126.8,610.0 2127.6,616.9 2128.4,623.9 2129.2,631.1 2130.0,638.4 2130.8,645.7 2131.6,653.0 2132.4,660.2 2133.2,667.2 2134.0,674.1 2134.8,680.6 2135.6,686.9 2136.4,692.8 2137.2,698.2 2138.0,703.2 2138.8,707.7 2139.6,711.9 2140.4,715.8 2141.2,719.5 2142.0,723.1 2142.8,726.5 2144.5,733.2 2145.3,736.6 2146.9,743.7 2148.5,750.6 2150.1,757.5 2150.9,761.0 2151.7,764.3 2152.5,767.7 2153.3,771.0 2154.1,774.3 2154.9,777.6 2155.7,780.8 2156.5,783.9 2157.3,787.1 2158.1,790.2 2158.9,793.2 2159.7,796.2 2160.5,799.2 2161.3,802.2 2162.1,805.1 2162.9,808.0 2163.7,810.9 2164.5,813.7 2165.3,816.5 2166.1,819.3 2166.9,822.0 2167.7,824.7 2168.5,827.4 2169.3,830.0 2170.9,835.2 2172.5,840.3 2174.1,845.4 2174.9,847.9 2175.7,850.3 2176.5,852.8 2177.3,855.2 2178.1,857.5 2178.9,859.8 2179.7,862.0 2180.5,864.2 2181.3,866.3 2182.1,868.3 2182.9,870.2 2183.7,872.1 2184.5,874.0 2185.3,875.8 2186.1,877.6 2186.9,879.3 2187.7,881.0 2188.6,882.7 2189.4,884.3 2190.2,885.9 2191.0,887.5 2191.8,889.0 2192.6,890.4 2193.4,891.8 2194.6,893.9 2195.8,895.9 2197.4,898.4 2199.0,900.9 2200.6,903.2 2202.2,905.5 2203.8,907.7 2205.4,909.8 2207.0,911.7 2208.6,913.6 2210.2,915.4 2211.8,917.1 2213.4,918.8 2215.0,920.4 2216.6,922.0 2218.2,923.5 2219.8,924.9 2221.4,926.2 2223.0,927.4 2223.8,928.0 2224.6,928.6 2226.2,929.6 2227.8,930.6 2229.4,931.5 2231.0,932.3 2232.6,933.1 2235.1,934.2 2243.9,938.2 2247.1,939.6 2249.5,940.6 2251.9,941.6 2253.5,942.2 2255.1,942.7 2257.5,943.5 2259.9,944.2 2262.3,944.8 2264.7,945.4 2267.1,946.0 2268.7,946.3 2271.9,946.3"/>
<clipPath id="zw"><path d="M180.4,24.0 H828.8 V1473.2 H180.4 Z M1361.6,24.0 H1604.5 V1473.2 H1361.6 Z M2003,24.0 H2008.8 V1473.2 H2003 Z M2261.2,24.0 H2272.6 V1473.2 H2261.2 Z"/></clipPath>
<clipPath id="zg"><path d="M828.8,24.0 H1361.6 V1473.2 H828.8 Z M1604.5,24.0 H2003 V1473.2 H1604.5 Z"/></clipPath>
<clipPath id="zr"><path d="M2008.8,24.0 H2261.2 V1473.2 H2008.8 Z"/></clipPath>
<clipPath id="zn"><path d="M828.8,24.0 H1361.6 V1473.2 H828.8 Z M1604.5,24.0 H2261.2 V1473.2 H1604.5 Z"/></clipPath>
</defs>
<g clip-path="url(#c)" fill="none" stroke-linejoin="round" stroke-linecap="round">
<g stroke-width="4.2">
<use href="#po" stroke="#F2A418" clip-path="url(#zw)"/>
<use href="#po" stroke="#FFA30A" clip-path="url(#zg)"/>
<use href="#po" stroke="#F2A418" clip-path="url(#zr)"/>
</g>
<path d="M181.1,928.4 181.6,978.9 182.1,978.9 182.6,928.4 183.1,930.1 183.6,979.3 184.1,979.3 184.6,930.1 185.1,929.5 185.6,978.0 186.1,978.0 186.6,929.5 187.1,927.1 187.6,977.3 188.1,977.3 188.6,927.1 189.1,927.0 189.6,977.7 190.1,977.7 190.6,927.0 191.1,927.2 191.6,979.2 192.1,979.2 192.6,927.2 193.1,928.9 193.6,975.9 194.1,975.9 194.6,928.9 195.1,927.4 195.6,978.6 196.1,978.6 196.6,927.4 197.1,930.0 197.6,975.4 198.1,975.4 198.6,930.0 199.1,929.7 199.6,977.8 200.1,977.8 200.6,929.7 201.1,931.7 201.6,979.4 202.1,979.4 202.6,931.7 203.1,931.1 203.6,978.3 204.1,978.3 204.6,931.1 205.1,927.5 205.6,979.1 206.1,979.1 206.6,927.5 207.1,928.4 207.6,976.0 208.1,976.0 208.6,928.4 209.1,927.7 209.6,977.0 210.1,977.0 210.6,927.7 211.1,930.0 211.6,977.9 212.1,977.9 212.6,930.0 213.1,929.6 213.6,979.3 214.1,979.3 214.6,929.6 215.1,927.1 215.6,978.7 216.1,978.7 216.6,927.1 217.1,930.2 217.6,977.7 218.1,977.7 218.6,930.2 219.1,928.4 219.6,977.0 220.1,977.0 220.6,928.4 221.1,929.1 221.6,978.3 222.1,978.3 222.6,929.1 223.1,930.8 223.6,976.5 224.1,976.5 224.6,930.8 225.1,928.0 225.6,977.0 226.1,977.0 226.6,928.0 227.1,929.5 227.6,975.7 228.1,975.7 228.6,929.5 229.1,930.5 229.6,978.3 230.1,978.3 230.6,930.5 231.1,931.7 231.6,979.1 232.1,979.1 232.6,931.7 233.1,928.9 233.6,976.2 234.1,976.2 234.6,928.9 235.1,927.6 235.6,977.4 236.1,977.4 236.6,927.6 237.1,927.0 237.6,976.6 238.1,976.6 238.6,927.0 239.1,930.7 239.6,977.0 240.1,977.0 240.6,930.7 241.1,931.2 241.6,978.2 242.1,978.2 242.6,931.2 243.1,930.3 243.6,977.0 244.1,977.0 244.6,930.3 245.1,929.7 245.6,977.6 246.1,977.6 246.6,929.7 247.1,931.0 247.6,975.4 248.1,975.4 248.6,931.0 249.1,929.2 249.6,976.6 250.1,976.6 250.6,929.2 251.1,927.1 251.6,976.5 252.1,976.5 252.6,927.1 253.1,930.1 253.6,975.2 254.1,975.2 254.6,930.1 255.1,930.9 255.6,978.3 256.1,978.3 256.6,930.9 257.1,928.8 257.6,976.6 258.1,976.6 258.6,928.8 259.1,926.9 259.6,977.5 260.1,977.5 260.6,926.9 261.1,927.7 261.6,979.1 262.1,979.1 262.6,927.7 263.1,927.1 263.6,976.2 264.1,976.2 264.6,927.1 265.1,927.5 265.6,978.5 266.1,978.5 266.6,927.5 267.1,928.8 267.6,975.7 268.1,975.7 268.6,928.8 269.1,927.2 269.6,977.6 270.1,977.6 270.6,927.2 271.1,929.6 271.6,975.7 272.1,975.7 272.6,929.6 273.1,930.9 273.6,975.7 274.1,975.7 274.6,930.9 275.1,928.2 275.6,977.8 276.1,977.8 276.6,928.2 277.1,928.6 277.6,975.7 278.1,975.7 278.6,928.6 279.1,931.6 279.6,978.9 280.1,978.9 280.6,931.6 281.1,927.7 281.6,978.6 282.1,978.6 282.6,927.7 283.1,928.0 283.6,977.4 284.1,977.4 284.6,928.0 285.1,929.8 285.6,978.4 286.1,978.4 286.6,929.8 287.1,926.8 287.6,977.7 288.1,977.7 288.6,926.8 289.1,928.7 289.6,977.1 290.1,977.1 290.6,928.7 291.1,931.6 291.6,976.5 292.1,976.5 292.6,931.6 293.1,929.4 293.6,976.8 294.1,976.8 294.6,929.4 295.1,930.2 295.6,979.4 296.1,979.4 296.6,930.2 297.1,931.3 297.6,976.1 298.1,976.1 298.6,931.3 299.1,931.2 299.6,976.0 300.1,976.0 300.6,931.2 301.1,928.8 301.6,977.8 302.1,977.8 302.6,928.8 303.1,927.3 303.6,976.8 304.1,976.8 304.6,927.3 305.1,927.1 305.6,979.3 306.1,979.3 306.6,927.1 307.1,927.9 307.6,978.9 308.1,978.9 308.6,927.9 309.1,928.5 309.6,979.4 310.1,979.4 310.6,928.5 311.1,926.8 311.6,978.9 312.1,978.9 312.6,926.8 313.1,927.3 313.6,978.0 314.1,978.0 314.6,927.3 315.1,926.9 315.6,975.7 316.1,975.7 316.6,926.9 317.1,932.3 317.6,974.9 318.1,974.9 318.6,926.6 319.1,917.0 319.6,974.2 320.1,974.2 320.6,912.3 321.1,917.1 321.6,975.0 322.1,975.0 322.6,925.8 323.1,907.7 323.6,985.2 324.1,1001.4 324.6,877.1 325.1,906.8 325.6,986.3 326.1,973.7 326.6,931.6 327.1,929.9 327.6,975.1 328.1,975.1 328.6,929.9 329.1,931.1 329.6,974.5 330.1,974.5 330.6,931.1 331.1,933.3 331.6,974.9 332.1,974.9 332.6,933.3 333.1,925.3 333.6,980.3 334.1,993.9 334.6,918.2 335.1,914.4 335.6,1001.4 336.1,994.7 336.6,918.8 337.1,927.0 337.6,982.8 338.1,975.4 338.6,927.7 339.1,920.2 339.6,971.8 340.1,971.8 340.6,914.4 341.1,911.3 341.6,972.9 342.1,972.9 342.6,914.7 343.1,919.7 343.6,1023.8 344.1,1083.1 344.6,926.7 345.1,930.3 345.6,1023.0 346.1,972.6 346.6,926.3 347.1,920.4 347.6,972.6 348.1,972.6 348.6,916.5 349.1,920.1 349.6,974.6 350.1,974.6 350.6,926.9 351.1,933.2 351.6,971.8 352.1,971.8 352.6,933.2 353.1,933.4 353.6,972.5 354.1,972.5 354.6,933.4 355.1,933.2 355.6,972.7 356.1,972.7 356.6,933.2 357.1,930.5 357.6,973.5 358.1,973.5 358.6,930.5 359.1,931.1 359.6,975.4 360.1,975.4 360.6,931.1 361.1,929.6 361.6,974.4 362.1,974.4 362.6,929.6 363.1,930.7 363.6,972.9 364.1,972.9 364.6,930.7 365.1,933.9 365.6,973.8 366.1,973.8 366.6,933.9 367.1,933.8 367.6,971.8 368.1,971.8 368.6,933.8 369.1,933.8 369.6,974.1 370.1,974.1 370.6,933.8 371.1,930.5 371.6,974.6 372.1,974.6 372.6,930.5 373.1,930.4 373.6,974.7 374.1,974.7 374.6,930.4 375.1,932.3 375.6,972.1 376.1,972.1 376.6,932.3 377.1,933.3 377.6,973.7 378.1,973.7 378.6,933.3 379.1,932.5 379.6,972.5 380.1,972.5 380.6,932.5 381.1,929.9 381.6,973.0 382.1,973.0 382.6,929.9 383.1,933.6 383.6,972.6 384.1,972.6 384.6,933.6 385.1,932.9 385.6,973.7 386.1,973.7 386.6,932.9 387.1,930.3 387.6,972.5 388.1,972.5 388.6,930.3 389.1,931.0 389.6,972.5 390.1,972.5 390.6,931.0 391.1,933.9 391.6,974.0 392.1,974.0 392.6,933.9 393.1,931.3 393.6,971.9 394.1,971.9 394.6,931.3 395.1,932.8 395.6,974.8 396.1,974.8 396.6,932.8 397.1,930.1 397.6,974.9 398.1,974.9 398.6,930.1 399.1,933.6 399.6,972.5 400.1,972.5 400.6,933.6 401.1,930.2 401.6,972.4 402.1,972.4 402.6,930.2 403.1,934.0 403.6,973.0 404.1,973.0 404.6,934.0 405.1,931.1 405.6,973.4 406.1,973.4 406.6,931.1 407.1,930.1 407.6,975.4 408.1,975.4 408.6,930.1 409.1,933.9 409.6,973.0 410.1,973.0 410.6,933.9 411.1,931.9 411.6,972.0 412.1,972.0 412.6,931.9 413.1,931.5 413.6,972.2 414.1,972.2 414.6,931.5 415.1,933.3 415.6,974.7 416.1,974.7 416.6,933.3 417.1,930.6 417.6,974.4 418.1,974.4 418.6,924.0 419.1,913.1 419.6,973.3 420.1,973.3 420.6,907.1 421.1,913.1 421.6,973.9 422.1,973.9 422.6,924.0 423.1,930.1 423.6,972.1 424.1,972.1 424.6,930.1 425.1,931.1 425.6,973.8 426.1,973.8 426.6,931.1 427.1,925.9 427.6,972.1 428.1,972.1 428.6,915.8 429.1,910.2 429.6,972.0 430.1,972.0 430.6,915.6 431.1,925.7 431.6,987.9 432.1,1011.3 432.6,931.8 433.1,931.9 433.6,1024.1 434.1,1011.8 434.6,931.9 435.1,931.5 435.6,988.8 436.1,974.8 436.6,931.5 437.1,929.5 437.6,972.5 438.1,972.5 438.6,929.5 439.1,930.3 439.6,981.0 440.1,992.8 440.6,930.3 441.1,932.8 441.6,999.3 442.1,992.7 442.6,932.8 443.1,931.0 443.6,980.9 444.1,973.5 444.6,931.0 445.1,932.0 445.6,972.5 446.1,972.5 446.6,932.0 447.1,930.0 447.6,973.4 448.1,973.4 448.6,930.0 449.1,930.6 449.6,974.4 450.1,974.4 450.6,930.6 451.1,926.8 451.6,980.3 452.1,991.2 452.6,916.8 453.1,911.3 453.6,997.2 454.1,991.0 454.6,916.5 455.1,927.3 455.6,980.5 456.1,973.8 456.6,933.7 457.1,930.1 457.6,980.3 458.1,991.2 458.6,926.7 459.1,924.7 459.6,997.2 460.1,991.1 460.6,926.5 461.1,929.6 461.6,980.2 462.1,973.5 462.6,931.6 463.1,931.7 463.6,972.0 464.1,972.0 464.6,931.7 465.1,932.7 465.6,972.2 466.1,972.2 466.6,932.7 467.1,933.8 467.6,974.5 468.1,974.5 468.6,933.8 469.1,932.0 469.6,972.0 470.1,972.0 470.6,932.0 471.1,933.3 471.6,975.0 472.1,975.0 472.6,933.3 473.1,930.1 473.6,973.8 474.1,973.8 474.6,930.1 475.1,929.8 475.6,974.6 476.1,974.6 476.6,929.8 477.1,929.8 477.6,973.0 478.1,973.0 478.6,929.8 479.1,933.1 479.6,972.1 480.1,972.1 480.6,933.1 481.1,930.2 481.6,972.8 482.1,972.8 482.6,930.2 483.1,932.5 483.6,974.9 484.1,974.9 484.6,932.5 485.1,933.5 485.6,971.9 486.1,971.9 486.6,933.5 487.1,930.5 487.6,971.9 488.1,971.9 488.6,930.5 489.1,931.3 489.6,973.7 490.1,973.7 490.6,931.3 491.1,934.0 491.6,972.4 492.1,972.4 492.6,934.0 493.1,930.2 493.6,973.9 494.1,973.9 494.6,930.2 495.1,931.8 495.6,974.2 496.1,974.2 496.6,931.8 497.1,930.4 497.6,974.3 498.1,974.3 498.6,930.4 499.1,932.8 499.6,975.4 500.1,975.4 500.6,932.8 501.1,932.0 501.6,973.8 502.1,973.8 502.6,932.0 503.1,929.6 503.6,974.2 504.1,974.2 504.6,929.6 505.1,932.3 505.6,973.6 506.1,973.6 506.6,932.3 507.1,929.8 507.6,971.8 508.1,971.8 508.6,929.8 509.1,933.1 509.6,971.8 510.1,971.8 510.6,933.1 511.1,930.0 511.6,974.5 512.0,974.5 512.5,930.0 513.0,929.7 513.5,972.6 514.0,972.6 514.5,929.7 515.0,930.7 515.5,975.0 516.0,975.0 516.5,930.7 517.0,931.4 517.5,972.1 518.0,972.1 518.5,931.4 519.0,933.2 519.5,974.5 520.0,974.5 520.5,933.2 521.0,930.2 521.5,972.0 522.0,972.0 522.5,930.2 523.0,932.1 523.5,972.9 524.0,972.9 524.5,932.1 525.0,929.9 525.5,975.3 526.0,975.3 526.5,929.9 527.0,932.6 527.5,973.9 528.0,973.9 528.5,932.6 529.0,929.8 529.5,972.0 530.0,972.0 530.5,929.8 531.0,932.4 531.5,972.5 532.0,972.5 532.5,932.4 533.0,929.9 533.5,972.3 534.0,972.3 534.5,929.9 535.0,929.8 535.5,972.3 536.0,972.3 536.5,929.8 537.0,923.1 537.5,986.6 538.0,1006.9 538.5,909.5 539.0,902.0 539.5,1017.9 540.0,1006.3 540.5,909.6 541.0,922.5 541.5,987.2 542.0,996.1 542.5,930.7 543.0,931.9 543.5,1021.2 544.0,995.8 544.5,931.9 545.0,930.0 545.5,974.9 546.0,974.9 546.5,930.0 547.0,929.7 547.5,974.7 548.0,974.7 548.5,929.7 549.0,930.9 549.5,974.3 550.0,974.3 550.5,930.9 551.0,933.0 551.5,974.4 552.0,974.4 552.5,933.0 553.0,931.8 553.5,974.8 554.0,974.8 554.5,931.8 555.0,931.1 555.5,975.4 556.0,975.4 556.5,931.1 557.0,930.6 557.5,975.4 558.0,975.4 558.5,930.6 559.0,932.8 559.5,973.4 560.0,973.4 560.5,932.8 561.0,930.4 561.5,973.7 562.0,973.7 562.5,930.4 563.0,933.8 563.5,975.1 564.0,975.1 564.5,933.8 565.0,933.2 565.5,973.9 566.0,973.9 566.5,933.2 567.0,931.8 567.5,972.4 568.0,972.4 568.5,931.8 569.0,931.3 569.5,973.6 570.0,973.6 570.5,931.3 571.0,932.6 571.5,971.8 572.0,971.8 572.5,932.6 573.0,931.1 573.5,972.4 574.0,972.4 574.5,931.1 575.0,932.7 575.5,973.1 576.0,973.1 576.5,932.7 577.0,931.3 577.5,974.2 578.0,974.2 578.5,931.3 579.0,929.8 579.5,975.0 580.0,975.0 580.5,929.8 581.0,929.8 581.5,972.7 582.0,972.7 582.5,929.8 583.0,930.7 583.5,974.9 584.0,974.9 584.5,930.7 585.0,929.9 585.5,972.3 586.0,972.3 586.5,929.9 587.0,933.5 587.5,973.0 588.0,973.0 588.5,933.5 589.0,930.8 589.5,974.6 590.0,974.6 590.5,930.8 591.0,930.8 591.5,973.8 592.0,973.8 592.5,930.8 593.0,930.2 593.5,973.8 594.0,973.8 594.5,930.2 595.0,930.7 595.5,971.9 596.0,971.9 596.5,930.7 597.0,933.9 597.5,973.4 598.0,973.4 598.5,933.9 599.0,930.6 599.5,971.9 600.0,971.9 600.5,930.6 601.0,930.9 601.5,974.1 602.0,974.1 602.5,930.9 603.0,929.5 603.5,974.0 604.0,974.0 604.5,929.5 605.0,931.7 605.5,973.6 606.0,973.6 606.5,931.7 607.0,930.4 607.5,973.6 608.0,973.6 608.5,930.4 609.0,929.5 609.5,974.5 610.0,974.5 610.5,929.5 611.0,929.9 611.5,974.0 612.0,974.0 612.5,929.9 613.0,929.7 613.5,975.4 614.0,975.4 614.5,929.7 615.0,930.9 615.5,974.6 616.0,974.6 616.5,930.9 617.0,932.2 617.5,973.5 618.0,973.5 618.5,932.2 619.0,932.9 619.5,973.0 620.0,973.0 620.5,932.9 621.0,932.8 621.5,972.2 622.0,972.2 622.5,932.8 623.0,931.3 623.5,974.3 624.0,974.3 624.5,931.3 625.0,934.0 625.5,974.9 626.0,974.9 626.5,934.0 627.0,932.8 627.5,973.1 628.0,973.1 628.5,932.8 629.0,929.7 629.5,972.4 630.0,972.4 630.5,929.7 631.0,933.6 631.5,973.1 632.0,973.1 632.5,933.6 633.0,932.8 633.5,972.4 634.0,972.4 634.5,932.8 635.0,930.1 635.5,973.5 636.0,973.5 636.5,930.1 637.0,931.8 637.5,972.4 638.0,972.4 638.5,931.8 639.0,926.9 639.5,972.4 640.0,972.4 640.5,916.8 641.0,911.3 641.5,972.1 642.0,972.1 642.5,916.6 643.0,926.5 643.5,972.9 644.0,972.9 644.5,932.6 645.0,930.6 645.5,975.4 646.0,975.4 646.5,930.6 647.0,930.1 647.5,974.1 648.0,974.1 648.5,930.1 649.0,930.0 649.5,972.4 650.0,972.4 650.5,930.0 651.0,932.0 651.5,973.1 652.0,973.1 652.5,932.0 653.0,929.0 653.5,972.9 654.0,972.9 654.5,923.6 655.0,920.6 655.5,975.5 656.0,975.5 656.5,923.4 657.0,929.6 657.5,972.7 658.0,972.7 658.5,933.1 659.0,931.8 659.5,973.5 660.0,973.5 660.5,931.8 661.0,932.5 661.5,975.2 662.0,975.2 662.5,932.5 663.0,927.0 663.5,974.5 664.0,974.5 664.5,917.5 665.0,912.3 665.5,974.5 666.0,974.5 666.5,916.8 667.0,927.0 667.5,974.7 668.0,974.7 668.5,932.8 669.0,932.9 669.5,971.8 670.0,971.8 670.5,932.9 671.0,931.8 671.5,974.0 672.0,974.0 672.5,931.8 673.0,931.7 673.5,984.0 674.0,1001.9 674.5,931.7 675.0,933.0 675.5,1011.7 676.0,1002.0 676.5,933.0 677.0,932.4 677.5,985.6 678.0,975.2 678.5,932.4 679.0,930.2 679.5,974.5 680.0,1000.9 680.5,912.6 681.0,891.6 681.5,1032.4 682.0,1000.8 682.5,914.1 683.0,932.1 683.5,975.4 684.0,975.4 684.5,932.1 685.0,929.8 685.5,974.5 686.0,974.5 686.5,929.8 687.0,932.6 687.5,972.9 688.0,972.9 688.5,932.6 689.0,932.6 689.5,974.4 690.0,974.4 690.5,932.6 691.0,931.9 691.5,973.7 692.0,973.7 692.5,931.9 693.0,931.6 693.5,975.0 694.0,975.0 694.5,931.6 695.0,933.6 695.5,974.7 696.0,974.7 696.5,933.6 697.0,934.0 697.5,972.0 698.0,972.0 698.5,934.0 699.0,929.6 699.5,973.8 700.0,973.8 700.5,929.6 701.0,933.2 701.5,971.9 702.0,971.9 702.5,933.2 703.0,931.5 703.5,974.5 704.0,974.5 704.5,931.5 705.0,930.5 705.5,971.9 706.0,971.9 706.5,930.5 707.0,930.5 707.5,973.3 708.0,973.3 708.5,930.5 709.0,930.1 709.5,973.5 710.0,973.5 710.5,930.1 711.0,933.8 711.5,975.0 712.0,975.0 712.5,933.8 713.0,933.2 713.5,973.6 714.0,973.6 714.5,933.2 715.0,933.5 715.5,972.8 716.0,972.8 716.5,933.5 717.0,930.6 717.5,972.1 718.0,972.1 718.5,930.6 719.0,931.7 719.5,975.4 720.0,975.4 720.5,931.7 721.0,929.5 721.5,973.6 722.0,973.6 722.5,929.5 723.0,931.6 723.5,974.3 724.0,974.3 724.5,931.6 725.0,930.1 725.5,974.2 726.0,974.2 726.5,930.1 727.0,930.9 727.5,972.3 728.0,972.3 728.5,930.9 729.0,929.5 729.5,972.7 730.0,972.7 730.5,929.5 731.0,933.3 731.5,975.0 732.0,975.0 732.5,933.3 733.0,933.7 733.5,972.8 734.0,972.8 734.5,933.7 735.0,933.6 735.5,974.4 736.0,974.4 736.5,933.6 737.0,931.2 737.5,974.0 738.0,974.0 738.5,931.2 739.0,934.0 739.5,973.3 740.0,973.3 740.5,934.0 741.0,931.1 741.5,973.9 742.0,973.9 742.5,931.1 743.0,930.8 743.5,975.3 744.0,975.3 744.5,930.8 745.0,930.0 745.5,972.4 746.0,972.4 746.5,930.0 747.0,930.8 747.5,972.0 748.0,972.0 748.5,930.8 749.0,930.6 749.5,974.5 750.0,974.5 750.5,930.6 751.0,931.8 751.5,974.8 752.0,974.8 752.5,931.8 753.0,931.2 753.5,971.9 754.0,971.9 754.5,931.2 755.0,933.5 755.5,972.4 756.0,972.4 756.5,933.5 757.0,932.4 757.5,972.1 758.0,972.1 758.5,932.4 759.0,933.8 759.5,973.4 760.0,973.4 760.5,933.8 761.0,932.8 761.5,975.3 762.0,975.3 762.5,932.8 763.0,932.8 763.5,973.8 764.0,973.8 764.5,932.8 765.0,932.9 765.5,973.1 766.0,973.1 766.5,932.9 767.0,930.8 767.5,975.3 768.0,975.3 768.5,930.8 769.0,933.7 769.5,975.0 770.0,975.0 770.5,933.7 771.0,931.7 771.5,974.2 772.0,974.2 772.5,931.7 773.0,930.9 773.5,972.7 774.0,972.7 774.5,930.9 775.0,933.9 775.5,974.5 776.0,974.5 776.5,933.9 777.0,932.5 777.5,974.3 778.0,974.3 778.5,932.5 779.0,932.0 779.5,974.0 780.0,974.0 780.5,932.0 781.0,930.3 781.5,974.9 782.0,974.9 782.5,930.3 783.0,930.4 783.5,972.1 784.0,972.1 784.5,930.4 785.0,931.8 785.5,974.6 786.0,974.6 786.5,931.8 787.0,933.6 787.5,971.8 788.0,971.8 788.5,933.6 789.0,931.6 789.5,974.9 790.0,974.9 790.5,931.6 791.0,930.4 791.5,975.1 792.0,975.1 792.5,930.4 793.0,931.1 793.5,975.1 794.0,975.1 794.5,931.1 795.0,930.6 795.5,974.5 796.0,974.5 796.5,930.6 797.0,932.1 797.5,972.2 798.0,972.2 798.5,932.1 799.0,932.9 799.5,973.9 800.0,973.9 800.5,932.9 801.0,931.4 801.5,973.5 802.0,973.5 802.5,931.4 803.0,931.2 803.5,974.2 804.0,974.2 804.5,931.2 805.0,929.8 805.5,974.4 806.0,974.4 806.5,929.8 807.0,933.9 807.5,975.0 808.0,975.0 808.5,933.9 809.0,931.8 809.5,973.1 810.0,973.1 810.5,931.8 811.0,933.4 811.5,974.7 812.0,974.7 812.5,933.4 813.0,930.7 813.5,974.5 814.0,974.5 814.5,930.7 815.0,931.3 815.5,973.8 816.0,973.8 816.5,931.3 817.0,933.8 817.5,972.3 818.0,972.3 818.5,933.8 819.0,933.5 819.5,975.4 820.0,975.4 820.5,933.5 821.0,929.7 821.5,972.8 822.0,972.8 822.5,929.7 823.0,933.6 823.5,973.7 824.0,973.7 824.5,933.6 825.0,932.2 825.5,975.5 826.0,975.5 826.5,932.2 827.0,931.3 827.5,972.0 828.0,972.0 828.5,931.3 829.0,933.3 829.5,972.3 830.0,972.3 830.5,933.3 831.0,933.9 831.5,974.5 832.0,974.5 832.5,933.9 833.0,930.0 833.5,974.9 834.0,974.9 834.5,930.0 835.0,931.9 835.5,972.9 836.0,972.9 836.5,931.9 837.0,933.8 837.5,972.8 838.0,972.8 838.5,933.8 839.0,932.4 839.5,972.6 840.0,972.6 840.5,932.4 841.0,931.6 841.5,973.4 842.0,973.4 842.5,931.6 843.0,929.7 843.5,972.6 844.0,972.6 844.5,929.7 845.0,930.6 845.5,972.0 846.0,972.0 846.5,930.6 847.0,932.4 847.5,974.3 848.0,974.3 848.5,932.4 849.0,930.1 849.5,974.5 850.0,974.5 850.5,930.1 851.0,932.4 851.5,972.9 852.0,972.9 852.5,932.4 853.0,930.0 853.5,975.2 854.0,975.2 854.5,930.0 855.0,931.9 855.5,973.3 856.0,973.3 856.5,931.9 857.0,931.3 857.5,974.6 858.0,974.6 858.5,931.3 859.0,932.2 859.5,975.4 860.0,975.4 860.5,932.2 861.0,930.9 861.5,973.8 862.0,973.8 862.5,930.9 863.0,933.9 863.5,973.1 864.0,973.1 864.5,933.9 865.0,933.5 865.5,973.7 866.0,973.7 866.5,933.5 867.0,930.6 867.5,974.5 868.0,974.5 868.5,930.6 869.0,933.9 869.5,972.8 870.0,972.8 870.5,933.9 871.0,930.9 871.5,975.4 872.0,975.4 872.5,930.9 873.0,931.8 873.5,973.0 874.0,973.0 874.5,931.8 875.0,931.4 875.5,974.5 876.0,974.5 876.5,931.4 877.0,932.5 877.5,972.0 878.0,972.0 878.5,932.5 879.0,930.5 879.5,975.3 880.0,975.3 880.5,930.5 881.0,931.0 881.5,973.9 882.0,973.9 882.5,931.0 883.0,932.6 883.5,974.7 884.0,974.7 884.5,932.6 885.0,933.1 885.5,972.7 886.0,972.7 886.5,933.1 887.0,931.8 887.5,974.7 888.0,974.7 888.5,931.8 889.0,933.9 889.5,974.3 890.0,974.3 890.5,933.9 891.0,933.2 891.5,974.6 892.0,974.6 892.5,933.2 893.0,930.5 893.5,972.6 894.0,972.6 894.5,930.5 895.0,930.8 895.5,971.9 896.0,971.9 896.5,930.8 897.0,931.8 897.5,974.8 898.0,974.8 898.5,931.8 899.0,930.5 899.5,973.9 900.0,973.9 900.5,930.5 901.0,932.5 901.5,971.9 902.0,971.9 902.5,932.5 903.0,930.2 903.5,974.0 904.0,974.0 904.5,930.2 905.0,930.5 905.5,971.8 906.0,971.8 906.5,930.5 907.0,930.1 907.5,975.3 908.0,975.3 908.5,930.1 909.0,929.8 909.5,974.0 910.0,974.0 910.5,929.8 911.0,933.6 911.5,972.2 912.0,972.2 912.5,933.6 913.0,932.8 913.5,971.8 914.0,971.8 914.5,932.8 915.0,933.7 915.5,974.2 916.0,974.2 916.5,933.7 917.0,930.3 917.5,972.0 918.0,972.0 918.5,930.3 919.0,932.9 919.5,975.4 920.0,975.4 920.5,932.9 921.0,932.5 921.5,974.1 922.0,974.1 922.5,932.5 923.0,931.2 923.5,974.2 924.0,974.2 924.5,931.2 925.0,930.3 925.5,975.5 926.0,975.5 926.5,930.3 927.0,930.8 927.5,974.2 928.0,974.2 928.5,930.8 929.0,933.8 929.5,975.0 930.0,975.0 930.5,933.8 931.0,933.9 931.5,974.7 932.0,974.7 932.5,933.9 933.0,931.1 933.5,972.4 934.0,972.4 934.5,931.1 935.0,933.2 935.5,973.9 936.0,973.9 936.5,933.2 937.0,929.7 937.5,973.7 938.0,973.7 938.5,929.7 939.0,931.2 939.5,972.0 940.0,972.0 940.5,931.2 941.0,930.4 941.5,974.1 942.0,974.1 942.5,930.4 943.0,933.6 943.5,975.4 944.0,975.4 944.5,933.6 945.0,931.4 945.5,972.4 946.0,972.4 946.5,931.4 947.0,933.0 947.5,975.3 948.0,975.3 948.5,933.0 949.0,929.7 949.5,975.2 950.0,975.2 950.5,929.7 951.0,933.7 951.5,974.5 952.0,974.5 952.5,933.7 953.0,932.9 953.5,972.1 954.0,972.1 954.5,932.9 955.0,931.0 955.5,974.5 956.0,974.5 956.5,931.0 957.0,933.9 957.5,973.2 958.0,973.2 958.5,933.9 959.0,930.7 959.5,972.8 960.0,972.8 960.5,930.7 961.0,930.9 961.5,974.4 962.0,974.4 962.5,930.9 963.0,929.5 963.5,972.7 964.0,972.7 964.5,929.5 965.0,933.7 965.5,973.1 966.0,973.1 966.5,933.7 967.0,933.8 967.5,975.4 968.0,975.4 968.5,933.8 969.0,930.6 969.5,973.7 970.0,973.7 970.5,930.6 971.0,933.9 971.5,971.9 972.0,971.9 972.5,933.9 973.0,931.3 973.5,974.5 974.0,974.5 974.5,931.3 975.0,931.5 975.5,973.6 976.0,973.6 976.5,931.5 977.0,933.7 977.5,974.8 978.0,974.8 978.5,933.7 979.0,933.2 979.5,972.7 980.0,972.7 980.5,933.2 981.0,933.2 981.5,972.6 982.0,972.6 982.5,933.2 983.0,932.3 983.5,974.2 984.0,974.2 984.5,932.3 985.0,931.0 985.5,974.1 986.0,974.1 986.5,931.0 987.0,933.1 987.5,975.2 988.0,975.2 988.5,933.1 989.0,930.4 989.5,972.7 990.0,972.7 990.5,930.4 991.0,930.6 991.5,975.2 992.0,975.2 992.5,930.6 993.0,929.7 993.5,973.4 994.0,973.4 994.5,929.7 995.0,931.0 995.5,971.8 996.0,971.8 996.5,931.0 997.0,933.5 997.5,971.8 998.0,971.8 998.5,933.5 999.0,930.7 999.5,975.2 1000.0,975.2 1000.5,930.7 1001.0,929.9 1001.5,973.6 1002.0,973.6 1002.5,929.9 1003.0,932.7 1003.5,973.8 1004.0,973.8 1004.5,932.7 1005.0,930.6 1005.5,973.9 1006.0,973.9 1006.5,930.6 1007.0,932.3 1007.5,973.0 1008.0,973.0 1008.5,932.3 1009.0,932.9 1009.5,972.3 1010.0,972.3 1010.5,932.9 1011.0,932.5 1011.5,975.0 1012.0,975.0 1012.5,932.5 1013.0,933.3 1013.5,974.4 1014.0,974.4 1014.5,933.3 1015.0,932.1 1015.5,974.1 1016.0,974.1 1016.5,932.1 1017.0,932.9 1017.5,974.7 1018.0,974.7 1018.5,932.9 1019.0,930.6 1019.5,974.6 1020.0,974.6 1020.5,930.6 1021.0,930.2 1021.5,972.2 1022.0,972.2 1022.5,930.2 1023.0,932.1 1023.5,974.3 1024.0,974.3 1024.5,932.1 1025.0,931.3 1025.5,971.8 1026.0,971.8 1026.5,931.3 1027.0,931.8 1027.5,974.6 1028.0,974.6 1028.5,931.8 1029.0,933.2 1029.5,973.0 1030.0,973.0 1030.5,933.2 1031.0,934.0 1031.5,975.1 1032.0,975.1 1032.5,934.0 1033.0,931.7 1033.5,972.4 1034.0,972.4 1034.5,931.7 1035.0,933.3 1035.5,972.1 1036.0,972.1 1036.5,933.3 1037.0,929.7 1037.5,974.4 1038.0,974.4 1038.5,929.7 1039.0,930.0 1039.5,974.8 1040.0,974.8 1040.5,930.0 1041.0,933.9 1041.5,973.3 1042.0,973.3 1042.5,933.9 1043.0,933.7 1043.5,974.1 1044.0,974.1 1044.5,933.7 1045.0,933.4 1045.5,973.8 1046.0,973.8 1046.5,933.4 1047.0,930.7 1047.5,972.6 1048.0,972.6 1048.5,930.7 1049.0,933.8 1049.5,975.1 1050.0,975.1 1050.5,933.8 1051.0,932.2 1051.5,973.2 1052.0,973.2 1052.5,932.2 1053.0,930.5 1053.5,974.1 1054.0,974.1 1054.5,930.5 1055.0,930.1 1055.5,974.7 1056.0,974.7 1056.5,930.1 1057.0,930.7 1057.5,973.2 1058.0,973.2 1058.5,930.7 1059.0,932.5 1059.5,974.7 1060.0,974.7 1060.5,932.5 1061.0,929.6 1061.5,974.3 1062.0,974.3 1062.5,929.6 1063.0,932.6 1063.5,974.8 1064.0,974.8 1064.5,932.6 1065.0,930.9 1065.5,974.7 1066.0,974.7 1066.5,930.9 1067.0,917.0 1067.5,998.4 1068.0,1028.3 1068.5,897.8 1069.0,915.2 1069.5,999.3 1070.0,975.1 1070.5,929.8 1071.0,931.3 1071.5,973.4 1072.0,973.4 1072.5,931.3 1073.0,932.4 1073.5,975.1 1074.0,975.1 1074.5,932.4 1075.0,930.2 1075.5,972.9 1076.0,972.9 1076.5,930.2 1077.0,931.4 1077.5,974.4 1078.0,974.4 1078.5,931.4 1079.0,930.9 1079.5,971.9 1080.0,971.9 1080.5,930.9 1081.0,930.9 1081.5,973.4 1082.0,973.4 1082.5,930.9 1083.0,931.1 1083.5,973.9 1084.0,973.9 1084.5,931.1 1085.0,933.4 1085.5,971.8 1086.0,971.8 1086.5,933.4 1087.0,931.2 1087.5,974.7 1088.0,974.7 1088.5,931.2 1089.0,932.8 1089.5,974.7 1090.0,974.7 1090.5,932.8 1091.0,929.5 1091.5,972.1 1092.0,972.1 1092.5,929.5 1093.0,931.4 1093.5,972.4 1094.0,972.4 1094.5,931.4 1095.0,931.4 1095.5,972.2 1096.0,972.2 1096.5,931.4 1097.0,931.6 1097.5,974.9 1098.0,974.9 1098.5,931.6 1099.0,929.6 1099.5,973.4 1100.0,973.4 1100.5,929.6 1101.0,932.4 1101.5,972.1 1102.0,972.1 1102.5,932.4 1103.0,929.9 1103.5,973.2 1104.0,973.2 1104.5,929.9 1105.0,931.2 1105.5,973.6 1106.0,973.6 1106.5,931.2 1107.0,930.2 1107.5,974.4 1108.0,974.4 1108.5,930.2 1109.0,931.9 1109.5,972.0 1110.0,972.0 1110.5,931.9 1111.0,930.0 1111.5,973.6 1112.0,973.6 1112.5,930.0 1113.0,933.2 1113.5,971.9 1114.0,971.9 1114.5,933.2 1115.0,930.4 1115.5,975.0 1116.0,975.0 1116.5,930.4 1117.0,933.8 1117.5,971.8 1118.0,971.8 1118.5,933.8 1119.0,931.7 1119.5,975.3 1120.0,975.3 1120.5,931.7 1121.0,933.7 1121.5,974.0 1122.0,974.0 1122.5,933.7 1123.0,933.6 1123.5,973.2 1124.0,973.2 1124.5,933.6 1125.0,933.3 1125.5,974.9 1126.0,981.2 1126.5,926.7 1127.0,916.0 1127.5,991.5 1128.0,997.2 1128.5,910.2 1129.0,915.6 1129.5,990.9 1130.0,979.4 1130.5,925.3 1131.0,933.3 1131.5,974.8 1132.0,974.8 1132.5,933.3 1133.0,930.5 1133.5,974.0 1134.0,974.0 1134.5,930.5 1135.0,931.9 1135.5,974.0 1136.0,974.0 1136.5,931.9 1137.0,930.1 1137.5,974.5 1138.0,974.5 1138.5,930.1 1139.0,932.8 1139.5,972.1 1140.0,972.1 1140.5,932.8 1141.0,929.7 1141.5,973.4 1142.0,973.4 1142.5,929.7 1143.0,932.9 1143.5,975.3 1144.0,975.3 1144.5,932.9 1145.0,933.3 1145.5,975.0 1146.0,975.0 1146.5,933.3 1147.0,932.2 1147.5,973.4 1148.0,973.4 1148.5,932.2 1149.0,932.4 1149.5,974.3 1150.0,974.3 1150.5,932.4 1151.0,931.4 1151.5,973.3 1152.0,973.3 1152.5,931.4 1153.0,931.4 1153.5,973.0 1154.0,973.0 1154.5,931.4 1155.0,931.5 1155.5,973.8 1156.0,973.8 1156.5,931.5 1157.0,929.6 1157.5,973.2 1158.0,973.2 1158.5,929.6 1159.0,931.7 1159.5,974.6 1160.0,974.6 1160.5,931.7 1161.0,933.0 1161.5,972.6 1162.0,972.6 1162.5,933.0 1163.0,931.6 1163.5,974.8 1164.0,974.8 1164.5,931.6 1165.0,931.7 1165.5,975.1 1166.0,975.1 1166.5,931.7 1167.0,930.1 1167.5,973.9 1168.0,973.9 1168.5,930.1 1169.0,929.9 1169.5,973.8 1170.0,973.8 1170.5,929.9 1171.0,931.8 1171.5,975.3 1172.0,975.3 1172.5,931.8 1173.0,932.4 1173.5,975.2 1174.0,975.2 1174.5,932.4 1175.0,932.8 1175.5,972.6 1176.0,972.6 1176.5,932.8 1177.0,931.8 1177.5,975.3 1178.0,975.3 1178.5,931.8 1179.0,931.8 1179.5,974.1 1180.0,974.1 1180.5,931.8 1181.0,933.8 1181.5,975.0 1182.0,975.0 1182.5,933.8 1183.0,933.4 1183.5,971.8 1184.0,971.8 1184.5,933.4 1185.0,932.8 1185.5,972.4 1186.0,972.4 1186.5,932.8 1187.0,930.4 1187.5,971.8 1188.0,971.8 1188.5,930.4 1189.0,931.7 1189.5,971.9 1190.0,971.9 1190.5,931.7 1191.0,933.7 1191.5,974.9 1192.0,974.9 1192.5,933.7 1193.0,933.1 1193.5,972.0 1194.0,972.0 1194.5,933.1 1195.0,929.8 1195.5,974.2 1196.0,974.2 1196.5,929.8 1197.0,932.9 1197.5,974.9 1198.0,974.9 1198.5,932.9 1199.0,933.6 1199.5,974.4 1200.0,974.4 1200.5,933.6 1201.0,933.2 1201.5,974.9 1202.0,974.9 1202.5,933.2 1203.0,931.8 1203.5,972.0 1204.0,972.0 1204.5,931.8 1205.0,930.5 1205.5,974.5 1206.0,974.5 1206.5,930.5 1207.0,931.8 1207.5,974.3 1208.0,974.3 1208.5,931.8 1209.0,929.7 1209.5,974.8 1210.0,974.8 1210.5,929.7 1211.0,930.2 1211.5,972.0 1212.0,972.0 1212.5,930.2 1213.0,932.6 1213.5,972.1 1214.0,972.1 1214.5,932.6 1215.0,930.3 1215.5,972.5 1216.0,972.5 1216.5,930.3 1217.0,930.0 1217.5,973.5 1218.0,973.5 1218.5,930.0 1219.0,932.4 1219.5,974.1 1220.0,974.1 1220.5,932.4 1221.0,933.5 1221.5,973.4 1222.0,973.4 1222.5,933.5 1223.0,932.1 1223.5,972.2 1224.0,972.2 1224.5,932.1 1225.0,930.0 1225.5,971.8 1226.0,971.8 1226.5,930.0 1227.0,932.4 1227.5,974.0 1228.0,974.0 1228.5,932.4 1229.0,933.1 1229.5,974.5 1230.0,974.5 1230.5,933.1 1231.0,934.0 1231.5,973.3 1232.0,973.3 1232.5,934.0 1233.0,931.1 1233.5,972.6 1234.0,972.6 1234.5,931.1 1235.0,931.5 1235.5,974.8 1236.0,974.8 1236.5,931.5 1237.0,932.9 1237.5,975.3 1238.0,975.3 1238.5,932.9 1239.0,933.2 1239.5,974.5 1240.0,974.5 1240.5,933.2 1241.0,932.4 1241.5,971.8 1242.0,971.8 1242.5,932.4 1243.0,932.2 1243.5,973.0 1244.0,973.0 1244.5,932.2 1245.0,930.9 1245.5,975.5 1246.0,975.5 1246.5,930.9 1247.0,927.1 1247.5,983.6 1248.0,997.8 1248.5,922.9 1249.0,920.6 1249.5,1005.5 1250.0,997.5 1250.5,923.6 1251.0,928.6 1251.5,981.6 1252.0,972.1 1252.5,931.8 1253.0,930.1 1253.5,974.6 1254.0,974.6 1254.5,930.1 1255.0,932.5 1255.5,975.4 1256.0,975.4 1256.5,932.5 1257.0,929.5 1257.5,974.1 1258.0,974.1 1258.5,929.5 1259.0,930.0 1259.5,974.1 1260.0,974.1 1260.5,930.0 1261.0,930.5 1261.5,973.3 1262.0,973.3 1262.5,930.5 1263.0,932.2 1263.5,974.7 1264.0,974.7 1264.5,932.2 1265.0,932.3 1265.5,973.7 1266.0,973.7 1266.5,932.3 1267.0,930.1 1267.5,972.0 1268.0,972.0 1268.5,930.1 1269.0,930.6 1269.5,974.9 1270.0,974.9 1270.5,930.6 1271.0,929.9 1271.5,973.1 1272.0,973.1 1272.5,929.9 1273.0,933.5 1273.5,972.6 1274.0,972.6 1274.5,933.5 1275.0,931.3 1275.5,974.5 1276.0,974.5 1276.5,931.3 1277.0,929.6 1277.5,973.1 1278.0,973.1 1278.5,929.6 1279.0,932.1 1279.5,974.2 1280.0,974.2 1280.5,932.1 1281.0,932.4 1281.5,973.8 1282.0,973.8 1282.5,932.4 1283.0,933.8 1283.5,972.7 1284.0,972.7 1284.5,933.8 1285.0,930.6 1285.5,972.1 1286.0,972.1 1286.5,930.6 1287.0,929.7 1287.5,973.5 1288.0,973.5 1288.5,929.7 1289.0,931.4 1289.5,974.6 1290.0,974.6 1290.5,931.4 1291.0,929.8 1291.5,972.6 1292.0,972.6 1292.5,929.8 1293.0,929.6 1293.5,973.4 1294.0,973.4 1294.5,929.6 1295.0,933.8 1295.5,974.9 1296.0,974.9 1296.5,933.8 1297.0,930.4 1297.5,973.2 1298.0,973.2 1298.5,930.4 1299.0,931.8 1299.5,973.1 1300.0,973.1 1300.5,931.8 1301.0,933.2 1301.5,974.8 1302.0,974.8 1302.5,933.2 1303.0,930.9 1303.5,974.4 1304.0,974.4 1304.5,930.9 1305.0,929.7 1305.5,972.2 1306.0,972.2 1306.5,929.7 1307.0,933.1 1307.5,972.8 1308.0,972.8 1308.5,933.1 1309.0,929.5 1309.5,972.3 1310.0,972.3 1310.5,929.5 1311.0,932.9 1311.5,973.7 1312.0,973.7 1312.5,932.9 1313.0,932.9 1313.5,973.8 1314.0,973.8 1314.5,932.9 1315.0,930.5 1315.5,975.1 1316.0,975.1 1316.5,930.5 1317.0,930.6 1317.5,975.3 1318.0,975.3 1318.5,930.6 1319.0,931.0 1319.5,972.7 1320.0,972.7 1320.5,931.0 1321.0,932.7 1321.5,972.3 1322.0,972.3 1322.5,932.7 1323.0,932.7 1323.5,974.5 1324.0,974.5 1324.5,932.7 1325.0,932.0 1325.5,973.8 1326.0,973.8 1326.5,932.0 1327.0,933.1 1327.5,973.5 1328.0,973.5 1328.5,933.1 1329.0,930.7 1329.5,973.1 1330.0,973.1 1330.5,930.7 1331.0,933.9 1331.5,974.7 1332.0,974.7 1332.5,933.9 1333.0,933.5 1333.5,975.4 1334.0,975.4 1334.5,933.5 1335.0,930.7 1335.5,974.6 1336.0,974.6 1336.5,930.7 1337.0,932.9 1337.5,971.9 1338.0,971.9 1338.5,932.9 1339.0,932.9 1339.5,974.3 1340.0,974.3 1340.5,932.9 1341.0,933.5 1341.5,974.2 1342.0,974.2 1342.5,933.5 1343.0,930.6 1343.5,972.1 1344.0,972.1 1344.5,930.6 1345.0,932.4 1345.5,972.9 1346.0,972.9 1346.5,932.4 1347.0,932.5 1347.5,971.8 1348.0,971.8 1348.5,932.5 1349.0,931.6 1349.5,972.3 1350.0,972.3 1350.5,931.6 1351.0,932.7 1351.5,972.3 1352.0,972.3 1352.5,932.7 1353.0,931.5 1353.5,972.8 1354.0,972.8 1354.5,931.5 1355.0,921.2 1355.5,982.9 1356.0,996.8 1356.5,903.4 1357.0,893.7 1357.5,1004.5 1358.0,996.5 1358.5,903.0 1359.0,919.6 1359.5,981.3 1360.0,972.1 1360.5,929.9 1361.0,923.3 1361.5,984.2 1362.0,998.6 1362.5,912.2 1363.0,906.1 1363.5,1006.5 1364.0,997.8 1364.5,912.1 1365.0,924.0 1365.5,983.9 1366.0,974.9 1366.5,931.1 1367.0,929.6 1367.5,975.3 1368.0,975.3 1368.5,929.6 1369.0,932.7 1369.5,973.1 1370.0,973.1 1370.5,932.7 1371.0,932.7 1371.5,972.7 1372.0,972.7 1372.5,932.7 1373.0,929.8 1373.5,973.3 1374.0,973.3 1374.5,929.8 1375.0,931.2 1375.5,972.4 1376.0,972.4 1376.5,931.2 1377.0,933.2 1377.5,972.1 1378.0,972.1 1378.5,933.2 1379.0,929.8 1379.5,972.2 1380.0,972.2 1380.5,929.8 1381.0,933.7 1381.5,972.0 1382.0,972.0 1382.5,933.7 1383.0,930.0 1383.5,974.7 1384.0,974.7 1384.5,930.0 1385.0,930.0 1385.5,975.3 1386.0,975.3 1386.5,930.0 1387.0,933.4 1387.5,972.4 1388.0,972.4 1388.5,933.4 1389.0,932.4 1389.5,972.4 1390.0,972.4 1390.5,932.4 1391.0,932.4 1391.5,974.4 1392.0,974.4 1392.5,932.4 1393.0,930.0 1393.5,975.1 1394.0,975.1 1394.5,930.0 1395.0,932.9 1395.5,974.7 1396.0,974.7 1396.5,932.9 1397.0,931.0 1397.5,973.9 1398.0,973.9 1398.5,931.0 1399.0,929.6 1399.5,974.5 1400.0,974.5 1400.5,929.6 1401.0,930.8 1401.5,972.8 1402.0,972.8 1402.5,930.8 1403.0,931.2 1403.5,974.3 1404.0,974.3 1404.5,931.2 1405.0,933.9 1405.5,973.6 1406.0,973.6 1406.5,933.9 1407.0,933.4 1407.5,973.2 1408.0,973.2 1408.5,933.4 1409.0,929.6 1409.5,973.9 1410.0,973.9 1410.5,929.6 1411.0,931.5 1411.5,972.6 1412.0,972.6 1412.5,931.5 1413.0,931.1 1413.5,972.8 1414.0,972.8 1414.5,931.1 1415.0,932.0 1415.5,974.7 1416.0,974.7 1416.5,932.0 1417.0,933.4 1417.5,975.1 1418.0,975.1 1418.5,933.4 1419.0,933.2 1419.5,974.8 1420.0,974.8 1420.5,933.2 1421.0,929.5 1421.5,974.7 1422.0,974.7 1422.5,929.5 1423.0,933.0 1423.5,971.8 1424.0,971.8 1424.5,933.0 1425.0,929.5 1425.5,973.6 1426.0,973.6 1426.5,929.5 1427.0,931.7 1427.5,972.5 1428.0,972.5 1428.5,931.7 1429.0,930.3 1429.5,973.6 1430.0,973.6 1430.5,930.3 1431.0,931.1 1431.5,972.4 1432.0,972.4 1432.5,931.1 1433.0,930.7 1433.5,972.0 1434.0,972.0 1434.5,930.7 1435.0,930.8 1435.5,974.7 1436.0,974.7 1436.5,930.8 1437.0,932.7 1437.5,973.6 1438.0,973.6 1438.5,932.7 1439.0,930.0 1439.5,973.1 1440.0,973.1 1440.5,930.0 1441.0,929.9 1441.5,972.5 1442.0,972.5 1442.5,929.9 1443.0,932.7 1443.5,972.5 1444.0,972.5 1444.5,932.7 1445.0,932.4 1445.5,974.1 1446.0,974.1 1446.5,932.4 1447.0,931.3 1447.5,974.0 1448.0,974.0 1448.5,931.3 1449.0,933.6 1449.5,975.1 1450.0,975.1 1450.5,933.6 1451.0,933.5 1451.5,975.4 1452.0,975.4 1452.5,933.5 1453.0,930.4 1453.5,974.5 1454.0,974.5 1454.5,930.4 1455.0,933.6 1455.5,973.6 1456.0,973.6 1456.5,933.6 1457.0,931.2 1457.5,972.2 1458.0,972.2 1458.5,931.2 1459.0,930.6 1459.5,973.8 1460.0,973.8 1460.5,930.6 1461.0,931.9 1461.5,972.7 1462.0,972.7 1462.5,931.9 1463.0,932.9 1463.5,973.1 1464.0,973.1 1464.5,932.9 1465.0,931.1 1465.5,974.3 1466.0,974.3 1466.5,931.1 1467.0,930.2 1467.5,972.3 1468.0,972.3 1468.5,930.2 1469.0,932.5 1469.5,972.7 1470.0,972.7 1470.5,932.5 1471.0,930.3 1471.5,973.8 1472.0,973.8 1472.5,930.3 1473.0,933.0 1473.5,973.3 1474.0,973.3 1474.5,933.0 1475.0,930.1 1475.5,973.7 1476.0,973.7 1476.5,930.1 1477.0,933.5 1477.5,974.6 1478.0,974.6 1478.5,933.5 1479.0,930.4 1479.5,974.3 1480.0,974.3 1480.5,930.4 1481.0,932.7 1481.5,972.3 1482.0,972.3 1482.5,932.7 1483.0,930.2 1483.5,974.9 1484.0,974.9 1484.5,930.2 1485.0,930.6 1485.5,974.3 1486.0,974.3 1486.5,930.6 1487.0,931.9 1487.5,974.9 1488.0,974.9 1488.5,931.9 1489.0,931.0 1489.5,974.8 1490.0,974.8 1490.5,931.0 1491.0,933.9 1491.5,972.8 1492.0,972.8 1492.5,933.9 1493.0,930.0 1493.5,971.9 1494.0,971.9 1494.5,930.0 1495.0,930.0 1495.5,974.0 1496.0,974.0 1496.5,930.0 1497.0,934.0 1497.5,972.5 1498.0,972.5 1498.5,934.0 1499.0,932.8 1499.5,973.8 1500.0,973.8 1500.5,932.8 1501.0,930.4 1501.5,973.1 1502.0,973.1 1502.5,930.4 1503.0,930.0 1503.5,974.7 1504.0,974.7 1504.5,930.0 1505.0,931.3 1505.5,975.3 1506.0,975.3 1506.5,931.3 1507.0,931.3 1507.5,972.5 1508.0,972.5 1508.5,931.3 1509.0,932.7 1509.5,973.6 1510.0,973.6 1510.5,932.7 1511.0,932.4 1511.5,973.7 1512.0,973.7 1512.5,932.4 1513.0,930.1 1513.5,973.2 1514.0,973.2 1514.5,930.1 1515.0,931.3 1515.5,972.7 1516.0,972.7 1516.5,931.3 1517.0,933.6 1517.5,973.9 1518.0,973.9 1518.5,933.6 1519.0,932.1 1519.5,972.7 1520.0,972.7 1520.5,932.1 1521.0,931.4 1521.5,974.6 1522.0,974.6 1522.5,931.4 1523.0,932.8 1523.5,972.2 1524.0,972.2 1524.5,932.8 1525.0,933.0 1525.5,972.9 1526.0,972.9 1526.5,933.0 1527.0,933.4 1527.5,972.9 1528.0,972.9 1528.5,933.4 1529.0,932.4 1529.5,973.8 1530.0,973.8 1530.5,932.4 1531.0,930.9 1531.5,973.1 1532.0,973.1 1532.5,930.9 1533.0,929.9 1533.5,973.9 1534.0,973.9 1534.5,929.9 1535.0,933.1 1535.5,972.8 1536.0,972.8 1536.5,933.1 1537.0,932.4 1537.5,974.5 1538.0,974.5 1538.5,932.4 1539.0,931.4 1539.5,973.8 1540.0,973.8 1540.5,931.4 1541.0,932.3 1541.5,973.9 1542.0,973.9 1542.5,932.3 1543.0,932.6 1543.5,972.0 1544.0,972.0 1544.5,932.6 1545.0,930.3 1545.5,973.0 1546.0,973.0 1546.5,930.3 1547.0,933.0 1547.5,974.0 1548.0,974.0 1548.5,933.0 1549.0,931.7 1549.5,971.8 1550.0,971.8 1550.5,931.7 1551.0,929.7 1551.5,973.4 1552.0,973.4 1552.5,929.7 1553.0,930.2 1553.5,972.6 1554.0,972.6 1554.5,930.2 1555.0,924.7 1555.5,990.0 1556.0,1016.7 1556.5,910.0 1557.0,902.0 1557.5,1031.4 1558.0,1016.7 1558.5,909.0 1559.0,923.4 1559.5,989.5 1560.0,972.8 1560.5,932.0 1561.0,931.8 1561.5,973.1 1562.0,973.1 1562.5,931.8 1563.0,933.3 1563.5,973.5 1564.0,973.5 1564.5,933.3 1565.0,931.4 1565.5,971.9 1566.0,971.9 1566.5,931.4 1567.0,930.5 1567.5,972.9 1568.0,972.9 1568.5,930.5 1569.0,931.3 1569.5,972.6 1570.0,972.6 1570.5,931.3 1571.0,930.1 1571.5,971.8 1572.0,971.8 1572.5,930.1 1573.0,931.1 1573.5,975.3 1574.0,975.3 1574.5,931.1 1575.0,930.8 1575.5,974.0 1576.0,974.0 1576.5,930.8 1577.0,929.6 1577.5,973.9 1578.0,973.9 1578.5,929.6 1579.0,931.4 1579.5,972.9 1580.0,972.9 1580.5,931.4 1581.0,931.1 1581.5,974.5 1582.0,974.5 1582.5,931.1 1583.0,930.5 1583.5,972.7 1584.0,972.7 1584.5,930.5 1585.0,933.8 1585.5,973.5 1586.0,973.5 1586.5,933.8 1587.0,930.5 1587.5,972.5 1588.0,972.5 1588.5,930.5 1589.0,931.3 1589.5,974.7 1590.0,974.7 1590.5,931.3 1591.0,930.1 1591.5,972.6 1592.0,972.6 1592.5,930.1 1593.0,933.2 1593.5,973.1 1594.0,973.1 1594.5,933.2 1595.0,931.6 1595.5,973.4 1596.0,973.4 1596.5,931.6 1597.0,930.5 1597.5,971.9 1598.0,971.9 1598.5,930.5 1599.0,931.1 1599.5,973.1 1600.0,973.1 1600.5,931.1 1601.0,933.2 1601.5,972.4 1602.0,972.4 1602.5,933.2 1603.0,931.6 1603.5,974.4 1604.0,974.4 1604.5,931.6 1605.0,932.0 1605.5,975.0 1606.0,983.7 1606.5,924.0 1607.0,914.4 1607.5,994.1 1608.0,983.2 1608.5,924.7 1609.0,933.4 1609.5,974.5 1610.0,974.5 1610.5,933.4 1611.0,931.2 1611.5,974.5 1612.0,974.5 1612.5,931.2 1613.0,931.4 1613.5,974.8 1614.0,974.8 1614.5,931.4 1615.0,929.5 1615.5,972.8 1616.0,972.8 1616.5,929.5 1617.0,924.9 1617.5,974.6 1618.0,974.6 1618.5,915.4 1619.0,910.2 1619.5,973.7 1620.0,973.7 1620.5,915.5 1621.0,925.4 1621.5,973.1 1622.0,973.1 1622.5,931.5 1623.0,925.0 1623.5,974.1 1624.0,974.1 1624.5,912.8 1625.0,906.1 1625.5,972.3 1626.0,972.3 1626.5,913.1 1627.0,923.0 1627.5,972.4 1628.0,972.4 1628.5,929.8 1629.0,933.6 1629.5,972.5 1630.0,972.5 1630.5,933.6 1631.0,930.1 1631.5,972.4 1632.0,972.4 1632.5,930.1 1633.0,932.4 1633.5,975.4 1634.0,975.4 1634.5,932.4 1635.0,929.6 1635.5,971.9 1636.0,971.9 1636.5,929.6 1637.0,927.9 1637.5,974.5 1638.0,974.5 1638.5,920.5 1639.0,916.5 1639.5,974.9 1640.0,974.9 1640.5,919.9 1641.0,926.6 1641.5,972.6 1642.0,972.6 1642.5,930.6 1643.0,931.1 1643.5,974.9 1644.0,974.9 1644.5,931.1 1645.0,933.6 1645.5,972.5 1646.0,972.5 1646.5,933.6 1647.0,930.3 1647.5,972.1 1648.0,972.1 1648.5,930.3 1649.0,924.8 1649.5,972.6 1650.0,972.6 1650.5,912.7 1651.0,906.1 1651.5,972.1 1652.0,972.1 1652.5,912.8 1653.0,925.4 1653.5,972.3 1654.0,972.3 1654.5,933.1 1655.0,930.4 1655.5,972.9 1656.0,972.9 1656.5,930.4 1657.0,931.9 1657.5,972.7 1658.0,972.7 1658.5,931.9 1659.0,931.5 1659.5,972.2 1660.0,972.2 1660.5,931.5 1661.0,932.0 1661.5,974.5 1662.0,974.5 1662.5,932.0 1663.0,930.6 1663.5,975.0 1664.0,975.0 1664.5,930.6 1665.0,931.7 1665.5,975.3 1666.0,975.3 1666.5,931.7 1667.0,931.6 1667.5,974.9 1668.0,974.9 1668.5,931.6 1669.0,931.7 1669.5,973.6 1670.0,973.6 1670.5,931.7 1671.0,932.0 1671.5,972.3 1672.0,972.3 1672.5,932.0 1673.0,929.5 1673.5,972.3 1674.0,972.3 1674.5,929.5 1675.0,931.6 1675.5,973.4 1676.0,973.4 1676.5,931.6 1677.0,932.5 1677.5,972.3 1678.0,972.3 1678.5,932.5 1679.0,931.2 1679.5,973.9 1680.0,973.9 1680.5,931.2 1681.0,933.9 1681.5,975.2 1682.0,975.2 1682.5,933.9 1683.0,932.4 1683.5,973.1 1684.0,973.1 1684.5,932.4 1685.0,929.6 1685.5,973.2 1686.0,973.2 1686.5,929.6 1687.0,932.6 1687.5,972.0 1688.0,972.0 1688.5,932.6 1689.0,931.0 1689.5,971.8 1690.0,971.8 1690.5,931.0 1691.0,931.8 1691.5,973.7 1692.0,973.7 1692.5,931.8 1693.0,933.6 1693.5,975.3 1694.0,975.3 1694.5,933.6 1695.0,932.8 1695.5,973.1 1696.0,973.1 1696.5,932.8 1697.0,931.0 1697.5,972.3 1698.0,972.3 1698.5,931.0 1699.0,931.2 1699.5,973.7 1700.0,973.7 1700.5,931.2 1701.0,931.9 1701.5,972.6 1702.0,972.6 1702.5,931.9 1703.0,930.5 1703.5,973.8 1704.0,973.8 1704.5,930.5 1705.0,931.4 1705.5,973.4 1706.0,973.4 1706.5,931.4 1707.0,933.3 1707.5,974.4 1708.0,974.4 1708.5,933.3 1709.0,933.3 1709.5,974.0 1710.0,974.0 1710.5,933.3 1711.0,931.8 1711.5,974.5 1712.0,974.5 1712.5,931.8 1713.0,931.8 1713.5,971.8 1714.0,971.8 1714.5,931.8 1715.0,932.5 1715.5,972.5 1716.0,972.5 1716.5,932.5 1717.0,931.0 1717.5,974.3 1718.0,974.3 1718.5,931.0 1719.0,930.9 1719.5,973.3 1720.0,973.3 1720.5,930.9 1721.0,932.4 1721.5,972.5 1722.0,972.5 1722.5,932.4 1723.0,929.7 1723.5,972.8 1724.0,972.8 1724.5,929.7 1725.0,933.5 1725.5,973.4 1726.0,973.4 1726.5,933.5 1727.0,929.7 1727.5,974.4 1728.0,974.4 1728.5,929.7 1729.0,929.5 1729.5,974.8 1730.0,974.8 1730.5,929.5 1731.0,933.7 1731.5,973.2 1732.0,973.2 1732.5,933.7 1733.0,932.5 1733.5,972.5 1734.0,972.5 1734.5,932.5 1735.0,933.6 1735.5,973.2 1736.0,973.2 1736.5,933.6 1737.0,932.3 1737.5,973.1 1738.0,973.1 1738.5,932.3 1739.0,932.7 1739.5,973.2 1740.0,973.2 1740.5,932.7 1741.0,932.6 1741.5,974.7 1742.0,974.7 1742.5,932.6 1743.0,932.5 1743.5,973.8 1744.0,973.8 1744.5,932.5 1745.0,933.0 1745.5,975.1 1746.0,975.1 1746.5,933.0 1747.0,930.3 1747.5,975.3 1748.0,975.3 1748.5,930.3 1749.0,933.0 1749.5,972.1 1750.0,972.1 1750.5,933.0 1751.0,932.5 1751.5,974.1 1752.0,974.1 1752.5,932.5 1753.0,933.2 1753.5,972.5 1754.0,972.5 1754.5,933.2 1755.0,932.1 1755.5,974.5 1756.0,974.5 1756.5,932.1 1757.0,930.9 1757.5,973.9 1758.0,973.9 1758.5,930.9 1759.0,931.0 1759.5,973.9 1760.0,973.9 1760.5,931.0 1761.0,932.4 1761.5,972.0 1762.0,972.0 1762.5,932.4 1763.0,929.8 1763.5,973.4 1764.0,973.4 1764.5,929.8 1765.0,929.7 1765.5,975.0 1766.0,975.0 1766.5,929.7 1767.0,933.2 1767.5,973.3 1768.0,973.3 1768.5,933.2 1769.0,933.7 1769.5,973.8 1770.0,973.8 1770.5,933.7 1771.0,929.6 1771.5,974.0 1772.0,974.0 1772.5,929.6 1773.0,932.2 1773.5,972.0 1774.0,972.0 1774.5,932.2 1775.0,934.0 1775.5,973.7 1776.0,973.7 1776.5,934.0 1777.0,931.4 1777.5,975.1 1778.0,975.1 1778.5,931.4 1779.0,932.4 1779.5,974.7 1780.0,974.7 1780.5,932.4 1781.0,930.2 1781.5,975.4 1782.0,975.4 1782.5,930.2 1783.0,929.5 1783.5,972.9 1784.0,972.9 1784.5,929.5 1785.0,930.1 1785.5,971.9 1786.0,971.9 1786.5,930.1 1787.0,929.9 1787.5,972.2 1788.0,972.2 1788.5,929.9 1789.0,930.1 1789.5,975.4 1790.0,975.4 1790.5,930.1 1791.0,932.8 1791.5,974.6 1792.0,974.6 1792.5,932.8 1793.0,932.8 1793.5,974.8 1794.0,974.8 1794.5,932.8 1795.0,929.7 1795.5,972.6 1796.0,972.6 1796.5,929.7 1797.0,932.7 1797.5,972.3 1798.0,972.3 1798.5,932.7 1799.0,932.8 1799.5,975.2 1800.0,975.2 1800.5,932.8 1801.0,932.4 1801.5,972.8 1802.0,972.8 1802.5,932.4 1803.0,931.6 1803.5,972.0 1804.0,972.0 1804.5,931.6 1805.0,930.7 1805.5,971.9 1806.0,971.9 1806.5,930.7 1807.0,932.8 1807.5,975.4 1808.0,975.4 1808.5,932.8 1809.0,929.6 1809.5,973.0 1810.0,973.0 1810.5,929.6 1811.0,933.2 1811.5,975.2 1812.0,975.2 1812.5,933.2 1813.0,930.9 1813.5,972.8 1814.0,972.8 1814.5,930.9 1815.0,930.3 1815.5,972.3 1816.0,972.3 1816.5,930.3 1817.0,931.7 1817.5,975.2 1818.0,975.2 1818.5,931.7 1819.0,931.2 1819.5,973.3 1820.0,973.3 1820.5,931.2 1821.0,931.5 1821.5,972.9 1822.0,972.9 1822.5,931.5 1823.0,930.2 1823.5,972.5 1824.0,972.5 1824.5,930.2 1825.0,931.2 1825.5,973.1 1826.0,973.1 1826.5,931.2 1827.0,932.4 1827.5,973.9 1828.0,973.9 1828.5,932.4 1829.0,931.3 1829.5,972.5 1830.0,972.5 1830.5,931.3 1831.0,933.8 1831.5,972.5 1832.0,972.5 1832.5,933.8 1833.0,932.1 1833.5,974.4 1834.0,974.4 1834.5,932.1 1835.0,929.8 1835.5,971.8 1836.0,971.8 1836.5,929.8 1837.0,932.7 1837.5,972.4 1838.0,972.4 1838.5,932.7 1839.0,931.0 1839.5,973.2 1840.0,973.2 1840.5,931.0 1841.0,933.9 1841.5,972.4 1842.0,972.4 1842.5,933.9 1843.0,932.2 1843.5,974.3 1844.0,974.3 1844.5,932.2 1845.0,931.5 1845.5,972.2 1846.0,972.2 1846.5,931.5 1847.0,931.2 1847.5,972.9 1848.0,972.9 1848.5,931.2 1849.0,932.2 1849.5,972.1 1850.0,972.1 1850.5,932.2 1851.0,933.2 1851.5,974.4 1852.0,974.4 1852.5,933.2 1853.0,929.5 1853.5,974.5 1854.0,974.5 1854.5,929.5 1855.0,931.4 1855.5,973.3 1856.0,973.3 1856.5,931.4 1857.0,933.2 1857.5,972.2 1858.0,972.2 1858.5,933.2 1859.0,929.7 1859.5,972.4 1860.0,972.4 1860.5,929.7 1861.0,933.2 1861.5,972.2 1862.0,972.2 1862.5,933.2 1863.0,932.1 1863.5,974.4 1864.0,974.4 1864.5,932.1 1865.0,933.4 1865.5,972.5 1866.0,972.5 1866.5,933.4 1867.0,932.6 1867.5,972.1 1868.0,972.1 1868.5,932.6 1869.0,931.1 1869.5,975.2 1870.0,975.2 1870.5,931.1 1871.0,932.0 1871.5,972.5 1872.0,972.5 1872.5,932.0 1873.0,930.4 1873.5,972.7 1874.0,972.7 1874.5,930.4 1875.0,933.7 1875.5,974.6 1876.0,974.6 1876.5,933.7 1877.0,932.3 1877.5,972.9 1878.0,972.9 1878.5,932.3 1879.0,931.6 1879.5,974.7 1880.0,974.7 1880.5,931.6 1881.0,930.7 1881.5,972.7 1882.0,972.7 1882.5,930.7 1883.0,933.1 1883.5,973.8 1884.0,973.8 1884.5,933.1 1885.0,929.9 1885.5,972.5 1886.0,972.5 1886.5,929.9 1887.0,933.0 1887.5,974.6 1888.0,974.6 1888.5,933.0 1889.0,932.1 1889.5,972.1 1890.0,972.1 1890.5,932.1 1891.0,933.5 1891.5,973.5 1892.0,973.5 1892.5,933.5 1893.0,931.7 1893.5,973.3 1894.0,973.3 1894.5,931.7 1895.0,930.4 1895.5,974.8 1896.0,974.8 1896.5,930.4 1897.0,930.3 1897.5,972.9 1898.0,972.9 1898.5,930.3 1899.0,931.2 1899.5,973.4 1900.0,973.4 1900.5,931.2 1901.0,931.3 1901.5,973.5 1902.0,973.5 1902.5,931.3 1903.0,930.2 1903.5,975.3 1904.0,975.3 1904.5,930.2 1905.0,934.0 1905.5,974.1 1906.0,974.1 1906.5,934.0 1907.0,930.0 1907.5,973.1 1908.0,973.1 1908.5,930.0 1909.0,933.1 1909.5,974.9 1910.0,974.9 1910.5,933.1 1911.0,932.2 1911.5,974.2 1912.0,974.2 1912.5,932.2 1913.0,931.9 1913.5,975.4 1914.0,975.4 1914.5,931.9 1915.0,929.7 1915.5,971.8 1916.0,971.8 1916.5,929.7 1917.0,933.4 1917.5,973.7 1918.0,973.7 1918.5,933.4 1919.0,932.1 1919.5,974.5 1920.0,974.5 1920.5,932.1 1921.0,933.0 1921.5,973.9 1922.0,973.9 1922.5,933.0 1923.0,933.8 1923.5,972.6 1924.0,972.6 1924.5,933.8 1925.0,933.2 1925.5,971.9 1926.0,971.9 1926.5,933.2 1927.0,930.7 1927.5,975.3 1928.0,975.3 1928.5,930.7 1929.0,930.4 1929.5,974.8 1930.0,974.8 1930.5,930.4 1931.0,929.9 1931.5,975.3 1932.0,975.3 1932.5,929.9 1933.0,932.0 1933.5,972.2 1934.0,972.2 1934.5,932.0 1935.0,931.6 1935.5,971.9 1936.0,971.9 1936.5,931.6 1937.0,933.6 1937.5,975.2 1938.0,975.2 1938.5,933.6 1939.0,932.2 1939.5,974.0 1940.0,974.0 1940.5,932.2 1941.0,930.0 1941.5,971.9 1942.0,971.9 1942.5,930.0 1943.0,930.7 1943.5,973.4 1944.0,973.4 1944.5,930.7 1945.0,932.4 1945.5,971.9 1946.0,971.9 1946.5,932.4 1947.0,932.5 1947.5,974.0 1948.0,974.0 1948.5,932.5 1949.0,931.5 1949.5,974.9 1950.0,974.9 1950.5,931.5 1951.0,933.9 1951.5,971.8 1952.0,971.8 1952.5,933.9 1953.0,930.5 1953.5,975.3 1954.0,975.3 1954.5,930.5 1955.0,930.7 1955.5,974.2 1956.0,974.2 1956.5,930.7 1957.0,933.6 1957.5,972.1 1958.0,972.1 1958.5,933.6 1959.0,933.3 1959.5,975.3 1960.0,975.3 1960.5,933.3 1961.0,933.1 1961.5,972.8 1962.0,972.8 1962.5,933.1 1963.0,932.4 1963.5,971.8 1964.0,971.8 1964.5,932.4 1965.0,929.8 1965.5,974.9 1966.0,974.9 1966.5,929.8 1967.0,932.9 1967.5,972.0 1968.0,972.0 1968.5,932.9 1969.0,932.6 1969.5,974.4 1970.0,974.4 1970.5,932.6 1971.0,932.2 1971.5,972.6 1972.0,972.6 1972.5,932.2 1973.0,930.0 1973.5,974.3 1974.0,974.3 1974.5,930.0 1975.0,930.7 1975.5,975.0 1976.0,975.0 1976.5,930.7 1977.0,931.7 1977.5,974.8 1978.0,974.8 1978.5,931.7 1979.0,930.6 1979.5,974.9 1980.0,974.9 1980.5,930.6 1981.0,932.6 1981.5,975.4 1982.0,975.4 1982.5,932.6 1983.0,932.8 1983.5,974.7 1984.0,974.7 1984.5,932.8 1985.0,929.7 1985.5,972.0 1986.0,972.0 1986.5,929.7 1987.0,930.5 1987.5,972.0 1988.0,972.0 1988.5,930.5 1989.0,933.4 1989.5,972.2 1990.0,972.2 1990.5,933.4 1991.0,930.1 1991.5,973.8 1992.0,973.8 1992.5,930.1 1993.0,929.9 1993.5,972.0 1994.0,972.0 1994.5,929.9 1995.0,933.3 1995.5,973.1 1996.0,973.1 1996.5,933.3 1997.0,931.6 1997.5,974.2 1998.0,974.2 1998.5,931.6 1999.0,933.2 1999.5,973.7 2000.0,973.7 2000.5,933.2 2001.0,932.4 2001.5,974.9 2002.0,974.9 2002.5,932.4 2003.0,930.5 2003.5,975.3 2004.0,975.3 2004.5,930.5 2005.0,932.7 2005.5,973.4 2006.0,973.4 2006.5,932.7 2007.0,930.2 2007.5,972.2 2008.0,972.2 2008.5,930.2 2009.0,930.7 2009.5,973.9 2010.0,973.9 2010.5,930.7 2011.0,945.7 2011.5,965.6 2012.0,965.6 2012.5,945.7 2013.0,947.0 2013.5,965.5 2014.0,954.2 2014.5,935.7 2015.0,899.4 2015.5,918.8 2016.0,891.6 2016.5,872.1 2017.0,847.8 2017.5,866.3 2018.0,842.0 2018.5,823.6 2019.0,798.2 2019.5,816.8 2020.0,787.2 2020.5,768.5 2021.0,731.1 2021.5,750.0 2022.0,715.6 2022.5,696.7 2023.0,677.8 2023.5,696.9 2024.0,695.5 2024.5,676.5 2025.0,665.0 2025.5,699.4 2026.0,706.0 2026.5,647.0 2027.0,638.3 2027.5,710.7 2028.0,712.0 2028.5,652.9 2029.0,682.7 2029.5,716.3 2030.0,730.4 2030.5,708.7 2031.0,724.6 2031.5,750.7 2032.0,766.1 2032.5,736.9 2033.0,742.2 2033.5,770.3 2034.0,760.3 2034.5,737.2 2035.0,714.4 2035.5,733.3 2036.0,700.9 2036.5,682.0 2037.0,654.0 2037.5,672.8 2038.0,651.8 2038.5,633.0 2039.0,613.8 2039.5,632.7 2040.0,613.8 2040.5,595.0 2041.0,576.1 2041.5,594.7 2042.0,575.9 2042.5,557.3 2043.0,536.7 2043.5,557.2 2044.0,539.0 2044.5,518.6 2045.0,504.7 2045.5,522.8 2046.0,511.0 2046.5,492.8 2047.0,481.5 2047.5,501.0 2048.1,491.1 2048.6,471.5 2049.1,461.0 2049.6,479.6 2050.1,465.5 2050.6,446.9 2051.1,432.7 2051.6,452.1 2052.1,441.9 2052.6,422.5 2053.1,417.8 2053.6,436.7 2054.1,471.0 2054.6,452.1 2055.1,487.1 2055.6,506.1 2056.1,500.5 2056.6,481.4 2057.1,466.4 2057.6,486.8 2058.1,469.5 2058.6,449.1 2059.1,434.0 2059.6,452.7 2060.1,441.3 2060.6,422.7 2061.1,412.1 2061.6,469.8 2062.1,505.8 2062.6,402.8 2063.1,394.6 2063.6,451.2 2064.1,404.3 2064.6,386.0 2065.1,377.9 2065.6,396.0 2066.1,387.3 2066.6,369.2 2067.1,359.2 2067.6,379.4 2068.1,370.7 2068.6,350.5 2069.1,342.8 2069.6,361.4 2070.1,352.8 2070.6,334.2 2071.1,325.6 2071.6,344.8 2072.1,336.3 2072.6,317.1 2073.1,308.7 2073.6,327.3 2074.1,318.8 2074.6,300.2 2075.1,291.7 2075.6,309.3 2076.1,300.7 2076.6,283.2 2077.1,273.9 2077.6,293.7 2078.1,285.1 2078.6,265.3 2079.1,256.9 2079.6,275.0 2080.1,264.5 2080.6,246.4 2081.1,235.0 2081.6,253.6 2082.1,241.9 2082.6,223.3 2083.1,210.6 2083.6,229.4 2084.1,218.6 2084.6,199.8 2085.1,190.7 2085.6,210.4 2086.1,202.7 2086.6,182.5 2087.1,182.5 2087.6,196.5 2088.1,193.9 2088.6,182.5 2089.1,182.5 2089.6,193.9 2090.1,193.9 2090.6,182.5 2091.1,182.5 2091.6,193.9 2092.1,193.9 2092.6,182.5 2093.1,182.5 2093.6,193.6 2094.1,238.5 2094.6,182.5 2095.1,182.5 2095.6,292.2 2096.1,238.4 2096.6,182.5 2097.1,182.5 2097.6,193.6 2098.1,193.6 2098.6,182.5 2099.1,182.5 2099.6,193.5 2100.1,194.3 2100.6,182.5 2101.1,182.5 2101.6,200.1 2102.1,211.4 2102.6,192.4 2103.1,209.6 2103.6,227.6 2104.1,246.6 2104.6,228.6 2105.1,249.3 2105.6,268.1 2106.1,291.3 2106.6,272.5 2107.1,296.5 2107.6,316.2 2108.1,340.0 2108.6,320.3 2109.1,343.9 2109.6,362.4 2110.1,384.4 2110.6,366.0 2111.1,391.0 2111.6,411.1 2112.1,437.5 2112.6,417.4 2113.1,437.6 2113.6,456.3 2114.1,468.2 2114.6,449.5 2115.1,457.7 2115.6,478.2 2116.1,485.5 2116.6,465.0 2117.1,474.0 2117.6,493.1 2118.1,503.1 2118.6,408.0 2119.1,331.6 2119.6,516.9 2120.1,533.8 2120.6,438.8 2121.1,530.6 2121.6,549.2 2122.1,560.9 2122.6,542.3 2123.1,553.2 2123.6,572.4 2124.1,582.2 2124.6,563.0 2125.1,572.6 2125.6,590.3 2126.1,599.1 2126.6,581.3 2127.1,588.3 2127.6,608.7 2128.1,617.1 2128.6,596.7 2129.1,606.0 2129.6,653.6 2130.1,696.7 2130.6,614.8 2131.1,623.4 2131.6,671.8 2132.1,652.5 2132.6,632.5 2133.1,637.1 2133.6,666.7 2134.1,675.7 2134.6,646.2 2135.1,655.5 2135.6,714.2 2136.1,760.6 2136.6,663.9 2137.1,670.6 2137.6,731.1 2138.1,707.0 2138.6,678.0 2139.1,686.3 2139.6,714.8 2140.1,720.5 2140.6,692.0 2141.1,697.4 2141.6,723.5 2142.1,728.2 2142.6,702.1 2143.1,645.7 2143.6,763.3 2144.1,802.4 2144.6,578.8 2145.1,654.5 2145.6,771.2 2146.1,745.8 2146.6,718.5 2147.1,721.4 2147.6,748.7 2148.1,753.0 2148.6,725.7 2149.1,694.8 2149.6,759.1 2150.1,763.5 2150.6,655.8 2151.1,702.8 2151.6,768.0 2152.1,772.4 2152.6,743.0 2153.1,747.9 2153.6,775.0 2154.1,779.4 2154.6,752.3 2155.1,757.7 2155.6,784.0 2156.1,788.3 2156.6,762.0 2157.1,766.3 2157.6,792.7 2158.1,796.8 2158.6,770.4 2159.1,751.0 2159.6,823.6 2160.1,853.7 2160.6,729.5 2161.1,760.1 2161.6,830.7 2162.1,823.1 2162.6,786.3 2163.1,788.0 2163.6,817.2 2164.1,820.8 2164.6,791.6 2165.1,796.3 2165.6,824.5 2166.1,828.0 2166.6,799.8 2167.1,802.9 2167.6,832.3 2168.1,835.7 2168.6,806.4 2169.1,809.5 2169.6,837.9 2170.1,841.2 2170.6,812.0 2171.1,815.0 2171.6,845.6 2172.1,848.9 2172.6,818.2 2173.1,824.2 2173.6,850.4 2174.1,853.6 2174.6,827.5 2175.1,830.7 2175.6,857.3 2176.1,860.6 2176.6,833.9 2177.1,836.8 2177.6,863.1 2178.1,866.2 2178.6,839.9 2179.1,843.2 2179.6,871.7 2180.1,874.7 2180.6,846.2 2181.1,807.5 2181.6,901.3 2182.1,933.2 2182.6,761.4 2183.1,812.9 2183.6,906.7 2184.1,884.8 2184.6,856.4 2185.1,858.4 2185.6,885.3 2186.1,887.7 2186.6,860.7 2187.1,863.2 2187.6,891.8 2188.1,894.0 2188.6,865.4 2189.1,867.2 2189.6,895.6 2190.1,897.6 2190.6,869.3 2191.1,872.4 2191.6,900.0 2192.1,902.0 2192.6,874.4 2193.1,874.4 2193.6,902.8 2194.1,904.6 2194.6,876.2 2195.1,877.5 2195.6,906.5 2196.1,908.2 2196.6,879.2 2197.1,883.2 2197.6,910.1 2198.1,911.7 2198.6,866.1 2199.1,845.4 2199.6,913.5 2200.1,915.0 2200.6,868.2 2201.1,888.3 2201.6,917.4 2202.1,918.9 2202.6,889.8 2203.1,890.1 2203.6,920.4 2204.1,921.8 2204.6,891.5 2205.1,893.4 2205.6,922.5 2206.1,923.8 2206.6,894.7 2207.1,896.0 2207.6,925.5 2208.1,926.8 2208.6,897.2 2209.1,892.8 2209.6,931.8 2210.1,933.0 2210.6,894.0 2211.1,897.9 2211.6,933.9 2212.1,945.5 2212.6,886.3 2213.1,872.1 2213.6,959.1 2214.1,947.6 2214.6,887.9 2215.1,899.8 2215.6,937.8 2216.1,938.9 2216.6,900.8 2217.1,902.8 2217.6,940.4 2218.1,941.4 2218.6,903.8 2219.1,905.3 2219.6,942.6 2220.1,943.5 2220.6,906.2 2221.1,905.9 2221.6,945.3 2222.1,946.1 2222.6,897.9 2223.1,907.2 2223.6,945.9 2224.1,946.6 2224.6,908.0 2225.1,909.3 2225.6,947.1 2226.1,947.8 2226.6,910.0 2227.1,909.2 2227.6,949.3 2228.1,949.9 2228.6,909.8 2229.1,913.6 2229.6,950.9 2230.1,951.5 2230.6,914.1 2231.1,913.5 2231.6,951.0 2232.1,951.6 2232.6,863.1 2233.1,802.8 2233.6,979.3 2234.1,1014.4 2234.6,863.6 2235.1,914.6 2235.6,980.7 2236.1,952.5 2236.6,915.0 2237.1,915.0 2237.6,955.6 2238.1,956.0 2238.6,915.4 2239.1,918.6 2239.6,955.1 2240.1,955.5 2240.6,919.0 2241.1,910.3 2241.6,962.0 2242.1,969.9 2242.6,898.4 2243.1,884.0 2243.6,979.2 2244.1,969.9 2244.6,900.3 2245.1,912.3 2245.6,964.6 2246.1,965.0 2246.6,912.8 2247.1,917.3 2247.6,962.9 2248.1,986.7 2248.6,917.8 2249.1,914.3 2249.6,1015.0 2250.1,988.6 2250.6,914.7 2251.1,916.0 2251.6,964.9 2252.1,965.3 2252.6,916.4 2253.1,918.1 2253.6,964.8 2254.1,965.1 2254.6,918.4 2255.1,919.8 2255.6,967.1 2256.1,977.1 2256.6,911.7 2257.1,901.9 2257.6,988.9 2258.1,977.1 2258.6,912.0 2259.1,920.7 2259.6,968.5 2260.1,968.8 2260.6,921.0 2261.1,921.4 2261.6,968.0 2262.1,976.4 2262.6,913.3 2263.1,903.6 2263.6,986.4 2264.1,978.4 2264.6,914.1 2265.1,922.8 2265.6,972.4 2266.1,972.6 2266.6,923.0 2267.1,922.7 2267.6,970.0 2268.1,970.2 2268.6,922.9 2269.1,921.8 2269.6,968.5 2270.1,968.5 2270.6,921.8 2271.1,922.1 2271.6,971.2 2272.1,971.2 2272.6,922.1" stroke="#9400D3" stroke-width="4"/>
<path d="M180.8,955.8 2013.4,955.8 2013.8,951.7 2014.6,927.2 2015.4,899.9 2016.2,879.3 2017.0,859.6 2017.8,840.3 2018.6,820.6 2019.4,799.9 2020.2,774.3 2021.0,744.2 2021.8,715.4 2022.6,693.9 2023.4,685.4 2024.2,685.7 2025.0,686.4 2025.8,687.6 2026.6,689.1 2027.4,690.8 2028.2,695.2 2029.0,703.6 2029.8,714.6 2030.6,726.5 2031.4,737.8 2032.2,746.9 2033.0,752.2 2033.4,752.9 2033.8,750.7 2034.6,735.6 2035.4,711.8 2036.2,685.7 2037.0,663.9 2037.8,646.9 2038.6,630.8 2039.4,615.4 2040.2,600.4 2041.4,578.1 2041.8,570.6 2042.6,555.1 2043.4,539.8 2044.2,525.7 2045.0,513.7 2045.8,504.0 2046.6,495.6 2047.4,487.8 2048.2,479.6 2049.0,469.8 2050.6,447.3 2051.4,437.4 2052.2,430.5 2053.0,427.8 2053.8,451.9 2054.6,489.0 2055.1,496.1 2055.5,495.2 2056.3,488.2 2057.1,476.5 2057.9,462.7 2058.7,449.1 2059.5,438.2 2060.3,429.7 2061.1,421.8 2061.9,414.3 2062.7,407.1 2063.5,400.2 2065.1,386.5 2065.9,379.6 2066.7,372.5 2067.5,365.5 2068.3,358.5 2069.1,351.5 2069.9,344.6 2070.7,337.7 2072.3,324.0 2074.7,303.5 2076.3,289.8 2077.1,282.9 2078.3,272.5 2078.7,268.9 2079.5,260.9 2080.3,252.2 2081.1,243.1 2081.9,233.7 2082.7,224.4 2083.5,215.5 2084.3,207.1 2085.1,199.7 2085.9,193.5 2086.7,188.7 2087.5,185.6 2088.3,184.5 2099.6,184.5 2100.4,186.6 2101.2,192.3 2102.0,201.4 2102.8,213.3 2103.6,227.5 2104.4,243.7 2105.2,261.3 2106.0,279.9 2106.8,299.0 2107.6,318.3 2108.4,337.1 2109.2,355.1 2109.6,363.6 2110.0,372.7 2110.8,393.5 2111.6,415.3 2112.4,435.0 2113.2,449.4 2114.0,458.7 2114.8,465.9 2115.6,472.0 2116.4,477.8 2117.2,484.3 2118.0,492.4 2118.8,503.5 2119.6,516.8 2120.4,530.3 2121.2,541.7 2122.0,551.0 2122.8,559.7 2123.6,567.8 2124.4,575.4 2125.2,582.7 2126.0,589.7 2126.8,596.5 2128.4,610.0 2129.2,616.9 2129.6,620.4 2130.0,623.9 2130.8,631.1 2131.6,638.4 2133.2,653.1 2134.0,660.4 2134.8,667.4 2135.6,674.3 2136.4,680.9 2137.2,687.2 2138.0,693.0 2138.8,698.4 2139.6,703.2 2140.4,707.6 2141.2,711.6 2142.0,715.3 2142.8,718.8 2143.6,722.1 2144.5,725.3 2146.1,731.7 2146.9,735.0 2147.7,738.4 2148.5,741.9 2150.1,749.0 2152.5,759.7 2154.1,766.7 2154.9,770.2 2155.7,773.7 2156.5,777.1 2157.3,780.5 2158.1,783.8 2158.9,787.0 2159.7,790.2 2160.5,793.2 2161.3,796.3 2162.1,799.3 2162.9,802.2 2163.7,805.2 2164.5,808.0 2165.3,810.9 2166.1,813.7 2166.9,816.5 2167.7,819.2 2168.5,822.0 2170.1,827.3 2171.7,832.6 2174.9,843.1 2176.5,848.3 2177.3,850.9 2178.1,853.4 2178.9,855.9 2179.7,858.3 2180.5,860.7 2181.3,862.9 2182.1,865.1 2182.9,867.2 2183.7,869.3 2184.5,871.2 2185.3,873.1 2186.1,874.9 2186.9,876.7 2187.7,878.5 2188.6,880.2 2189.4,881.9 2190.2,883.5 2191.0,885.1 2191.8,886.7 2192.6,888.2 2193.4,889.7 2194.2,891.1 2195.0,892.5 2195.8,893.9 2197.4,896.6 2199.0,899.1 2200.6,901.6 2202.2,904.0 2203.8,906.3 2205.4,908.5 2206.2,909.6 2207.0,910.6 2207.8,911.6 2208.6,912.6 2209.4,913.6 2210.2,914.5 2211.8,916.3 2213.4,918.1 2215.0,919.7 2216.6,921.4 2218.2,922.9 2219.8,924.4 2221.4,925.8 2223.0,927.1 2223.8,927.7 2224.6,928.3 2226.2,929.4 2227.8,930.4 2229.4,931.3 2231.0,932.2 2232.6,933.0 2235.1,934.2 2238.3,935.7 2243.9,938.2 2247.1,939.6 2249.5,940.6 2251.9,941.6 2253.5,942.2 2255.1,942.7 2257.5,943.5 2259.9,944.2 2262.3,944.8 2264.7,945.4 2267.1,946.0 2268.7,946.3 2271.9,946.3" stroke="#FF0000" stroke-width="7.4" stroke-linejoin="miter" stroke-miterlimit="3" stroke-linecap="butt" clip-path="url(#zn)"/>
<g stroke-linejoin="miter" stroke-miterlimit="3" stroke-linecap="butt">
<use href="#pg" stroke="#4A8C78" stroke-width="6.6" clip-path="url(#zw)"/>
<use href="#pg" stroke="#3F9640" stroke-width="5.3" clip-path="url(#zg)"/>
<use href="#pg" stroke="#558F50" stroke-width="5.6" clip-path="url(#zr)"/>
</g>
</g>
<rect x="828.8" y="25.5" width="532.8" height="1447.7" fill="#92D050" fill-opacity="0.3"/>
<rect x="1604.5" y="25.5" width="398.5" height="1447.7" fill="#92D050" fill-opacity="0.3"/>
<rect x="2008.8" y="25.5" width="252.4" height="1447.7" fill="#FF0000" fill-opacity="0.3"/>
<path d="M181.4,24.0 H2271.6" stroke="#8c8c8c" stroke-width="4" fill="none"/>
<path d="M181.4,1473.2 H2271.6" stroke="#858585" stroke-width="4.5" fill="none"/>
<g fill="#111" style="font-kerning:none" text-rendering="geometricPrecision">
<text transform="translate(123.7,147.9) scale(1.008,1)" font-family="'Liberation Serif', serif" font-size="64.0">4</text>
<text transform="translate(123.2,357.0) scale(0.993,1)" font-family="'Liberation Serif', serif" font-size="64.0">3</text>
<text transform="translate(123.1,562.4) scale(1.121,1)" font-family="'Liberation Serif', serif" font-size="64.0">2</text>
<text transform="translate(130.6,769.2) scale(0.777,1)" font-family="'Liberation Serif', serif" font-size="64.0">1</text>
<text transform="translate(126.1,978.5) scale(1.106,1)" font-family="'Liberation Serif', serif" font-size="64.0">0</text>
<text transform="translate(108.9,1184.9) scale(0.982,1)" font-family="'Liberation Serif', serif" font-size="64.0">-1</text>
<text transform="translate(108.8,1391.1) scale(1.028,1)" font-family="'Liberation Serif', serif" font-size="64.0">-2</text>
<text transform="translate(172.3,1539.2) scale(1.088,1)" font-family="'Liberation Serif', serif" font-size="64.0">0</text>
<text transform="translate(551.8,1539.2) scale(1.019,1)" font-family="'Liberation Serif', serif" font-size="64.0">10</text>
<text transform="translate(953.3,1540.8) scale(1.064,1)" font-family="'Liberation Serif', serif" font-size="64.0">20</text>
<text transform="translate(1355.0,1533.6) scale(1.068,1)" font-family="'Liberation Serif', serif" font-size="64.0">30</text>
<text transform="translate(1754.9,1536.1) scale(1.057,1)" font-family="'Liberation Serif', serif" font-size="64.0">40</text>
<text transform="translate(2156.6,1531.6) scale(1.002,1)" font-family="'Liberation Serif', serif" font-size="58.0">50</text>
<text transform="translate(1129.3,1614.0) scale(0.990,1)" font-family="'Liberation Serif', serif" font-size="83.2">Time [s]</text>
<text transform="translate(76.0,904.9) rotate(-90) scale(1.039,1)" font-family="'Liberation Serif', serif" font-size="80.2">Force [N]</text>
<g fill="#000">
<text transform="translate(224.3,142.4) scale(1.149,1)" font-family="'DejaVu Serif', serif" font-size="96.4" font-style="italic" stroke="#fff" stroke-width="1.4" stroke-linejoin="round">f</text>
<text transform="translate(288.1,93.3) scale(1.030,1)" font-family="'Liberation Serif', serif" font-size="58.8" font-style="italic">cmd</text>
<text transform="translate(271.0,162.8) scale(1.007,1)" font-family="'Liberation Serif', serif" font-size="48.0" font-style="italic">v</text>
<text transform="translate(216.1,258.7) scale(1.235,1)" font-family="'DejaVu Serif', serif" font-size="102.5" font-style="italic" stroke="#fff" stroke-width="1.4" stroke-linejoin="round">f</text>
<text transform="translate(286.3,205.8) scale(1.061,1)" font-family="'Liberation Serif', serif" font-size="62.4" font-style="italic">cmd</text>
<text transform="translate(266.0,281.1) scale(1.201,1)" font-family="'Liberation Serif', serif" font-size="57.5" font-style="italic">ω</text>
<text transform="translate(241.9,339.8) scale(0.769,1)" font-family="'DejaVu Sans', sans-serif" font-size="61.4" font-weight="bold">^</text>
<text transform="translate(222.2,409.1) scale(1.205,1)" font-family="'DejaVu Serif', serif" font-size="108.5" font-style="italic" stroke="#fff" stroke-width="1.4" stroke-linejoin="round">f</text>
<text transform="translate(294.6,353.3) scale(1.077,1)" font-family="'Liberation Serif', serif" font-size="63.6" font-style="italic">ext</text>
<text transform="translate(276.7,432.0) scale(1.128,1)" font-family="'Liberation Serif', serif" font-size="55.0" font-style="italic">v</text>
<text transform="translate(241.6,479.1) scale(0.723,1)" font-family="'DejaVu Sans', sans-serif" font-size="58.1" font-weight="bold">^</text>
<text transform="translate(223.3,542.7) scale(1.236,1)" font-family="'DejaVu Serif', serif" font-size="99.0" font-style="italic" stroke="#fff" stroke-width="1.4" stroke-linejoin="round">f</text>
<text transform="translate(291.4,493.3) scale(1.063,1)" font-family="'Liberation Serif', serif" font-size="57.0" font-style="italic">ext</text>
<text transform="translate(272.9,567.8) scale(1.144,1)" font-family="'Liberation Serif', serif" font-size="55.6" font-style="italic">ω</text>
</g>
<g stroke-width="13" fill="none">
<path d="M402.5,100 H545" stroke="#F00000"/>
<path d="M409.2,227 H542.5" stroke="#139E73"/>
<path d="M405,368 H542.5" stroke="#8F04D0"/>
<path d="M410.8,501 H545.8" stroke="#E39E10"/>
</g>
<text transform="translate(991.6,123.8) scale(0.954,1)" font-family="'Liberation Serif', serif" font-size="102.2" font-style="italic" fill="#EA0F14">Area<tspan font-style="normal" font-size="100.4" dx="6.5" textLength="38.3" lengthAdjust="spacingAndGlyphs">1</tspan></text>
<text transform="translate(1692.9,122.5) scale(0.940,1)" font-family="'Liberation Serif', serif" font-size="104.1" font-style="italic" fill="#EA0F14">Area2</text>
<text transform="translate(2017.8,123.8) scale(0.909,1)" font-family="'Liberation Serif', serif" font-size="106.0" font-style="italic" fill="#EA0F14">Area3</text>
</g>
</svg>
</body>
</html>
